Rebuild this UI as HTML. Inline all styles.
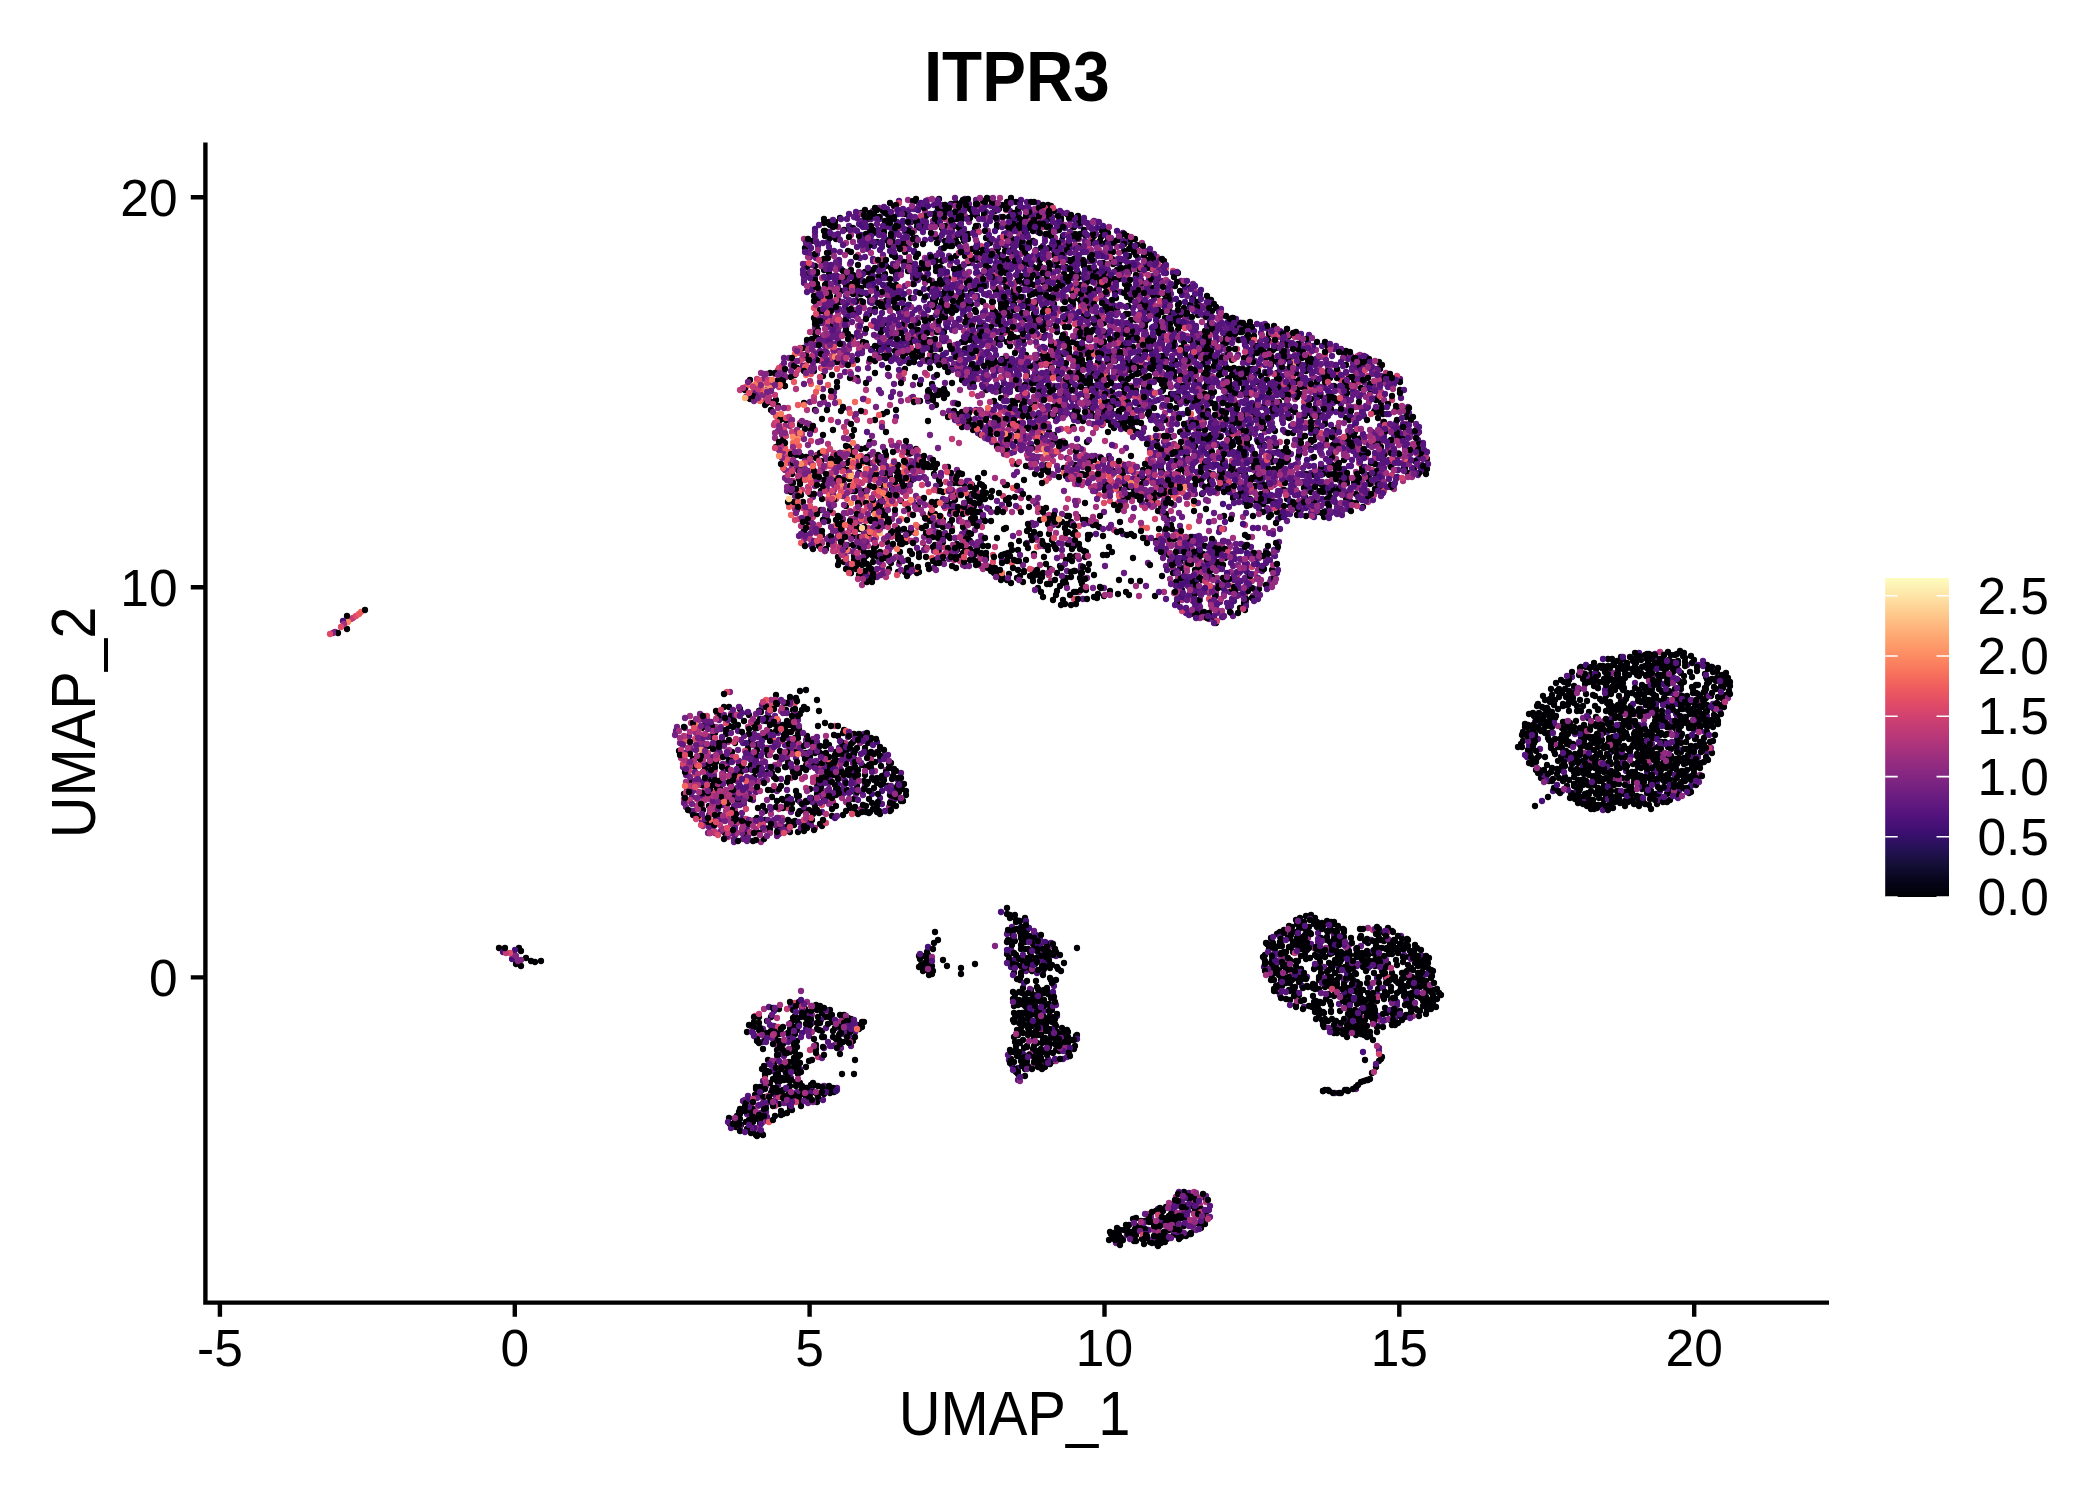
<!DOCTYPE html>
<html><head><meta charset="utf-8"><title>ITPR3</title>
<style>
html,body{margin:0;padding:0;background:#fff;width:2100px;height:1500px;overflow:hidden}
svg{display:block}
.t{font-family:"Liberation Sans",Arial,sans-serif;font-size:51.5px;fill:#000}
.ti{font-family:"Liberation Sans",Arial,sans-serif;font-size:70.9px;font-weight:bold;fill:#000}
.ax{font-family:"Liberation Sans",Arial,sans-serif;font-size:62.8px;fill:#000}
</style></head><body>
<svg width="2100" height="1500" viewBox="0 0 2100 1500">
<rect width="2100" height="1500" fill="#fff"/>
<g fill="none" stroke-linecap="round" stroke-width="6.3">
<path stroke="#a3307e" d="M1043 227h0m22-2h0m-46 12h0m-173 6h0m221 0h0m21 7h0m11 0h0m43-7h0m15 14h0m-109-3h0m-212 16h0m0-4h0m61-1h0m29 5h0m181 5h0m-145 5h0m-72 18h0m203-7h0m103 1h0m-36 13h0m-87 2h0m-40-5h0m-13-1h0m-168 2h0m140 18h0m225-3h0m1 1h0m-104 7h0m-110 7h0m-3-3h0m-69 3h0m-33-5h0m-41-2h0m-18 0h0m18 18h0m91-2h0m88 4h0m201-6h0m28-1h0m11 5h0m71 10h0m-173-1h0m-31-2h0m-19-2h0m-203 8h0m-6-3h0m-30-4h0m-41 6h0m-31-4h0m7 9h0m165 7h0m82 2h0m35-6h0m22-3h0m240 16h0m-22 3h0m-75-6h0m-151 1h0m-54 6h0m-67-1h0m-30-5h0m50 11h0m7 5h0m25-5h0m12 0h0m118-1h0m117 14h0m-240 2h0m-16-2h0m-5-2h0m-54 22h0m53-3h0m104-5h0m28 2h0m11 5h0m21 1h0m57-2h0m90-7h0m73 17h0m-10-3h0m-7 4h0m-61-5h0m-120 7h0m-217-9h0m-15 6h0m-12-7h0m19 12h0m9 5h0m6 5h0m15 1h0m39-2h0m238-6h0m39 4h0m25 3h0m8-8h0m8 7h0m15-3h0m3 7h0m-180 7h0m-104-6h0m-43 0h0m-75 1h0m35 20h0m120 0h0m184-8h0m54 6h0m11-9h0m6 3h0m-51 13h0m-17 1h0m-142 4h0m-6-1h0m-80-8h0m-94 22h0m248 0h0m10-10h0m85 4h0m43-3h0m-35 21h0m-8-4h0m-143-5h0m-55 2h0m-125 9h0m59 3h0m28 4h0m28-4h0m10 6h0m124-1h0m-87 9h0m-103 1h0m-51-6h0m-86 2h0m-28 13h0m9 5h0m206 2h0m38 1h0m49-1h0m19-1h0m-22 10h0m-8-1h0m-55-6h0m-244 3h0m139 13h0m110 5h0m31 2h0m63-3h0m-226 5h0m-48 3h0m-9 1h0m-2-3h0m-119 19h0m3-4h0m186 0h0m173 0h0m46 1h0m-25 12h0m-106 2h0m43 4h0m37 11h0m-448 89h0m10 11h0m-64 2h0m-18 7h0m17 7h0m57 10h0m-45 5h0m-38 5h0m130 19h0m-39-9h0m-1 3h0m-5 5h0m-12-4h0m-62 2h0m45 7h0m45 8h0m835 4h0m-800 9h0m-68-10h0m-5 9h0m-43 9h0m123 3h0m9-4h0m-71 16h0m-44-8h0m-1 5h0m22 14h0m34-7h0m33 10h0m-46 0h0m-13 1h0m558 119h0m-550 61h0m63 7h0m215 15h0m-266 67h0m-24 5h0m11 19h0m413 75h0m17 4h0m7 4h0m5 9h0m-28-1h0m-29 1h0"/>
<path stroke="#832681" d="M879 208h0m30 15h0m24-2h0m36 1h0m-16 14h0m83 34h0m50 0h0m1 3h0m1-5h0m52 18h0m-130-10h0m0 2h0m-78 3h0m207 13h0m3-5h0m44 3h0m-268 26h0m3-6h0m264 6h0m-47 10h0m-126 0h0m-188 13h0m169 6h0m258-9h0m-155 14h0m-291 6h0m145 10h0m378-1h0m14 9h0m-556 1h0m-2-5h0m-20 7h0m8 8h0m503 6h0m60-6h0m-47 12h0m-464 3h0m-67-6h0m186 17h0m155-3h0m105 4h0m45 0h0m-44 9h0m-357-1h0m-38 2h0m-3-1h0m-28 8h0m4 4h0m196-2h0m440 0h0m-20 20h0m-572 1h0m-1 1h0m-8 0h0m-34-3h0m43 7h0m31 8h0m54-6h0m290-5h0m38 5h0m59 2h0m-11 15h0m-126 0h0m-284 0h0m-21 0h0m-11-1h0m-7 1h0m-10-1h0m-21-3h0m-15-2h0m-1-2h0m-6 0h0m-1-1h0m32 12h0m28 6h0m0-3h0m410 5h0m118-6h0m-164 18h0m-50-5h0m-24 0h0m-211 4h0m-38 2h0m-6 1h0m-32 10h0m15-2h0m22-1h0m11 4h0m28 0h0m200-10h0m-187 18h0m-10-3h0m-48 3h0m-18-1h0m-5-3h0m-26 19h0m21-8h0m3 1h0m62 3h0m9 4h0m262 27h0m-287 0h0m310 29h0m-874 39h0m1278 41h0m-883 19h0m947 26h0m-73 3h0m90 7h0m-817 24h0m713 10h0m-750 3h0m-154-2h0m200 7h0m730 9h0m11 3h0m-765 29h0m-127 15h0m317 120h0m-267 125h0m38 22h0m-27 5h0m-49 24h0m409 111h0m13-9h0"/>
<path stroke="#932b80" d="M908 200h0m71 6h0m-14 1h0m-40 4h0m-87 16h0m111-3h0m16-8h0m64 4h0m23-1h0m27 20h0m-24-1h0m-40-9h0m-27 2h0m-87-3h0m-62 11h0m153 12h0m71-7h0m28 6h0m26-3h0m18 1h0m-80 13h0m-8-1h0m-149 2h0m52 3h0m19 7h0m85 0h0m95 11h0m-54 0h0m-79-1h0m-28-3h0m-20-1h0m-33 9h0m-10-4h0m-93 5h0m55 7h0m52-7h0m15 8h0m3 0h0m42-8h0m2 2h0m56 0h0m0 8h0m9-1h0m21-9h0m30 3h0m12 0h0m18 5h0m23-6h0m34 16h0m-38-4h0m-44 4h0m-29 5h0m-5-6h0m-28 6h0m-2-2h0m-18-8h0m-4 8h0m-180 1h0m-13 11h0m23-5h0m31 5h0m30-4h0m9 5h0m9-3h0m28 4h0m16-8h0m95 5h0m82 2h0m37-7h0m18 2h0m11 1h0m-31 16h0m-31 1h0m-105-1h0m-9-9h0m-35 0h0m-45 9h0m-71-9h0m-12 0h0m-34 5h0m18 7h0m139 6h0m74-6h0m13 0h0m1 7h0m57 1h0m47 1h0m61-5h0m9-4h0m26 9h0m19 11h0m-7-7h0m-21 5h0m-19 3h0m-192-4h0m-67-4h0m-35 2h0m-19-1h0m-64 1h0m-30 10h0m73 0h0m20 6h0m34-3h0m50 0h0m92-4h0m51 5h0m130 2h0m-4 10h0m-15-3h0m-19 5h0m-19 1h0m-13-1h0m-46-3h0m-53 3h0m-21-3h0m-55-4h0m-105 7h0m-208-7h0m199 17h0m46 5h0m104 0h0m21-9h0m102 9h0m6 0h0m11 0h0m61-3h0m39-7h0m5 2h0m-116 16h0m-218-3h0m153 14h0m30-4h0m161-2h0m18 14h0m-3 7h0m-32 2h0m-10-4h0m-142 2h0m-14 2h0m-13-7h0m-46-3h0m-26 3h0m-77-1h0m-39 0h0m-191 3h0m-5 0h0m-10 12h0m21-2h0m353 2h0m40 2h0m24 1h0m30-3h0m22-6h0m7 9h0m33-5h0m30-2h0m26 4h0m29 12h0m-32 1h0m-87 2h0m-44-9h0m-447 7h0m53 5h0m409 3h0m20 2h0m143-4h0m7 20h0m-14-7h0m-35 9h0m-73-10h0m-36 1h0m-19 1h0m-414-3h0m37 18h0m437 5h0m99-2h0m-32 4h0m-24-1h0m-39 9h0m-49-9h0m21 17h0m12 3h0m-40 5h0m-19 12h0m41-1h0m8 3h0m-54 14h0m-27 4h0m-15 1h0m-8-6h0m31 18h0m42-2h0m17-7h0m0 5h0m-1 12h0m-85-2h0m-3 11h0m38 0h0m9-1h0m36 18h0m-37-3h0m444 90h0m41 18h0m-66 13h0m-95 3h0m-809-3h0m129 29h0m-138-4h0m-26-6h0m24 20h0m47-5h0m817 5h0m77 2h0m-90 7h0m-815-3h0m74 20h0m45-8h0m825 4h0m-91 7h0m-842-2h0m-49 11h0m171 16h0m-28 2h0m-100 33h0m607 86h0m-81 5h0m21 5h0m-286 30h0m314-7h0m-44 11h0m73 35h0m-558-5h0m5 13h0m601 1h0m-33 4h0m-542 4h0m-46 12h0m43 9h0m-59-1h0m1 15h0m4 5h0m23 26h0m-42 7h0m387 133h0m5 0h0m37-6h0"/>
<path stroke="#56147d" d="M899 201h0m122-1h0m6 2h0m11 1h0m-6 7h0m-8-2h0m-5 5h0m-9-2h0m-19-5h0m-5 6h0m-1-6h0m-51-1h0m-15 1h0m-16 3h0m-54 17h0m14 1h0m17-10h0m0 2h0m3 8h0m3 0h0m16-3h0m7-7h0m29 1h0m22 7h0m25-6h0m16-2h0m15 3h0m27-1h0m2 1h0m25 0h0m10 6h0m14-5h0m11 8h0m-67 3h0m-25-1h0m-9 3h0m-4 4h0m-36-9h0m-12 2h0m-9 2h0m0-4h0m-11 9h0m-1 1h0m-21-10h0m-5 3h0m-12 5h0m0-5h0m-64 0h0m28 15h0m3-6h0m8 8h0m12 1h0m25-7h0m9 8h0m25-11h0m23 8h0m15-5h0m38-3h0m2 5h0m6-3h0m20 4h0m11 4h0m8-10h0m8 8h0m5-8h0m51 2h0m19 9h0m15 9h0m-6-6h0m-16 4h0m-4 5h0m-2 0h0m-5-1h0m-30-9h0m-3 8h0m-5 0h0m-8 1h0m-23-6h0m-55 5h0m-52 0h0m-56-6h0m-78-1h0m24 15h0m30 5h0m9-8h0m15 5h0m6 0h0m19-3h0m20 7h0m22-5h0m14 3h0m5 2h0m26-5h0m8-5h0m3 6h0m6-5h0m15 9h0m14-1h0m1-9h0m9 2h0m29 4h0m16-1h0m13 4h0m24-7h0m18 0h0m7 18h0m-8-4h0m-8-1h0m-1-4h0m-4 4h0m-8 0h0m-56 1h0m-10 5h0m-3-8h0m-46 3h0m-20 6h0m-36-7h0m-10 3h0m-3-6h0m-43 7h0m-17-6h0m-2 1h0m-10-1h0m-2 0h0m-10-2h0m-4 7h0m-19 2h0m-23-6h0m-12-2h0m-3 9h0m-8-6h0m0 3h0m3 9h0m60 2h0m7-5h0m19 6h0m3-4h0m62-2h0m7 0h0m2 7h0m8-8h0m26 7h0m16 0h0m6 2h0m1-7h0m7 1h0m45 3h0m4-6h0m17 1h0m24 3h0m26-1h0m21-3h0m53 21h0m-20 0h0m-2-4h0m-7 1h0m-21-6h0m-26 11h0m-3-10h0m-7 1h0m-2 6h0m-29-8h0m-2 0h0m-10 0h0m-11 4h0m-8 1h0m-37-4h0m-25 0h0m-2 0h0m-3 4h0m-6-5h0m-46 2h0m-10 5h0m-20-7h0m-9 10h0m-45-8h0m0-2h0m-14 2h0m-11 2h0m0 3h0m-6-6h0m-11 0h0m-2 14h0m32-3h0m41 0h0m64 2h0m7 7h0m23-6h0m3 3h0m11-3h0m7 2h0m6 1h0m30-5h0m15 3h0m10 3h0m21 1h0m17-7h0m11 3h0m17 0h0m1 6h0m12-7h0m18 0h0m18 2h0m21 1h0m98 17h0m-8-1h0m-35-6h0m-4-3h0m-1 8h0m-33 0h0m-9-8h0m-5 0h0m-18 8h0m0-5h0m-3 6h0m-40-1h0m-1-5h0m-11 1h0m-6 1h0m-13 1h0m-1 4h0m-22-7h0m-3-1h0m-8-3h0m-52 4h0m-10-2h0m-30-2h0m-40 0h0m-18 1h0m-7 4h0m-6 0h0m-10-5h0m-1 10h0m-1-4h0m-57 7h0m31 10h0m3-5h0m3-5h0m10 5h0m21 3h0m50 0h0m8 0h0m42-1h0m29 2h0m10-4h0m14 2h0m13-4h0m6 6h0m31 0h0m21 1h0m4-4h0m2-5h0m7 0h0m1 7h0m13 0h0m5-9h0m22 10h0m31-8h0m27 4h0m7 4h0m32-1h0m9-2h0m14 3h0m14 0h0m-20 13h0m-12-10h0m-11 8h0m-55-2h0m-21-1h0m-5-6h0m-13 6h0m-3-6h0m-19 4h0m-11 2h0m-2-5h0m-17 8h0m-19 0h0m-11-9h0m-13 7h0m-3-4h0m-3 6h0m-20 2h0m-41-4h0m-2 3h0m-12-8h0m-45-2h0m-10 5h0m0-5h0m-14 5h0m-3-4h0m0 10h0m-5-6h0m-37 6h0m-24-3h0m-8-3h0m-15-3h0m29 11h0m9 2h0m29-1h0m17-2h0m29 8h0m6-5h0m5 7h0m2-10h0m20 7h0m1-5h0m12 4h0m22-2h0m43 2h0m14-3h0m19 4h0m11-5h0m15 8h0m13-10h0m3 7h0m2-3h0m14 0h0m37 6h0m2-6h0m4-4h0m3 10h0m31-9h0m1 0h0m54 4h0m6 0h0m37 3h0m4 0h0m15 1h0m29 10h0m-25 4h0m-11-1h0m-54-1h0m-17 0h0m-20 1h0m-5-10h0m-7 11h0m-12-9h0m-25 7h0m-18-2h0m-17-6h0m-10 10h0m-24-10h0m-33 3h0m-15-2h0m-46 0h0m-17 6h0m-1 0h0m-7-7h0m-21 4h0m-31-4h0m-7 4h0m5 8h0m26 5h0m1 2h0m25-2h0m9-2h0m54 5h0m5-9h0m49 7h0m2 4h0m47-6h0m60-2h0m56 8h0m9-7h0m6 5h0m12-5h0m10 3h0m15 16h0m-20-5h0m-2-5h0m-3-1h0m-2 8h0m-3-4h0m-5 3h0m-5 1h0m-12 0h0m-29 0h0m-19-5h0m-16 7h0m0-3h0m-14 3h0m-32-7h0m-23 1h0m-58-1h0m-27-3h0m-11 3h0m-11 8h0m-4-1h0m-2 1h0m-4-2h0m-5-4h0m-14 6h0m-51-2h0m-20 5h0m97 7h0m47 1h0m22-8h0m30 9h0m7-5h0m12 5h0m8-8h0m10 6h0m12-4h0m11-3h0m12 0h0m5 9h0m14-3h0m19 0h0m35-6h0m1 1h0m4 4h0m6-4h0m0 5h0m8-4h0m7 0h0m7 4h0m17-8h0m8 2h0m14 4h0m20-1h0m0 3h0m-11 13h0m-2-6h0m-16 3h0m-49-1h0m-4 6h0m-2-11h0m-29 5h0m-5 1h0m-8 4h0m-37-10h0m-14 2h0m-4-1h0m-3 4h0m-15 2h0m-25-1h0m-62 2h0m-21-3h0m-9-1h0m-83-3h0m-21 4h0m22 10h0m11-3h0m127 11h0m39-10h0m26 6h0m7-3h0m14 5h0m9-7h0m41-2h0m12 8h0m33-5h0m64 0h0m7-1h0m10-1h0m8-1h0m4 11h0m1 7h0m-9-6h0m-59 11h0m-72 0h0m-10-2h0m-6 0h0m-6-1h0m-2-6h0m-16 0h0m-10 9h0m-17-11h0m-16 8h0m-14-5h0m-9 7h0m-1 1h0m-8-10h0m-5 3h0m-9 5h0m-4-5h0m-1 2h0m-119-6h0m-18 0h0m96 12h0m44 9h0m32-6h0m28 8h0m46-10h0m2 6h0m37-5h0m14 0h0m37 8h0m30-1h0m18-5h0m21-1h0m4 6h0m1 6h0m-5 4h0m-34-7h0m-2 11h0m0-2h0m-3-8h0m-30 9h0m-7-6h0m-15-1h0m-3-3h0m-13 5h0m-35 0h0m-12 4h0m-9 2h0m-5-10h0m-27 1h0m-1 9h0m-9-5h0m-10 4h0m-11-8h0m-22 4h0m-8 9h0m59 5h0m19-5h0m19-2h0m3-1h0m7 2h0m14 8h0m7 0h0m1-5h0m12-3h0m3 0h0m22 2h0m7 3h0m7 0h0m53-4h0m-22 17h0m-1-5h0m-6 6h0m-3-2h0m-1 1h0m-12 1h0m-22-8h0m-10 0h0m0 7h0m-20-7h0m-3 2h0m-7 3h0m-10-3h0m-10 4h0m-22-4h0m-4 1h0m-9-1h0m-4 12h0m30 2h0m9 2h0m19 3h0m14-10h0m11 6h0m14 1h0m5 2h0m5-2h0m4-4h0m1 2h0m1 6h0m-64 4h0m-69 3h0m-86 12h0m42-3h0m88-3h0m20 6h0m1 16h0m-8 1h0m-46 0h0m-6-9h0m-1-1h0m-12 1h0m-14 3h0m-7 6h0m-14-2h0m-9 0h0m12 5h0m22 2h0m4 1h0m52 0h0m10-1h0m0 2h0m9 5h0m8-8h0m1 1h0m2 17h0m-15-2h0m-23 2h0m-20-4h0m-2-5h0m-15 2h0m-4 2h0m-16 0h0m3 14h0m33 1h0m16-3h0m7 1h0m26 4h0m-9 14h0m-33-8h0m-26-2h0m-14 9h0m-102 1h0m110 2h0m1 8h0m5 1h0m0-5h0m18-1h0m14 0h0m0 2h0m15-4h0m-23 15h0m-1 0h0m-36-4h0m470 45h0m47 3h0m-16 4h0m-115 12h0m63 6h0m15-11h0m24 6h0m6 17h0m-74-7h0m-32 0h0m47 12h0m92 4h0m11-4h0m-4 11h0m-13 5h0m-11 3h0m-45-7h0m-10-3h0m-17 1h0m-13 9h0m-873 12h0m797-9h0m97 4h0m7-1h0m18-3h0m48 10h0m-98 0h0m-69 7h0m-674-5h0m-16 3h0m-80-3h0m-25 9h0m-54-7h0m14 12h0m47 6h0m21-6h0m14-3h0m19 10h0m35-7h0m701 1h0m39-5h0m128 8h0m0 7h0m-9-2h0m-56 7h0m-759-8h0m-35 3h0m-52-1h0m-40 3h0m-1-4h0m-27 6h0m-5 10h0m8 0h0m5 1h0m28 0h0m60-4h0m6 6h0m11-6h0m56 9h0m4-6h0m725-2h0m28 0h0m4 2h0m-765 17h0m-28-4h0m-13-6h0m-9 9h0m-80-8h0m-10 19h0m3-8h0m59 11h0m29-10h0m51 6h0m689 1h0m77-3h0m17 1h0m-796 6h0m-60 8h0m-78-8h0m-2 15h0m41 8h0m-36 3h0m587 105h0m-16-2h0m-284 1h0m-13-7h0m-9 0h0m28 12h0m0 6h0m11-2h0m260 1h0m7-2h0m83-6h0m21 20h0m-18-1h0m-48-6h0m-300 7h0m-44 6h0m14 9h0m16-11h0m1 11h0m314-5h0m25-4h0m45 12h0m-41 4h0m-40 2h0m-2 1h0m-37-4h0m-253 9h0m226 9h0m117 10h0m0-3h0m-58 2h0m-35 3h0m-248-2h0m-287 2h0m5 4h0m259 1h0m11-1h0m13 5h0m322 0h0m-32 5h0m-300 1h0m-195 2h0m-40-1h0m-38 3h0m-21 7h0m9 9h0m27-6h0m39 6h0m27-10h0m-4 14h0m-27 2h0m-40 8h0m225 4h0m39-1h0m-257 19h0m-18-7h0m-1 19h0m6-5h0m34 5h0m12-4h0m13 2h0m181-8h0m-195 20h0m-49-6h0m-7 9h0m-19-7h0m-5 5h0m4 13h0m14-1h0m7 8h0m-29-3h0m450 75h0m-31 16h0m14 2h0m1-7h0m0 3h0m3-5h0m4 4h0m2-6h0m-19 22h0m-15 8h0m28 5h0"/>
<path stroke="#f9785d" d="M780 426h0m374 12h0m-303 36h0m29 8h0m15 5h0m-8 11h0m-23 13h0m330-7h0m-278 29h0m-221 192h0"/>
<path stroke="#471078" d="M965 199h0m81 13h0m-97 0h0m-12 0h0m-39 2h0m88 11h0m88-6h0m3 16h0m-157-7h0m-46 5h0m-13 2h0m-33 7h0m46 4h0m28-1h0m39 4h0m161-5h0m43 18h0m-62-10h0m-74 11h0m2 6h0m14 1h0m94-6h0m66 23h0m-74 0h0m-131-4h0m-117-2h0m13 7h0m51 8h0m15-1h0m23-6h0m47 6h0m170 0h0m-69 10h0m-93 2h0m-90-3h0m-83-1h0m302 16h0m23 0h0m37-7h0m45 19h0m-101-4h0m-45 8h0m-10-5h0m-52 5h0m-146 6h0m32-1h0m111 7h0m166-9h0m93 2h0m11 6h0m53 11h0m-32-8h0m-34 5h0m-44-4h0m-83-1h0m-82 8h0m-118 7h0m92 2h0m86-3h0m10 0h0m36 3h0m23 4h0m68-1h0m-6 7h0m-28 1h0m-118-4h0m-64 3h0m-23 8h0m138 10h0m9-10h0m132 7h0m12-5h0m-117 12h0m-1 5h0m-10-7h0m-20 5h0m-43 0h0m-27 0h0m-117 7h0m97 5h0m55 3h0m26-2h0m53-1h0m29-5h0m11 6h0m79 4h0m-48 8h0m-63-6h0m-112 6h0m60 16h0m17 1h0m41-10h0m7 7h0m4-4h0m50-3h0m107 7h0m-5 8h0m-97-1h0m-78 5h0m-54-2h0m19 16h0m186-6h0m-161 31h0m67-9h0m27 17h0m-47 3h0m-31 0h0m-7-7h0m69 13h0m-131 50h0m8 0h0m2 0h0m29 1h0m3-4h0m29 12h0m-50 14h0m20 15h0m-19-6h0m37 11h0m421 53h0m16 39h0m15 6h0m8 31h0m-14 8h0m-828 12h0m714 9h0m-686 1h0m807 16h0m4 10h0m-12 5h0m-22-9h0m-95 9h0m-9 0h0m-654-9h0m-61 2h0m34 10h0m703-1h0m-539 142h0m245 8h0m39 11h0m-808 5h0m502 1h0m31 2h0m293 4h0m87 8h0m-48 4h0m-75 8h0m76 9h0m17 15h0m-17 16h0m-538 7h0m523 19h0m-340 2h0m-11 11h0m6 3h0m-229 36h0"/>
<path stroke="#d2426f" d="M899 203h0m146 15h0m-42 19h0m170 34h0m-77 28h0m13-9h0m51 11h0m50 29h0m-201 2h0m-183-7h0m27 15h0m63-3h0m442 19h0m-282-8h0m-243 12h0m564 16h0m-56 4h0m-288-3h0m-126-2h0m45 19h0m3 17h0m415 19h0m-598 2h0m19 9h0m247 11h0m-214 1h0m-31 12h0m12 2h0m36-11h0m287 4h0m54 1h0m-407 8h0m151 13h0m237 11h0m-180 3h0m-142 7h0m-33-4h0m-25 9h0m30 5h0m31-1h0m16-1h0m139-3h0m261-1h0m-125 12h0m-237 8h0m-52-6h0m10 17h0m283-2h0m22 0h0m-335 21h0m30 16h0m313 26h0m-354 127h0m-127 27h0m11 5h0m-6 2h0m-1 32h0m7 11h0m110-3h0m-42 8h0m600 169h0m-632 39h0m23 11h0m350 205h0"/>
<path stroke="#b2357b" d="M928 200h0m78 10h0m85 28h0m-286 26h0m79 22h0m-55 1h0m226 3h0m99 15h0m-334-2h0m18 11h0m240 5h0m-62 10h0m-172 17h0m465 8h0m-450-5h0m-51-1h0m13 20h0m5-1h0m4 0h0m556 6h0m-461 0h0m-22 6h0m-37 11h0m455 4h0m-182 3h0m-228 1h0m-47 1h0m-15 10h0m167 7h0m151 3h0m139 4h0m-64 8h0m-398-4h0m167 11h0m7 0h0m17-1h0m208 6h0m-72 6h0m-86 6h0m-2-5h0m-42-1h0m-22-1h0m-122 2h0m-22 5h0m-47-11h0m86 23h0m99-3h0m30-7h0m18 0h0m56 7h0m272 13h0m-170 2h0m-71-1h0m-14 0h0m-22-3h0m-7-3h0m-6-2h0m-50 8h0m-1-6h0m-246 3h0m273 9h0m8-2h0m23 1h0m34 2h0m234 10h0m-208 0h0m-19-1h0m-15 7h0m-54 0h0m-100-8h0m-149 9h0m-34 7h0m243 3h0m11 3h0m196 10h0m-381-6h0m-61 14h0m1 5h0m148-10h0m162 2h0m51 5h0m-3 10h0m-294 1h0m-7 4h0m-26 1h0m-13-8h0m-1-2h0m39 20h0m119-7h0m1 5h0m275 15h0m-223-4h0m146 8h0m32 13h0m-131 1h0m-728 27h0m1309 33h0m-969 71h0m57 4h0m46 2h0m51 14h0m-37-3h0m-111 4h0m952 17h0m-945-5h0m98 23h0m14-2h0m-56 14h0m-55-2h0m-21 10h0m4 2h0m19-4h0m119 17h0m-47-5h0m-44 1h0m-17-6h0m-16 1h0m35 18h0m40 195h0m-20 18h0m437 156h0"/>
<path stroke="#df4a68" d="M1166 268h0m-348 25h0m6 6h0m-10 9h0m-3 37h0m22 5h0m-54 18h0m480-2h0m-475 64h0m253 20h0m-119 1h0m128 30h0m67 2h0m54 6h0m8-5h0m-2 11h0m-55 8h0m-8-2h0m-6 2h0m-150-11h0m-56 0h0m-9 7h0m-95 5h0m167 6h0m118 16h0m-139 28h0m53 1h0m216 44h0m-135 0h0m-347 93h0m44 14h0m24-3h0m-5 39h0m-82-6h0m-24 19h0m94-11h0m44 61h0m-94 10h0m32 10h0m35 178h0"/>
<path stroke="#eb5760" d="M836 331h0m-20 11h0m278 12h0m-271 15h0m282 6h0m-359 12h0m82-2h0m273 17h0m-233-1h0m-92 15h0m262 13h0m295 25h0m-548-6h0m313 16h0m2 0h0m8 11h0m-39 4h0m-184-1h0m-8 11h0m136-1h0m-166 11h0m295 28h0m-260-10h0m-47 9h0m-25 1h0m65 6h0m-58 10h0m115 15h0m80 5h0m222-8h0m-539 219h0m24 42h0m-7 16h0"/>
<path stroke="#fc8a62" d="M1295 362h0m-456 40h0m-41 37h0m38 26h0m-4 12h0"/>
<path stroke="#c23b75" d="M1030 216h0m-146 20h0m97 10h0m108-1h0m-231 10h0m284 19h0m-79 49h0m38 12h0m136 14h0m-158 2h0m-13-1h0m-136 5h0m-128 4h0m-20 7h0m11-4h0m19-1h0m237 1h0m331 5h0m-12 9h0m-75 0h0m-518-2h0m-7 6h0m-11-1h0m-17 11h0m13 3h0m626-8h0m-23 22h0m-230-10h0m-90 7h0m-222-7h0m-48 3h0m235 10h0m201 12h0m-320 1h0m-67 7h0m-15-7h0m-25 0h0m177 16h0m88 4h0m240-1h0m-238 7h0m-42-4h0m-166 8h0m-8-1h0m-39 5h0m30-1h0m12 9h0m239 0h0m65 0h0m233-8h0m6 13h0m-235 4h0m-48 4h0m-181-10h0m-42 10h0m-44-9h0m-29 12h0m9 9h0m7-1h0m65-2h0m23-1h0m64 4h0m217 2h0m-342 7h0m74 15h0m35-6h0m19 1h0m178-4h0m-160 22h0m-131 0h0m-52-8h0m50 18h0m8 0h0m11-9h0m2 11h0m125 8h0m-19-2h0m-33 2h0m-110 4h0m-19-8h0m373 24h0m58 20h0m1-8h0m-410 188h0m-147 4h0m57 48h0m-22 13h0m649 98h0m-586 79h0m31 48h0"/>
<path stroke="#651a80" d="M1037 213h0m-68-9h0m128 18h0m5 6h0m-46 3h0m-11 6h0m15 13h0m6-4h0m19-5h0m6 2h0m19 12h0m-19 6h0m-26-8h0m-20 4h0m-6 4h0m-67 2h0m-23-7h0m-13 0h0m-126 1h0m-7 17h0m140-5h0m178 3h0m60 9h0m-23-2h0m-18-3h0m-3 4h0m-86 1h0m-29 2h0m-184 4h0m-34-10h0m19 15h0m34 3h0m42 0h0m2-5h0m88 3h0m64 2h0m34 2h0m84-3h0m16 2h0m-38 7h0m-58 2h0m-28-5h0m-20 6h0m-14-2h0m-5-3h0m-58 1h0m-127 7h0m-3-6h0m-6-3h0m0 16h0m16 1h0m6 5h0m37-1h0m4-5h0m11 6h0m4-5h0m75 6h0m11-1h0m7-9h0m1 5h0m47-2h0m220 14h0m-4-6h0m-39 4h0m-97 7h0m-125-9h0m-12 5h0m-26-6h0m-12 1h0m-11 5h0m-63 4h0m-15-2h0m-20 0h0m-17-6h0m-12 18h0m66-3h0m64-4h0m113 8h0m56-8h0m66 2h0m42 5h0m30 1h0m35-4h0m-26 12h0m-39 2h0m-90-5h0m-23 6h0m-38 2h0m-83-4h0m-9-4h0m-47 5h0m-71-3h0m-15 0h0m-8-2h0m87 10h0m53 10h0m19-2h0m21 1h0m16-6h0m20-2h0m124 9h0m30-1h0m72-10h0m2 0h0m38 4h0m55 5h0m5 7h0m-19-2h0m-6 0h0m-20-2h0m-35 3h0m-50 4h0m-40-3h0m-18 3h0m-5 4h0m-12-4h0m-51-6h0m-76 4h0m0 2h0m-14-6h0m-2 4h0m-4 5h0m-2 1h0m0-11h0m-8 9h0m-7-5h0m-40 7h0m-71-5h0m-12-2h0m-69 6h0m-39-8h0m-25 18h0m48-8h0m30 8h0m47 1h0m12-1h0m35 3h0m8-5h0m69 1h0m49-5h0m47 9h0m121-8h0m99 0h0m56 3h0m31 17h0m-42-1h0m-15-6h0m-171 4h0m-29 1h0m-105-8h0m-128 4h0m-5-4h0m-50 2h0m-35 6h0m142 5h0m11 1h0m13-1h0m31 4h0m17-1h0m180 3h0m5-6h0m10-1h0m29 6h0m38-7h0m22 2h0m37 3h0m53 11h0m-66 3h0m-45 1h0m-6-7h0m-17-1h0m-10 3h0m-29 2h0m-29-5h0m-42 4h0m-16-3h0m-78 0h0m-22 0h0m-74 6h0m-4 6h0m14 6h0m9 0h0m48 3h0m84-5h0m31 5h0m43-6h0m24-1h0m16-2h0m8 1h0m40 6h0m42 2h0m8 0h0m31-9h0m41 1h0m-7 20h0m-22-6h0m-21 4h0m-18-6h0m-1 4h0m-11-2h0m-16 0h0m-1 3h0m-20-6h0m-38 6h0m-11-4h0m-92 3h0m-2-6h0m-31 4h0m-60-2h0m-62 2h0m-3-3h0m-92 9h0m7 11h0m0-4h0m114 6h0m2-7h0m4 2h0m143-2h0m16 2h0m38 5h0m20-11h0m106 3h0m-3 20h0m-26-5h0m-39 3h0m-9-9h0m-93 10h0m-38-5h0m-18 6h0m-22-10h0m-33 4h0m-160-5h0m-8 9h0m18 7h0m166 6h0m10-9h0m83 0h0m19 6h0m19-7h0m53 11h0m81-9h0m22 14h0m-171-3h0m-46 8h0m-14-6h0m-13-3h0m-13 6h0m-4 2h0m-176 6h0m6 8h0m2-4h0m16-2h0m13-2h0m74 5h0m110-5h0m49 7h0m53-5h0m44 5h0m10-7h0m16 1h0m-50 14h0m-107 5h0m-10 0h0m-81-3h0m-38-2h0m-19 2h0m-53-1h0m-45 4h0m31 5h0m144-3h0m67 4h0m17 5h0m12 2h0m64-6h0m10 9h0m-43 7h0m-59-4h0m-15 1h0m-1-1h0m-117 1h0m-105 4h0m-128-5h0m191 15h0m146 3h0m15-5h0m2-5h0m5 8h0m83-8h0m-87 13h0m-99 5h0m-102-5h0m-31 2h0m212 18h0m34-6h0m91-1h0m-41 13h0m-6 2h0m-20-2h0m-5 1h0m-95-5h0m96 12h0m9 19h0m443 58h0m-890 28h0m4 0h0m15-5h0m-6 16h0m-14-6h0m-40 8h0m-14 2h0m12 0h0m98 17h0m-28 2h0m-10 1h0m-1-7h0m-20 4h0m-4-3h0m-3 5h0m-38-7h0m-30 6h0m22 6h0m7 2h0m6 6h0m40-8h0m5 8h0m25-6h0m65 17h0m-27 2h0m-81-7h0m-62 9h0m3 8h0m47-1h0m59-6h0m56 3h0m-19 12h0m-52 8h0m-40-3h0m-6-2h0m-8-6h0m-16 2h0m-23 21h0m8-6h0m5 2h0m38-6h0m8 10h0m148-2h0m-92 11h0m-29-5h0m-36-1h0m-11-1h0m-29 6h0m8 10h0m7 6h0m40-7h0m25 0h0m4-2h0m-1 18h0m-12-8h0m-30 7h0m-1 4h0m13 2h0m628 88h0m-105 14h0m79 2h0m-558 60h0m549 21h0m-577 3h0m-12-3h0m90 22h0m226 9h0m289 32h0m-21 4h0m-538-1h0m-8 0h0m-44 8h0m439 105h0m12-2h0m14 14h0m-12 6h0m-38-10h0m-9 4h0m-24 18h0m66-8h0m-77 16h0"/>
<path stroke="#000004" d="M913 201h0m2 0h0m1-2h0m47 1h0m5-1h0m16 2h0m6-2h0m4 4h0m13-1h0m4-4h0m5 4h0m15 0h0m3 0h0m33 12h0m-13-3h0m-6-6h0m-30 4h0m-10-3h0m-6-1h0m-30 6h0m-31 0h0m-3-3h0m-4 6h0m-10-6h0m-19 6h0m-17 1h0m-59 9h0m4 3h0m31-7h0m21 3h0m5-7h0m27 7h0m0 4h0m6-3h0m3-8h0m26 6h0m5-3h0m5 0h0m8-1h0m7-2h0m20 11h0m12-10h0m17-1h0m4 9h0m8-2h0m10-4h0m2 7h0m11-8h0m8 0h0m5 9h0m4-11h0m1 7h0m2-3h0m40 15h0m-13-2h0m-2-2h0m-4 0h0m-1 6h0m-7-1h0m-19-2h0m-23-4h0m-1 6h0m-39 3h0m-27-8h0m-17 3h0m-9-6h0m-1 7h0m-22 2h0m-60-5h0m-23-4h0m-23 10h0m-6-7h0m46 14h0m16-5h0m3 5h0m18 1h0m30-3h0m8-2h0m5 5h0m6-5h0m66 4h0m0-3h0m27 6h0m9-5h0m21 3h0m21-5h0m7 2h0m6 0h0m2-2h0m3-1h0m6 11h0m13-6h0m16 14h0m-2-3h0m-6-2h0m-61 9h0m-10-4h0m-2 1h0m-15 2h0m-55-2h0m-2-5h0m-23 5h0m-12-4h0m-14 2h0m-9 3h0m-20 2h0m-17-11h0m-13 3h0m-62-3h0m-9 9h0m-12 12h0m8-1h0m41-7h0m7 7h0m21-6h0m5 2h0m5 6h0m12-3h0m50-2h0m31-1h0m17 5h0m23-9h0m9 4h0m11 2h0m17-3h0m6 7h0m5-2h0m44-4h0m8 4h0m20-6h0m42 21h0m-16-1h0m-15-3h0m-35 1h0m-6-5h0m-9 5h0m-2-5h0m-15-3h0m-6 6h0m-7 3h0m-22-5h0m-11 1h0m-9-2h0m-4 6h0m-3-7h0m-4-1h0m-6-1h0m-73 2h0m-52 7h0m-4 1h0m-2-7h0m-21 0h0m-8 1h0m-4 4h0m-5 0h0m-2 0h0m-12-6h0m-13 7h0m3 11h0m2 0h0m23-2h0m8-6h0m0 6h0m7 1h0m8-6h0m35 9h0m22 1h0m12-8h0m16 8h0m35-8h0m11-3h0m6 4h0m8 5h0m12-3h0m7-1h0m10-4h0m6 0h0m18 10h0m16-10h0m6 2h0m20 7h0m8-5h0m3 4h0m8-2h0m3-5h0m31 9h0m24-1h0m23 9h0m-4 4h0m-15-9h0m-18 1h0m-1 2h0m-20 5h0m-41-2h0m-23-4h0m-6 5h0m-8-9h0m-7 4h0m-6 5h0m-4 0h0m-9-5h0m-19 0h0m-42-2h0m-12-1h0m-6 9h0m-4-6h0m-5 2h0m-10 4h0m-1-2h0m-4-1h0m-7-1h0m-10 1h0m-39 0h0m-11 0h0m-23-6h0m-44 13h0m6 6h0m12 3h0m34-9h0m55 4h0m15 3h0m2-9h0m11 1h0m58 1h0m16 5h0m8-3h0m0 6h0m0-8h0m5 4h0m55 5h0m32-9h0m20 7h0m11-7h0m13-2h0m6 10h0m4-7h0m6-1h0m12 1h0m42 8h0m1 0h0m33 3h0m-7 0h0m-30 0h0m-32 5h0m-25-6h0m-2 5h0m-1-6h0m-11 0h0m-3 9h0m-5-7h0m-32 1h0m-33 3h0m-11-2h0m-4 0h0m-9-1h0m-4 0h0m-32 5h0m-9-1h0m-13 3h0m-4-4h0m-6-5h0m-10 2h0m-12 0h0m-35 5h0m-7 0h0m-19-2h0m-2 0h0m-14-5h0m-20 3h0m-66 8h0m3 3h0m32-2h0m12 5h0m25 2h0m40 2h0m6-5h0m28 1h0m40-3h0m17-1h0m4 2h0m18-3h0m26 2h0m1 3h0m9 2h0m20-6h0m3 7h0m28-5h0m3-2h0m19 1h0m3 2h0m54 2h0m8 2h0m8-4h0m3 2h0m13-3h0m8-3h0m7-1h0m14 4h0m19 5h0m38-3h0m3 5h0m41 12h0m-23-8h0m-40 6h0m-3-5h0m-1 6h0m-26-10h0m-32 10h0m-9-9h0m-20 9h0m-4-7h0m-24 7h0m-2-5h0m-1-4h0m-3-1h0m-72 8h0m-21-5h0m-19-3h0m-6 6h0m-9-5h0m0 8h0m-5-2h0m-6 0h0m-17 0h0m-11-2h0m-21 6h0m-29-10h0m-30 7h0m-4-6h0m-10 7h0m-37-1h0m-5-7h0m-7 0h0m-46 3h0m-34 13h0m22 6h0m3-11h0m40 0h0m52 3h0m21 5h0m4-8h0m54 3h0m5 0h0m8 0h0m9 8h0m1-5h0m27-5h0m28 2h0m15 4h0m17-5h0m10 0h0m29 5h0m29-7h0m4 10h0m2-2h0m16-7h0m3 8h0m29 0h0m12 0h0m2-1h0m9 1h0m10-7h0m0 7h0m18-4h0m6-3h0m34 0h0m69 7h0m5 8h0m-4 3h0m-36 2h0m-8-4h0m-7 0h0m-3-2h0m-2 6h0m-26-2h0m-22-2h0m-21 4h0m-28-4h0m-6-4h0m-3 1h0m-22 7h0m-9-3h0m-14-3h0m-5-4h0m-31 11h0m-6-7h0m-4 3h0m-13-6h0m-3 6h0m-34-4h0m-19 1h0m-7-3h0m-79 0h0m-141 2h0m-9 1h0m-28-1h0m-4 2h0m-8 4h0m-13-8h0m-20 7h0m-5 10h0m40-4h0m52 1h0m103 4h0m1 3h0m45-4h0m13 1h0m2-3h0m49 4h0m16-4h0m2-3h0m8 2h0m20 1h0m34 0h0m4-1h0m10 0h0m18 4h0m1-1h0m4-4h0m4 8h0m5 0h0m3-7h0m4-1h0m11 2h0m11-1h0m2-3h0m4 1h0m15 4h0m5 2h0m12 1h0m1-5h0m40 7h0m5-9h0m13 2h0m46 0h0m13 1h0m39 2h0m-19 13h0m-44-2h0m-9-1h0m0-3h0m-17 2h0m-38 3h0m-26-6h0m-12 8h0m-64-5h0m-5-1h0m-108 7h0m-27-2h0m-6-1h0m-3 4h0m-10-5h0m-1 6h0m-67-9h0m-8 7h0m-113-8h0m-19 6h0m-28-3h0m-5 2h0m-4 1h0m-17-4h0m21 11h0m70 1h0m42 3h0m4-2h0m64 4h0m5 1h0m6-5h0m7 7h0m0-6h0m44-3h0m7 1h0m9 4h0m0 3h0m22-4h0m3 2h0m8-7h0m12 5h0m1-3h0m4 6h0m9-6h0m6 5h0m11-6h0m6 0h0m8 1h0m7-3h0m6 2h0m0 8h0m18-1h0m4-9h0m66 9h0m6-4h0m0 6h0m11-10h0m16 3h0m3 5h0m2 2h0m14-8h0m30 6h0m3-1h0m2-3h0m5 3h0m2-7h0m27 0h0m5 9h0m28-6h0m9 2h0m12-3h0m2-1h0m16 7h0m2 14h0m-4-11h0m-14 0h0m-48 0h0m-15 10h0m-17-1h0m-1-6h0m-41 8h0m-11-3h0m-1-5h0m-1 4h0m-29-3h0m-34 5h0m-34-9h0m-9 9h0m-23 1h0m-3-8h0m-6 1h0m-13 2h0m-82 4h0m0-2h0m-12 4h0m-27-1h0m-4-10h0m-1 11h0m-12-1h0m-4-6h0m-5 1h0m-89-5h0m-24 4h0m-46 5h0m-19-9h0m37 15h0m83 6h0m75-6h0m28 1h0m8 5h0m37 1h0m0-7h0m54-3h0m29 0h0m4 4h0m30 1h0m21 2h0m45-2h0m1 1h0m1 4h0m8 1h0m11-1h0m35-9h0m8 5h0m10 4h0m5-6h0m39-4h0m3 7h0m17 3h0m3 0h0m7-10h0m18 7h0m3-7h0m17 23h0m-3-1h0m-2-7h0m-37 0h0m-13 6h0m-9-8h0m-83 1h0m-12-1h0m-34 4h0m-9-2h0m-26-1h0m-15 2h0m-102-1h0m-162 2h0m-8-2h0m-1 5h0m-22-1h0m-7 4h0m-12-7h0m-5 1h0m-10 5h0m-2-7h0m-12 8h0m-37 12h0m1-11h0m9 1h0m33 10h0m5-4h0m7-5h0m25 5h0m17 4h0m26-7h0m4 4h0m10 0h0m11 3h0m69-3h0m9 2h0m49-1h0m112-9h0m45 9h0m21-3h0m1 5h0m17-9h0m1 4h0m9 3h0m40 2h0m11-10h0m5 8h0m7-5h0m60 7h0m23-8h0m-8 14h0m-5-4h0m-6 4h0m-14-3h0m-17 1h0m-8 4h0m-29 0h0m-5-7h0m-4 7h0m-8-1h0m-17 0h0m-38-6h0m-12 8h0m-4 2h0m-9-6h0m-23-1h0m-35 1h0m-4-3h0m-19 3h0m-13-4h0m-6 2h0m-3 7h0m-18-7h0m-33 3h0m-7 1h0m-18-6h0m-16 1h0m-5 1h0m-8 4h0m-51-1h0m-50 1h0m-33 2h0m-4 3h0m0-2h0m-1-6h0m-6 5h0m-18 2h0m-13-5h0m-12-3h0m-8 8h0m-47-4h0m32 6h0m11 1h0m15 5h0m31 4h0m11-1h0m3-7h0m7 0h0m5 4h0m4-5h0m29 3h0m14-1h0m4 0h0m2 0h0m16 5h0m8-1h0m21-2h0m12 1h0m86 1h0m5-2h0m11 3h0m10-1h0m13-3h0m11-1h0m11 5h0m31-3h0m6-4h0m9 4h0m13-1h0m7 4h0m15-3h0m10 1h0m12 1h0m17 3h0m20-2h0m15-5h0m3 2h0m2 2h0m6 4h0m2-3h0m25-5h0m12-3h0m1 4h0m5 5h0m4-2h0m3 0h0m-14 9h0m-41 3h0m-4-7h0m-9 10h0m-6-2h0m-3-3h0m-18 2h0m-16 2h0m-4-9h0m-6 2h0m-5 7h0m-18-5h0m-5 2h0m-31-4h0m-38-1h0m-4 1h0m-5 8h0m-1-3h0m-6 1h0m-119-2h0m-14-1h0m-24 0h0m-8-5h0m-2 8h0m-6-4h0m-3-2h0m-4 3h0m-13 3h0m-12-8h0m-121 7h0m-19 3h0m-2-7h0m20 15h0m25-4h0m13-1h0m17 2h0m9 8h0m28 0h0m5-10h0m17 0h0m16 6h0m12 3h0m14-2h0m21-3h0m31-2h0m17 1h0m68-3h0m6 1h0m38 5h0m8 3h0m111-2h0m13-6h0m28 6h0m11-6h0m-5 11h0m-18-1h0m-53 0h0m-82 9h0m-4-6h0m-81 1h0m-15 2h0m0 3h0m-2-9h0m-2 8h0m0-8h0m-9 9h0m-4-6h0m-6 5h0m-20 0h0m-45-7h0m-10 6h0m-10 4h0m-13-3h0m-7 3h0m0-7h0m-17 6h0m-55-5h0m-1-2h0m-18 3h0m-16-2h0m-25-1h0m-3 3h0m10 9h0m24 7h0m12-2h0m39-5h0m9 7h0m24-5h0m3 3h0m9 2h0m1-3h0m4 4h0m7-1h0m19-5h0m37-5h0m43 6h0m16-6h0m8 6h0m2-2h0m1 2h0m12 1h0m43-1h0m3 2h0m7-5h0m40 0h0m10 6h0m54-2h0m31 8h0m-61 5h0m-28 2h0m-40-7h0m-63 8h0m-4-2h0m-6-3h0m-19 1h0m-1-2h0m-8 1h0m-4-5h0m-24 9h0m-6 0h0m-1-5h0m-41-4h0m0 8h0m-5-1h0m-8 2h0m-14-8h0m-37 0h0m-6 2h0m-13-2h0m-11 4h0m-16 1h0m-5-1h0m-8-1h0m-15-3h0m-3 2h0m9 13h0m16 3h0m0-4h0m3 4h0m7-8h0m2 4h0m3-2h0m11-2h0m5 5h0m1 1h0m3-3h0m2 8h0m52-1h0m7-9h0m51 3h0m6 5h0m10 0h0m9-1h0m8-6h0m10 3h0m32-1h0m36-4h0m76 11h0m2-6h0m10-1h0m19 6h0m6-4h0m43-4h0m-4 15h0m-84-1h0m-92 2h0m-17 2h0m-21-3h0m-4-5h0m-7 11h0m-6-2h0m-9-1h0m-6-2h0m-19 3h0m-11-5h0m-36-2h0m-33 6h0m-2 1h0m-19-1h0m-33 3h0m-3-10h0m-3 10h0m-8-2h0m16 9h0m2-5h0m133-1h0m5 4h0m10-2h0m13-2h0m3 5h0m1-5h0m6 5h0m2-4h0m8 7h0m5-4h0m27 4h0m18 3h0m19-7h0m43-4h0m19 2h0m11 0h0m0 5h0m7-6h0m20 9h0m40 3h0m-13 10h0m-52-4h0m-65 0h0m-19-4h0m-13 7h0m-3-1h0m-7 2h0m-31-4h0m-13 2h0m-2-5h0m12 8h0m124 3h0m22-3h0m41 8h0m4-5h0m1 7h0m-29 13h0m-2-6h0m-10-5h0m-3 4h0m-10-2h0m-853 19h0m1270 26h0m4 0h0m18-2h0m17 2h0m8-4h0m5 4h0m23-3h0m24 9h0m-10 6h0m-3-11h0m-9 2h0m-7-1h0m0 9h0m0-6h0m-3 3h0m-2-5h0m-7 7h0m-2-8h0m-12 6h0m-3-2h0m-7 2h0m-16-1h0m-6-4h0m-2 8h0m-4-6h0m-4 4h0m-2-2h0m-3 4h0m-5-4h0m-3 2h0m-3-5h0m-3 4h0m-30 13h0m8-2h0m10-3h0m10 7h0m1-4h0m4 3h0m4-6h0m5 7h0m3-4h0m5 1h0m4 1h0m5 3h0m5-5h0m0-4h0m9-2h0m7 1h0m5 2h0m0 1h0m14-1h0m2 1h0m3-3h0m16 0h0m3 9h0m0-6h0m6-4h0m19 10h0m4-10h0m4 0h0m13 10h0m-1 9h0m-8-5h0m-7 1h0m-7-3h0m-2 8h0m-7-7h0m-2 0h0m-4 2h0m-11-2h0m-6 4h0m-6 2h0m-1-7h0m-9 5h0m-18 5h0m-2-4h0m-15-2h0m-2 0h0m-10-1h0m-1 7h0m-13-6h0m-4-2h0m-26-2h0m-6 9h0m-10 2h0m-752-4h0m-24 4h0m-47 12h0m48-3h0m13-3h0m27-1h0m725 7h0m8-8h0m4 4h0m9 3h0m24-5h0m15 0h0m19 1h0m18-2h0m13 5h0m5-5h0m5 1h0m5-1h0m0 5h0m8-7h0m2 5h0m2-5h0m3 6h0m6 1h0m8-5h0m7 0h0m4 5h0m8 0h0m3-8h0m3 9h0m1-8h0m2 9h0m-7 10h0m-3-2h0m0-6h0m-15 2h0m-8 0h0m-3-1h0m-7-1h0m-23 10h0m-3-3h0m-5-8h0m-8 4h0m-30-2h0m-14-1h0m-10 9h0m-30-9h0m-3 9h0m-1-1h0m-6-2h0m-3-1h0m-1-6h0m-11 5h0m-726-4h0m-5 1h0m-2 4h0m-14-4h0m-26 9h0m-20-10h0m-9 7h0m-11-1h0m-4-4h0m13 15h0m9-1h0m6-4h0m5 8h0m5-5h0m2-1h0m1 5h0m19-3h0m2 0h0m7 5h0m9-2h0m24-2h0m7-3h0m6 3h0m13 4h0m681-3h0m3 0h0m3-1h0m2-1h0m0 6h0m12-9h0m0 5h0m20-5h0m2 5h0m2 1h0m7-7h0m4 10h0m0-2h0m5-1h0m5 2h0m3-6h0m7 4h0m2-3h0m9-2h0m9 8h0m15-10h0m1 4h0m16 2h0m1 3h0m0-5h0m2-4h0m2 9h0m7-5h0m3 2h0m12-3h0m3-1h0m7 0h0m5 2h0m5-1h0m8-4h0m5 0h0m6 4h0m-3 11h0m-19 2h0m-1 2h0m-7-2h0m-6-3h0m-5 9h0m-1-9h0m-11 8h0m-1 1h0m-6-7h0m-6 3h0m-8 2h0m-6-4h0m-4-3h0m0 0h0m-11 4h0m-4 3h0m-5-1h0m-1-3h0m-4 1h0m-10-5h0m0 9h0m-2-8h0m-2 9h0m-4-4h0m-1-2h0m-9 1h0m-17-6h0m-4 7h0m-11-6h0m-1 5h0m-13-4h0m-12 7h0m0-9h0m-653 9h0m-3-8h0m-5 4h0m-8-3h0m-1 8h0m-15-6h0m-31 0h0m-9-2h0m0 4h0m0-3h0m-3 8h0m-8-11h0m-36 10h0m-16 1h0m-8-11h0m-3 11h0m-9-10h0m-3 4h0m-33 14h0m69-2h0m0-1h0m6-3h0m13 5h0m1 5h0m21-11h0m12 8h0m5 1h0m6-2h0m3 2h0m11 0h0m3-8h0m7 7h0m18 2h0m14-1h0m10-1h0m644-5h0m8 7h0m6-3h0m15-5h0m3 5h0m6-6h0m6 6h0m1 4h0m3-10h0m5 9h0m1 1h0m5-8h0m9 2h0m21-1h0m6 2h0m3 3h0m15-8h0m7 9h0m10-1h0m1-5h0m18 1h0m7 2h0m3 1h0m20-5h0m3-3h0m8 9h0m-6 4h0m-9 8h0m-1-2h0m-7-1h0m-5-4h0m0 6h0m-3-3h0m-4 3h0m0-1h0m-14 0h0m-1 3h0m-3-9h0m-5 3h0m-11 1h0m-3-3h0m-2 4h0m-5 2h0m-9-6h0m-7 9h0m-1-9h0m-5 6h0m-1-2h0m-15-5h0m-12 4h0m-5 0h0m0 2h0m-13 3h0m-1-4h0m-2 4h0m-1-9h0m-22-1h0m-3 6h0m-4 2h0m-3-1h0m-667 2h0m-16-1h0m-6-3h0m-6 2h0m-5-1h0m-7 1h0m-9 0h0m-8-4h0m-17 3h0m-2 5h0m-35-2h0m-25-9h0m-10 6h0m-21 5h0m-2-8h0m18 20h0m27-1h0m29-5h0m7 4h0m25-4h0m3-5h0m24 9h0m16-5h0m7 3h0m33 1h0m3-1h0m4-7h0m4 8h0m1-5h0m2 0h0m643-1h0m2 8h0m5 1h0m5-7h0m6 2h0m0-5h0m2 9h0m18-9h0m12 6h0m7 3h0m2-5h0m6 6h0m2-11h0m0 10h0m5-7h0m2 3h0m4 1h0m16 2h0m2 2h0m6-11h0m20 2h0m0 5h0m6 1h0m0-1h0m2 4h0m1-6h0m2-5h0m3 11h0m9-5h0m10-5h0m2 9h0m-17 8h0m-12-5h0m-2 7h0m-14 3h0m-3-4h0m-17 0h0m-6-2h0m-8 6h0m-13-5h0m-1 5h0m-1-10h0m-3 0h0m-5 4h0m-3 6h0m-9-11h0m-8 4h0m-5-4h0m-6 1h0m-5 10h0m-9-10h0m-643 10h0m-38-9h0m-11 4h0m-10 4h0m-11 0h0m-15-3h0m-4-3h0m-1-4h0m-6 9h0m-38 1h0m-8-7h0m-34 1h0m-20 5h0m-8-4h0m-11-4h0m92 19h0m15 0h0m1-4h0m22-4h0m3 7h0m12-4h0m3-2h0m10 7h0m23 3h0m27-11h0m2 9h0m5-6h0m666-1h0m3 5h0m3-4h0m0 8h0m1-3h0m1-3h0m4-1h0m1-2h0m3-1h0m1 1h0m8-2h0m7 8h0m2-4h0m22 4h0m4 0h0m5-2h0m6 2h0m8-4h0m5-2h0m11 0h0m5 0h0m19-2h0m-34 12h0m-12 0h0m-20 2h0m-14-2h0m-2 1h0m-7 0h0m-4 0h0m-1 3h0m-3 1h0m-701-5h0m-2 6h0m-1 1h0m-10 3h0m-3-2h0m-4-3h0m-7-3h0m-8 8h0m-3-2h0m-5-4h0m-50 3h0m-2 3h0m-15-6h0m-18 3h0m-2-5h0m-31 4h0m-12 5h0m-11-9h0m-6 4h0m7 12h0m24-1h0m0-4h0m2 2h0m8 4h0m21-3h0m23 6h0m4-4h0m3-1h0m25 3h0m12-8h0m-34 16h0m-20-3h0m-11 0h0m248 86h0m281 5h0m16-1h0m15 2h0m66 11h0m-1-1h0m-4-3h0m-4 5h0m-7-6h0m-14 2h0m-3 0h0m-17 0h0m-5-3h0m-16 3h0m-2-3h0m-11 1h0m-7-2h0m-10 2h0m-12 5h0m-1 1h0m-238 2h0m-21-3h0m-3-3h0m-5 2h0m0 3h0m-74 6h0m70 0h0m14 1h0m3-5h0m0 6h0m8 2h0m13-1h0m221 1h0m2 2h0m2-8h0m8 8h0m17-5h0m4-4h0m32 6h0m7-6h0m2 6h0m1-5h0m2-1h0m16 1h0m5 3h0m12 0h0m2-3h0m2 2h0m3 1h0m6 3h0m5-3h0m5 3h0m2-5h0m1 7h0m5 0h0m21 12h0m-3-2h0m-8 0h0m-1-8h0m-8 9h0m-5 1h0m0-9h0m-1 8h0m-5-4h0m0-2h0m-9 3h0m-3-5h0m-13 4h0m-5 2h0m-1-4h0m-10 0h0m-1 4h0m-12-1h0m-8-4h0m-6 4h0m-10-4h0m-4-1h0m-1 6h0m-5 3h0m-1-10h0m-7 1h0m-1 7h0m-20-3h0m-17 5h0m-1-1h0m-203-2h0m-12 0h0m-2-7h0m-15 8h0m-12 3h0m-11-5h0m-78 4h0m-3-6h0m-3 4h0m-4 3h0m-421-11h0m17 16h0m25-3h0m382 5h0m4 4h0m6 1h0m28-3h0m63 0h0m8 3h0m10-5h0m2 3h0m0-3h0m13 1h0m208-6h0m4 8h0m8 0h0m9-4h0m10 1h0m19 0h0m23-3h0m3-3h0m7 3h0m22-2h0m6 1h0m6 9h0m4-4h0m2-3h0m9 1h0m10 6h0m6-1h0m2-7h0m3 3h0m0-1h0m5 2h0m1-7h0m4 3h0m5 8h0m-2 7h0m-9-6h0m-16 5h0m-2 1h0m-6 5h0m-2-2h0m-1-4h0m-10-4h0m-6 4h0m-22 5h0m-20-2h0m-8 0h0m-1-3h0m-7 0h0m0-4h0m-16 5h0m-6 4h0m-3-4h0m-10 5h0m-2-6h0m-3 3h0m-7 0h0m-1-6h0m-2 1h0m-215 5h0m-4 3h0m-1-3h0m-31 0h0m-3-1h0m-56-5h0m-32 1h0m84 17h0m6 0h0m3 1h0m10 1h0m6 0h0m0-5h0m6 4h0m3-5h0m6 7h0m226-10h0m11 6h0m9 4h0m8-9h0m18 1h0m23 6h0m3-4h0m12 1h0m5 3h0m5 0h0m5-4h0m9 6h0m4-8h0m9 4h0m1-3h0m3-2h0m5 8h0m3-1h0m8-6h0m6 4h0m4-1h0m7 9h0m-1 8h0m-4-8h0m-3 3h0m-6 4h0m-11-5h0m-1-3h0m-6 7h0m-28-4h0m-1-3h0m-2 9h0m-2-5h0m-4 5h0m-4-5h0m-5-3h0m-2 5h0m-6-3h0m-8 0h0m-12 4h0m-35 0h0m-15-7h0m-237 8h0m0-6h0m-23 4h0m-3-2h0m-4 4h0m-1-7h0m-214 3h0m-3 4h0m-6-4h0m-36 15h0m5 0h0m12 0h0m24-1h0m9-3h0m1-4h0m1 9h0m4-6h0m30 3h0m4 0h0m4 3h0m3 1h0m164-1h0m7-5h0m5 2h0m2-6h0m7 6h0m1-3h0m7 5h0m5-6h0m254-2h0m20 3h0m2 7h0m6-7h0m1 7h0m18-3h0m0-4h0m6 6h0m10-6h0m5 5h0m4-5h0m17 7h0m13-2h0m1-2h0m2 0h0m3-3h0m-28 15h0m-18-7h0m-6 7h0m-10-1h0m-13-5h0m-9 0h0m-3 6h0m-1-2h0m0-1h0m-271-2h0m-7 4h0m-1-5h0m-8 10h0m-19-1h0m-3-8h0m-152 5h0m0-5h0m-3 3h0m-24 3h0m-13 3h0m-3-1h0m-2-1h0m-20 1h0m-2-3h0m0-7h0m-5 9h0m-7-2h0m-22 3h0m-2-7h0m-5-1h0m3 17h0m2 4h0m6-3h0m2-5h0m8-3h0m0 6h0m4 3h0m0-7h0m11 7h0m32-4h0m14 2h0m3 1h0m4 2h0m4-1h0m6 0h0m2-4h0m164 5h0m4-2h0m8-7h0m11 10h0m3-5h0m0 3h0m2 2h0m8-4h0m1-3h0m5-2h0m3-2h0m4 11h0m275-9h0m18 0h0m3 1h0m3 2h0m6 3h0m-298 6h0m-1 3h0m-9-4h0m-6 6h0m-9-7h0m-1 8h0m0-5h0m-5 5h0m-3-3h0m-6 2h0m-2-2h0m-6-3h0m-11 4h0m-6 0h0m-170 4h0m-17-7h0m-7-2h0m0 8h0m-3-4h0m-22 0h0m-1 3h0m-7-8h0m-6 6h0m-4-6h0m-10 5h0m5 11h0m20 7h0m10-10h0m8 10h0m3-6h0m3-1h0m199-1h0m10 2h0m3 1h0m1-5h0m13 0h0m7 10h0m1-5h0m4 2h0m20-8h0m306 11h0m-4 6h0m-347-4h0m-10 0h0m-226 4h0m-1-3h0m0 9h0m-3 0h0m-9-4h0m-7-3h0m-4 2h0m8 14h0m7-7h0m4-1h0m6 6h0m10-3h0m7 5h0m6-5h0m15 6h0m495 2h0m2-1h0m23 1h0m8-4h0m5-5h0m3-1h0m3-1h0m-28 13h0m-505-1h0m-4 1h0m-12 4h0m-1-3h0m-4-2h0m-19 3h0m-4 4h0m-26-2h0m-4-2h0m-14 8h0m-7 9h0m1 2h0m11-3h0m2-2h0m26-5h0m2 7h0m9-3h0m2 2h0m-31 8h0m-1 5h0m-5-4h0m-6 1h0m-9-1h0m-3-3h0m-2 5h0m-6-3h0m27 17h0m3-1h0m438 63h0m-9-1h0m-5-1h0m-17 12h0m25-1h0m4 3h0m1-9h0m11 11h0m-2 9h0m-2-4h0m-26 7h0m-5-3h0m-3-4h0m-2 4h0m-3 0h0m-15-3h0m-4 4h0m-9-3h0m-26 14h0m9-2h0m1 0h0m12 5h0m3-6h0m1-3h0m5 2h0m17 0h0m16 6h0m5 5h0m-12 0h0m0 0h0m-2 3h0m-4 1h0m-4 1h0m-1-7h0m-14 2h0m-21-1h0m-1 7h0m-2-6h0m-5-2h0"/>
<path stroke="#f4675c" d="M795 354h0m-43 32h0m8 15h0m17 14h0m71 36h0m-65-7h0m4 19h0m65 4h0m6-10h0m4 6h0m30 3h0m12 0h0m160 7h0m-210 9h0m-55 10h0m74 12h0m57 11h0m-45 23h0m22 0h0m130 9h0"/>
<path stroke="#752181" d="M873 211h0m267 86h0m-163 7h0m-162 24h0m9 17h0m28 11h0m-9 1h0m-9-6h0m-35 10h0m11 7h0m15 3h0m10-10h0m88 0h0m31 3h0m-131 25h0m173 3h0m23-7h0m11 3h0m337-1h0m-547 17h0m-66-3h0m-8-4h0m27 15h0m176-1h0m239 12h0m-148-1h0m-168 14h0m58-1h0m62 7h0m69 7h0m-34 0h0m-23 5h0m-100-7h0m-21 0h0m-72 6h0m71 10h0m38-6h0m113-1h0m24 10h0m10-8h0m4 5h0m29-6h0m51 2h0m-2 18h0m-21 1h0m-7-1h0m-48-5h0m-6 1h0m-13 2h0m-2-1h0m-95-4h0m-22 6h0m-15-5h0m-47 1h0m-76-3h0m-12 9h0m2 13h0m0-11h0m28 6h0m14-5h0m26 10h0m5-1h0m90-6h0m139-3h0m52 7h0m25-3h0m5 6h0m19-2h0m8 14h0m-226-7h0m-21 1h0m-108-1h0m-30 1h0m-5 14h0m15-1h0m127-4h0m229 7h0m-106 11h0m-114-3h0m-75 5h0m-41-7h0m-16-3h0m-2 0h0m-12 8h0m-2-4h0m-5 18h0m21 1h0m10-8h0m0 7h0m21 0h0m6-5h0m9-5h0m7 2h0m75 8h0m6 0h0m14-8h0m269 15h0m-172-1h0m-120 7h0m-148-7h0m50 8h0m9 5h0m160 8h0m-54 1h0m124 22h0m490 130h0m-846-3h0m-60 12h0m8 1h0m78-7h0m15 0h0m35 18h0m-125 0h0m13 8h0m23-1h0m118 3h0m-136 17h0m-16 11h0m24-2h0m48 38h0m-53 2h0m-23-8h0m28 19h0m2-7h0m-1 14h0m673 106h0m-192 291h0"/>
<path stroke="#f4675c" d="M978 358h0m-172 17h0m301 11h0m-252 16h0m187 29h0m-249 12h0m-13 13h0m62 15h0m-33 5h0m1 4h0m30 8h0m28 1h0m79 2h0m-118 3h0m60 10h0m-23 33h0m50 32h0m-555 43h0m416 107h0m-4 21h0m55 19h0m-127 58h0m9 3h0"/>
<path stroke="#000004" d="M890 203h0m49-4h0m17 4h0m6-1h0m21-1h0m2 1h0m7 0h0m59 4h0m-9 3h0m-36 0h0m-7 0h0m-4 2h0m-11 2h0m-11 1h0m-3-5h0m-12 1h0m-7-6h0m-5 8h0m-50-7h0m-2 1h0m-11 5h0m-9 3h0m-4-1h0m-9 0h0m-37 6h0m0 4h0m16-5h0m28 9h0m1-8h0m2 7h0m8-9h0m6 4h0m9-4h0m4 9h0m13-4h0m6-2h0m18-1h0m3 5h0m7 2h0m9 0h0m24 0h0m6-10h0m19 1h0m7 1h0m9 0h0m42 2h0m12 7h0m9-5h0m2 8h0m-4 4h0m-2 4h0m-15-2h0m-4-6h0m-19 3h0m-7-2h0m-5-3h0m-4 3h0m-17 6h0m-32-8h0m-12 9h0m-21-10h0m-26 10h0m-7-7h0m-3-1h0m-22 2h0m-14 0h0m-11 4h0m-15-6h0m-8 9h0m-11-8h0m-20 17h0m7-7h0m36 10h0m29-9h0m16 0h0m10 1h0m55 1h0m19 4h0m6 2h0m7-7h0m7 7h0m1-2h0m6-3h0m8 5h0m12 0h0m5-7h0m0 4h0m4-6h0m8 7h0m17-1h0m35-5h0m13 1h0m2-3h0m3 11h0m32-5h0m6 7h0m-2 7h0m-3-4h0m-8-1h0m-7 1h0m-9 5h0m-7-9h0m-1 7h0m-9 4h0m-11-3h0m-2-3h0m-22 3h0m-6-5h0m-8 0h0m-5 8h0m-26 0h0m-9-8h0m-6 4h0m-9-3h0m-9 1h0m-8-1h0m-3 0h0m-11 7h0m-12-7h0m-34 7h0m-13-2h0m-5 1h0m-80-3h0m-17 8h0m8-1h0m9 4h0m5 3h0m14-2h0m8-1h0m2 5h0m32-1h0m7-3h0m6-2h0m21 1h0m17 1h0m0-4h0m24 0h0m23-3h0m2 8h0m11-3h0m37-2h0m7-1h0m6 3h0m12-1h0m6 6h0m12 1h0m2-2h0m6-7h0m12 5h0m8 1h0m13-2h0m9-2h0m4-1h0m6 8h0m3-6h0m8-1h0m5 1h0m26 4h0m5 11h0m-6-2h0m-26-3h0m-9 4h0m-13 3h0m-15-6h0m-11-4h0m-3 10h0m-9-8h0m-13 0h0m-9-1h0m-9 8h0m-4 2h0m-13-5h0m-12 2h0m-3 1h0m-3-2h0m-7-5h0m-14 4h0m-35-1h0m-2 2h0m-22 0h0m-12 2h0m-4-5h0m-16 4h0m-34-8h0m-7 3h0m-17-3h0m-5 0h0m-4 10h0m-7-5h0m-24-1h0m-1 16h0m4-8h0m0 10h0m19-1h0m4-6h0m5-1h0m12-1h0m40 9h0m27-1h0m18-3h0m18-4h0m1 5h0m9-3h0m5 6h0m19-9h0m19 0h0m5 1h0m11 5h0m8-1h0m34-3h0m8 1h0m24 2h0m11-1h0m29 0h0m11 3h0m3-1h0m6-1h0m4 0h0m12-3h0m36 17h0m-5-8h0m-21 5h0m-6 3h0m-16-1h0m-3-7h0m-19 7h0m-5-3h0m-10-4h0m-3 6h0m-17 4h0m-1-2h0m-4 3h0m-35-11h0m-20 9h0m-6 0h0m-17 0h0m0-8h0m-4 4h0m-16 4h0m-3-1h0m-4-4h0m-8 6h0m-10-8h0m-41-1h0m-7 1h0m0 5h0m-26-2h0m-5 3h0m-1-8h0m-9 0h0m-8 1h0m-36 10h0m-1-1h0m-9-8h0m-26 16h0m32 2h0m8-6h0m31 9h0m33 0h0m10-2h0m4-3h0m13-1h0m20 5h0m2-5h0m28-5h0m15 7h0m12-6h0m62 2h0m16 1h0m4 7h0m2-3h0m25 0h0m5 0h0m14-7h0m7 9h0m1-6h0m4-4h0m3 6h0m11 0h0m16-1h0m14 0h0m20-1h0m70 16h0m-27 2h0m-17-7h0m-6-1h0m-4 6h0m-2 0h0m-28 0h0m-53 1h0m-1-4h0m-23 6h0m-31-3h0m-13 0h0m-28 3h0m-6-3h0m-18-6h0m-38 6h0m-17-6h0m-4 9h0m-69-9h0m-20 3h0m-10 3h0m-15-3h0m-33-5h0m-15 0h0m-3 0h0m0 9h0m24 10h0m40 3h0m11-10h0m20 9h0m23 2h0m17-1h0m18-8h0m2 2h0m1-4h0m26 3h0m10 3h0m3 4h0m74-8h0m20 4h0m9 1h0m3-6h0m6 8h0m6 1h0m5 1h0m5-7h0m9-3h0m18 1h0m9 3h0m10 2h0m14-1h0m28-6h0m23 5h0m7 5h0m27-3h0m0-2h0m6-5h0m9 8h0m19-2h0m-19 7h0m-10 10h0m-6-6h0m-16 5h0m-9-5h0m-5 3h0m-3 0h0m-27 2h0m-16-7h0m-3 0h0m-8 6h0m-2-4h0m-8-5h0m-35 1h0m-5 3h0m-6 4h0m-18 0h0m-3-2h0m-4 0h0m-13 0h0m-10-4h0m-2 9h0m-9-4h0m-31 4h0m-5-3h0m-37 2h0m-48-3h0m-3 2h0m-16 1h0m-24-1h0m-2-6h0m-1 6h0m-18-6h0m-14 6h0m-11 2h0m-64-4h0m-3-7h0m-18 21h0m12-1h0m78-7h0m13 7h0m64 1h0m12-7h0m7 5h0m1-3h0m19 3h0m4-5h0m31 4h0m25 1h0m8 1h0m18-7h0m2 0h0m3-1h0m1 5h0m2 0h0m45 5h0m0-4h0m3-3h0m9 4h0m12-2h0m12 2h0m37-3h0m2-3h0m3 7h0m6-2h0m16 3h0m2-9h0m17 9h0m23-8h0m27 3h0m6 2h0m1 5h0m22 0h0m32-5h0m19-4h0m21 20h0m-10-8h0m-35 9h0m-1-3h0m-5-3h0m-53-4h0m0 9h0m-19-9h0m-16 3h0m-15-3h0m-2 6h0m-5 0h0m-32-5h0m-3-1h0m-16 4h0m-7-1h0m-7-4h0m-18 7h0m-19-5h0m-14 7h0m-2-2h0m-12-1h0m-12 1h0m-3-6h0m-2 3h0m-6 7h0m-4-6h0m-2 3h0m-1-8h0m-8 10h0m-1-9h0m-4 6h0m-30 4h0m-4 0h0m-5-7h0m-65 4h0m-10 3h0m-51 0h0m-44-5h0m-20 4h0m-56-2h0m50 11h0m89-7h0m8 7h0m16-2h0m74 0h0m15 1h0m15-4h0m5 4h0m3-3h0m9 8h0m20-4h0m0 4h0m4-5h0m0-6h0m4 2h0m19 5h0m12 2h0m38-9h0m7 2h0m45 6h0m14-6h0m3-1h0m5 2h0m16 1h0m17 5h0m1-5h0m20-1h0m16 0h0m28-1h0m13 7h0m23-9h0m0 10h0m26 12h0m-64-9h0m-35 0h0m-13 0h0m-5 5h0m-2 4h0m-47-2h0m-2-7h0m0 8h0m-27 2h0m-24-6h0m-38 3h0m-11-2h0m-11-1h0m-8 1h0m-18 3h0m-38 2h0m-19-3h0m-9-6h0m-2 6h0m-6-4h0m-2 5h0m-21-4h0m-151 6h0m-65-1h0m-13-1h0m-12-9h0m28 23h0m41 0h0m5-9h0m16-2h0m111 3h0m3 3h0m20-1h0m9 6h0m4-5h0m47 2h0m11 0h0m43-4h0m10 4h0m16-2h0m11 5h0m1-7h0m50 6h0m27-1h0m2-6h0m28 8h0m54-9h0m29 6h0m12-7h0m47 3h0m4-4h0m23 3h0m1 6h0m1-5h0m-2 13h0m-21-3h0m-59 2h0m-14 5h0m0-7h0m-49 6h0m-21 2h0m-4-8h0m-45 1h0m-4 6h0m-29-1h0m-25-6h0m-3 2h0m-4 5h0m-19-9h0m-5 3h0m-20-2h0m-10 6h0m-48 1h0m-7-4h0m-8 2h0m-30 0h0m-18 1h0m-129 3h0m-22 0h0m-11-5h0m-17 15h0m2 3h0m205-8h0m50 1h0m9-4h0m11 10h0m27 0h0m70-3h0m52-1h0m2-3h0m18 2h0m3 5h0m17-4h0m38 4h0m27-2h0m12 0h0m22-4h0m42 5h0m7-8h0m1 5h0m21 6h0m-20 10h0m-28-10h0m-9 10h0m-29-9h0m-1 7h0m-30-1h0m-3 4h0m-27-9h0m-24 1h0m-8 1h0m-7-3h0m-4 2h0m-25 2h0m-18 6h0m-13-2h0m-1 1h0m-165-4h0m-114 2h0m-39-1h0m-14 2h0m-44 2h0m-20-8h0m30 10h0m10 1h0m5 3h0m19-2h0m0 4h0m9-2h0m21 2h0m28 2h0m20 0h0m129 0h0m40-7h0m3 4h0m20-3h0m21-3h0m44 5h0m48 3h0m65-4h0m26-3h0m25 6h0m23 4h0m21-6h0m8 6h0m24-6h0m12 8h0m-1 5h0m-21-6h0m-30 6h0m-16 4h0m-24-4h0m-6 1h0m-15 0h0m-36-6h0m-4 0h0m-14 9h0m-15-4h0m-7-2h0m-6-3h0m-1 1h0m-22 5h0m0-2h0m-14 6h0m-9-10h0m-8 3h0m-17-3h0m-17 10h0m-21-6h0m-7-2h0m-31 4h0m-19 1h0m-88 2h0m-16-4h0m-3-1h0m-110 6h0m-50 0h0m0-8h0m-8 15h0m5 3h0m4-7h0m21 9h0m30 0h0m4 0h0m19-4h0m10-1h0m20 3h0m35-9h0m25 4h0m8 1h0m8-1h0m2 1h0m25 0h0m98 6h0m20-7h0m9 5h0m24-3h0m22-1h0m30-5h0m19 6h0m32 0h0m3-1h0m42 2h0m29 4h0m4-2h0m8-6h0m7-1h0m24 2h0m13 3h0m-35 16h0m0-9h0m-4 9h0m-5-8h0m-1 3h0m-35-6h0m-44 9h0m-6 2h0m-67-2h0m-23-9h0m-38 2h0m-48 9h0m-76-5h0m-3 2h0m-21-1h0m-11-4h0m-16 0h0m-57 6h0m-11-6h0m-4-2h0m-52 7h0m-20-6h0m-4 0h0m-16 8h0m-3-10h0m39 18h0m44 1h0m6-6h0m2 6h0m0 4h0m13-5h0m36 3h0m0-9h0m4 10h0m17-10h0m5 7h0m7-4h0m9 7h0m1-8h0m6 6h0m9-3h0m8 3h0m24 0h0m20-3h0m2 3h0m11 3h0m107-9h0m33 5h0m12-2h0m41-3h0m3-1h0m13-1h0m0 8h0m21-6h0m13 9h0m66-8h0m-82 10h0m-12 0h0m-45-1h0m-125 11h0m-3-2h0m-3 0h0m-10-5h0m-5-3h0m-16 5h0m-13-3h0m0 6h0m-9-5h0m-49 1h0m-6 0h0m-14-2h0m-19 1h0m-10 5h0m-4 0h0m-31-5h0m-20 3h0m-30 4h0m-19-11h0m-10 5h0m-5-1h0m-19 11h0m18 0h0m0 4h0m9 1h0m29 1h0m0-8h0m10 4h0m27-5h0m36 9h0m31 0h0m4 2h0m61-10h0m61 6h0m31-4h0m6 4h0m16 3h0m16-9h0m11 10h0m2-10h0m16 10h0m24 0h0m36-2h0m20 9h0m-43 3h0m-6 0h0m-14-3h0m-7 5h0m-42-10h0m-77 3h0m-7 5h0m-4-5h0m-12 5h0m-4-9h0m-75 8h0m-20-4h0m-9 4h0m-10 2h0m-12-2h0m-16 3h0m-36-3h0m-55-2h0m20 16h0m5 0h0m2-2h0m18 1h0m5-8h0m4 9h0m0 0h0m5-5h0m1-3h0m21 7h0m0-9h0m8 8h0m4-6h0m7-1h0m7 4h0m7 4h0m3 2h0m0-3h0m19-3h0m2 0h0m4-1h0m2-3h0m23 6h0m16-4h0m0 8h0m3-9h0m5 2h0m9 5h0m47-1h0m4-4h0m2 5h0m13-4h0m1-5h0m17 3h0m66 0h0m7-3h0m0 11h0m4-1h0m11-2h0m9-8h0m3 2h0m4 6h0m10-7h0m37 0h0m9 3h0m9 14h0m-58-5h0m-15 4h0m-4 1h0m-4-6h0m-6 9h0m-35-8h0m-90 1h0m-3 7h0m-8 2h0m-6-2h0m-6-3h0m-28 4h0m-15-1h0m-2-7h0m-14-2h0m-49 5h0m-11-2h0m-7-2h0m-4 3h0m-2 4h0m-36-5h0m-8 7h0m-9-7h0m-3 1h0m152 12h0m10 3h0m9-7h0m3 6h0m42 0h0m1-4h0m0 6h0m5-7h0m10 4h0m59 0h0m36 1h0m26-2h0m0-1h0m10-2h0m11 1h0m2 2h0m41 5h0m8-7h0m-26 13h0m-16-2h0m-17 7h0m-33-6h0m-56 2h0m-8 2h0m-17-6h0m-3 6h0m-12-4h0m-5 0h0m-3 9h0m-4-7h0m-36-4h0m-673 22h0m698-10h0m8 5h0m5-1h0m127 9h0m-856 3h0m1274 41h0m2 2h0m29 0h0m12-4h0m11 0h0m5-4h0m5 7h0m6-2h0m27 12h0m-26-5h0m-20 5h0m-3-3h0m0-5h0m-3 4h0m-4 2h0m-4-3h0m-3 0h0m-7-2h0m-3 5h0m-4-6h0m-4 9h0m-4-8h0m-1 8h0m-5-3h0m0-3h0m-4 6h0m-2-4h0m-3 3h0m-5-3h0m-10 1h0m-1 2h0m-6 1h0m-10-2h0m-5 0h0m-1 1h0m-16 14h0m5-2h0m3-8h0m15 8h0m4-6h0m6 0h0m2 8h0m5-3h0m3 3h0m1-8h0m5 7h0m4-7h0m0 4h0m1-4h0m5 9h0m14-8h0m2 1h0m10 2h0m10-2h0m12 4h0m8 1h0m27-4h0m1 2h0m5 0h0m4 2h0m1-3h0m2 1h0m7-6h0m0 22h0m-3-7h0m-17 1h0m-1-1h0m-1 4h0m-8 1h0m-3 0h0m-12-4h0m-19 3h0m-9 2h0m-1-5h0m-3 3h0m-3-5h0m-11 1h0m-12 2h0m-8 0h0m-4-1h0m-13-1h0m-13-4h0m-6 5h0m-5 4h0m0-7h0m-5 5h0m-4-2h0m-6 0h0m-8 0h0m-827 18h0m42 0h0m38 0h0m734-3h0m12-2h0m1-3h0m4 1h0m8 4h0m3 1h0m3-9h0m0 6h0m1-5h0m3 1h0m7 2h0m15 6h0m5-7h0m5 1h0m1-4h0m1 7h0m2 3h0m10-10h0m7 3h0m5 7h0m7-5h0m3 1h0m5 3h0m8-6h0m2-3h0m24 9h0m2-9h0m5 0h0m6 6h0m2 4h0m5 0h0m2 1h0m2-6h0m2-3h0m5-2h0m9 9h0m3-9h0m-17 16h0m-3 5h0m-2-3h0m-6-2h0m-2-3h0m-3 5h0m-17-4h0m-3-1h0m-1 0h0m-13 2h0m0 4h0m0-7h0m-10 4h0m-7-3h0m-1 2h0m-8 4h0m-3-4h0m-7 5h0m-2-8h0m-3 8h0m-4-3h0m-22-1h0m-12-1h0m-8 0h0m-13 5h0m-4 3h0m0-7h0m-4-2h0m-1-2h0m-8 5h0m-1 6h0m-9-5h0m-736-4h0m-19-1h0m-5 9h0m-8-6h0m-2-1h0m-10 4h0m-1-2h0m-18 5h0m-37 5h0m9 5h0m1-2h0m9 0h0m54-5h0m10 10h0m10-5h0m1-5h0m3 4h0m3-4h0m6 8h0m39-3h0m687-2h0m11 3h0m3 2h0m2 2h0m0-8h0m6-1h0m5 5h0m10 1h0m9 3h0m13-1h0m7-6h0m12 5h0m8 1h0m3 0h0m2-3h0m3-2h0m4 0h0m0 1h0m5-6h0m3 1h0m7 6h0m3 3h0m17-4h0m4-6h0m6 5h0m2-1h0m0 3h0m5 1h0m1-4h0m10-1h0m3 5h0m4 0h0m7 0h0m4-8h0m1 5h0m2 2h0m11-6h0m-11 11h0m-26 4h0m-16-1h0m-5 0h0m-9 1h0m-3-4h0m-8 11h0m0-10h0m-11 6h0m-2-3h0m-8 1h0m-9 1h0m-7-5h0m-1 7h0m-8-3h0m-7 0h0m-3-2h0m-15 7h0m-16 0h0m-18-1h0m-1 2h0m-3-2h0m-3-8h0m-657 5h0m-3 5h0m-9-9h0m-16-1h0m-2 9h0m-29 1h0m-17-5h0m-25-6h0m-21 2h0m-23 0h0m-7 9h0m-2 0h0m-9 3h0m24 6h0m25 3h0m0-5h0m39 1h0m10-7h0m13 8h0m3 2h0m13 1h0m3-1h0m5 1h0m0-9h0m3 5h0m9 0h0m2-3h0m13 7h0m14-5h0m644 0h0m0 2h0m2-2h0m25 4h0m3-7h0m9-3h0m2 9h0m4-9h0m7 8h0m6-6h0m1 1h0m3-2h0m10 8h0m4-7h0m4-2h0m3 8h0m3-7h0m3 9h0m1-10h0m6 3h0m0-1h0m4 3h0m2 2h0m3-6h0m4 9h0m6-6h0m2-1h0m4 5h0m2-3h0m7-2h0m10 0h0m16 2h0m3 0h0m4 0h0m0 5h0m11-3h0m6 9h0m-4 2h0m-3 1h0m-3 4h0m-6-5h0m0 3h0m-13-7h0m-3 5h0m-1 2h0m0-6h0m-4-3h0m-4 8h0m-1-7h0m-13 1h0m-5-2h0m-10 11h0m-1-11h0m-10 10h0m-1-10h0m-4 7h0m-1-6h0m-2 10h0m-11-4h0m-5-5h0m-2 8h0m-6-6h0m0 4h0m-3-6h0m-6-1h0m-39 8h0m-2-8h0m-12 3h0m-653-4h0m-5 6h0m-9 5h0m-12-8h0m-24 8h0m-1-10h0m-3 0h0m-9 6h0m-4 3h0m-3-9h0m-4 8h0m-67-1h0m-10-4h0m-6-3h0m-1 8h0m-11-2h0m-26 9h0m20-3h0m30 7h0m6-4h0m7-3h0m6 8h0m5-6h0m13 2h0m16 5h0m5-6h0m29 5h0m5-5h0m11 3h0m9-1h0m1-4h0m3 3h0m4 3h0m1 2h0m2-3h0m0-5h0m7 5h0m6-7h0m6 10h0m5 1h0m4-7h0m6 7h0m9-1h0m637-5h0m15 6h0m12-2h0m9 0h0m0-5h0m14-1h0m5 6h0m1-1h0m1-8h0m4 2h0m1 8h0m4-6h0m6 6h0m6-6h0m4-4h0m2 10h0m4-10h0m1 10h0m2-5h0m2 1h0m10 5h0m0-3h0m11-1h0m5 4h0m2-11h0m18 3h0m10 6h0m13-9h0m2 8h0m-4 4h0m-2 5h0m-9 3h0m-2-7h0m0 8h0m-2-1h0m-1-6h0m-2 2h0m-8 6h0m-3-10h0m-11 7h0m-7-4h0m-4 7h0m-9-3h0m-4-5h0m-4 5h0m-2 4h0m-9-7h0m-5 0h0m-1 1h0m-3-3h0m-2 9h0m-15-10h0m-7 0h0m-2-1h0m0 1h0m-4 2h0m-1 8h0m-1-11h0m-4 6h0m-7 1h0m0-1h0m-13 2h0m-656-3h0m-10 1h0m-4-6h0m-1 4h0m-2 1h0m-7 3h0m-5 3h0m-5-10h0m-11 10h0m-15-2h0m-3-4h0m-3-3h0m-6 0h0m-30 9h0m-15-5h0m-2 3h0m-50-7h0m-9 5h0m-3 1h0m-4-3h0m-24 5h0m-5 4h0m44-1h0m5 5h0m5 3h0m5-8h0m29 4h0m5 4h0m5-2h0m6-2h0m9-2h0m20-1h0m15 4h0m22 1h0m15 0h0m21-4h0m3 1h0m667-3h0m10 5h0m23 2h0m6-2h0m16 4h0m5 1h0m4-9h0m1-2h0m0 9h0m3 1h0m9-6h0m2 7h0m8-10h0m3 6h0m8-5h0m9 7h0m3-1h0m7-6h0m12-1h0m-40 12h0m-10 1h0m-5-2h0m-9 0h0m-38 2h0m-52 0h0m-656 5h0m-16-6h0m-8 2h0m-12 8h0m-28-9h0m-11 4h0m-46-2h0m-22 6h0m-38 2h0m8 6h0m49-2h0m2-2h0m33 4h0m4 3h0m28 1h0m-8 4h0m-24 2h0m-20-3h0m-22 7h0m-3-1h0m-20-2h0m282 75h0m0 6h0m9 8h0m9-4h0m275 0h0m4 4h0m2-6h0m5-1h0m4 3h0m7 5h0m9-1h0m3 0h0m45 7h0m-42 5h0m-3-3h0m-6 1h0m-5-6h0m-6 1h0m-3-3h0m-3 10h0m-4-5h0m-2 6h0m-6-6h0m-1 5h0m-1-10h0m-1 8h0m-7-6h0m-12 8h0m-250-4h0m-1 1h0m-5 4h0m-7-5h0m-7 12h0m5-2h0m3 1h0m6-3h0m13 0h0m19 6h0m220-1h0m9 3h0m7 1h0m3-1h0m1-4h0m5 4h0m2-5h0m4 4h0m3-2h0m14-5h0m6-1h0m0 3h0m3 2h0m1 4h0m3-7h0m2 1h0m25-4h0m7 7h0m8 3h0m17-4h0m5-6h0m9 3h0m14 11h0m-4 9h0m-14-11h0m-1 1h0m-10 2h0m0 3h0m-5-6h0m-5 0h0m-3 11h0m0-11h0m-1 1h0m-16 4h0m-3 2h0m-2 2h0m-7-2h0m-1-4h0m0 6h0m-2-4h0m-5 2h0m-1-3h0m-3 3h0m-6-2h0m-9 1h0m-16-4h0m-1 9h0m-6-10h0m-7 3h0m-7 0h0m-11-3h0m-6 0h0m-4 6h0m-209-3h0m-1-3h0m-6 3h0m-21-3h0m-7 0h0m0 9h0m-5-3h0m-6-1h0m-1 5h0m-2-5h0m-79 1h0m-1 4h0m-401-1h0m-5-7h0m-2-3h0m400 19h0m2-2h0m4 3h0m0-5h0m4 2h0m3 1h0m15 0h0m28-2h0m42 1h0m4 1h0m2-5h0m5 4h0m2 3h0m2-6h0m3 2h0m14-4h0m1 8h0m0-3h0m2 0h0m6 4h0m3 2h0m210-8h0m1-3h0m1 7h0m4-4h0m11 3h0m2-6h0m6 1h0m2 0h0m3 8h0m13 0h0m15-6h0m2 3h0m1 2h0m3-8h0m15 7h0m3-6h0m0 7h0m9-8h0m4 1h0m4 5h0m5-6h0m21 0h0m7 2h0m8 6h0m11-7h0m1 3h0m1 3h0m4 1h0m4 8h0m-6 5h0m-3-1h0m-3-5h0m-8 2h0m-3 6h0m-8 0h0m-9-10h0m-3 8h0m-2 2h0m-1 0h0m-3-9h0m-4 9h0m-5-10h0m-18 1h0m-3 6h0m-2-2h0m-5 0h0m-11-5h0m0 10h0m-2-2h0m-2-4h0m-5 6h0m-7-4h0m0 1h0m-18 0h0m-2-4h0m-12 2h0m-13-5h0m-3 7h0m-250-4h0m-7-3h0m9 15h0m8 2h0m6-3h0m4 7h0m6-3h0m1 3h0m228-8h0m1 5h0m12-1h0m6 2h0m18-8h0m0 4h0m2 1h0m4 0h0m9 5h0m1 1h0m1-11h0m1 3h0m6-3h0m7 0h0m0 1h0m10 6h0m0-2h0m6-5h0m0 11h0m48-9h0m15-2h0m2 2h0m8 9h0m0 0h0m1-5h0m7 5h0m-15 10h0m-3-4h0m-6-5h0m-4 8h0m-3 3h0m-1-5h0m-14-4h0m-4 2h0m-25 0h0m-5 3h0m-11-6h0m-5-1h0m-11 0h0m-4 6h0m-4-3h0m-13-3h0m-1 11h0m-8-7h0m-8 7h0m-6-7h0m-4-1h0m-235-1h0m-2 6h0m0 1h0m-6-3h0m-1-1h0m-4 0h0m-5-2h0m-2 7h0m-2-2h0m-4 2h0m-1-6h0m-6 5h0m-1-5h0m-197 6h0m-47 2h0m6 1h0m32 10h0m8 0h0m3-10h0m0 4h0m3 4h0m4 0h0m1-7h0m1 5h0m13 4h0m170-6h0m5 0h0m2 3h0m5-4h0m2 7h0m3-4h0m19 1h0m2-6h0m263 2h0m2-4h0m2 2h0m5 3h0m16-2h0m4 8h0m11-9h0m15 4h0m5 3h0m10-9h0m2 5h0m11 0h0m2 3h0m15-8h0m11 6h0m-31 11h0m-5-5h0m-13 7h0m-4-6h0m-6 5h0m-2 5h0m-15-9h0m-3 9h0m0-6h0m-4 5h0m-6 0h0m-3 1h0m-12-11h0m-255 10h0m-11-4h0m-7 5h0m-1-11h0m-7 3h0m-3-3h0m-2 2h0m-1 2h0m-3 2h0m-3-1h0m-1 3h0m-6-2h0m-1-6h0m0 8h0m-2-5h0m-6-3h0m-149 2h0m-5 7h0m-27-7h0m-33 2h0m-2-3h0m-26 10h0m-4-10h0m-20 11h0m20 1h0m21 0h0m7 1h0m2 7h0m27-4h0m15-2h0m176 7h0m8-9h0m11 5h0m3 5h0m12-3h0m2-5h0m2 1h0m4-4h0m7 6h0m4-1h0m4 3h0m4-4h0m1-1h0m257-2h0m3 0h0m10 4h0m23-5h0m-303 19h0m-11-1h0m-1-6h0m-8 11h0m-7-1h0m-6-8h0m-7 1h0m-13 5h0m-198-3h0m-16 6h0m-5-3h0m-1-8h0m-17 11h0m-3 9h0m8 3h0m12 0h0m61-7h0m155 3h0m7-7h0m5 10h0m0-8h0m1 6h0m4-3h0m1 5h0m9-5h0m3 4h0m1-5h0m0-2h0m13 3h0m311-1h0m14 1h0m2-2h0m-11 20h0m-345-3h0m-7-2h0m0-2h0m-164 2h0m-12 0h0m-56-1h0m-8 1h0m-1 5h0m-4 0h0m-8-3h0m0-2h0m-9 13h0m0 2h0m6 1h0m2-4h0m13-5h0m6 9h0m6-3h0m2-7h0m42 8h0m520 1h0m15-9h0m-544 14h0m-7 8h0m-11-5h0m-5 5h0m-2-5h0m-5-2h0m-12-1h0m-3-1h0m-8 8h0m0-8h0m-16 2h0m-15 14h0m2 2h0m10 4h0m35-2h0m14-7h0m-26 10h0m-22 6h0m-12 3h0m-5 2h0m-3-1h0m-3-2h0m21 9h0m2-2h0m4 5h0m6-1h0m442 63h0m-13-1h0m-8-5h0m-28 19h0m4-3h0m15-8h0m3 1h0m23 8h0m-7 4h0m-9 5h0m-6-2h0m-8-2h0m-4 4h0m-8 5h0m-7-11h0m0 10h0m0 0h0m-4-2h0m-15-1h0m-19 14h0m1 1h0m13 0h0m1-9h0m2 7h0m5 3h0m0-5h0m1 0h0m8-1h0m24 1h0m15-4h0m7 7h0m0 1h0m14-10h0m-19 12h0m-20 0h0m-3 3h0m-5 7h0m-8-4h0m-3-4h0m-13 3h0m-13 0h0m-12-1h0"/>
<path stroke="#752181" d="M1092 310h0m-254 20h0m-11 23h0m-38 5h0m25 10h0m15-4h0m10-2h0m49 13h0m-30 6h0m-110 1h0m16 7h0m149-4h0m117 17h0m-154 5h0m-41-4h0m-25-1h0m-52-4h0m97 19h0m107 0h0m351-3h0m-475 8h0m-34 17h0m17 2h0m211-8h0m20 22h0m-247 6h0m103 3h0m22-6h0m98 0h0m9-1h0m2 0h0m39 10h0m2-4h0m3 4h0m11-9h0m43 9h0m-4 5h0m-31 1h0m-3 2h0m-22 0h0m-136 1h0m-36 1h0m-15-4h0m-3-4h0m-6 10h0m-12-3h0m-11-2h0m-22-2h0m-14-1h0m-3 8h0m-10-8h0m18 18h0m25 1h0m17-10h0m24 10h0m218 1h0m1-2h0m25 1h0m8 0h0m-20 11h0m-16-8h0m-193 3h0m-3 6h0m-10-10h0m-32 7h0m-5-4h0m-33-1h0m-13 0h0m-24 1h0m-1 1h0m16 13h0m16 5h0m2-10h0m162 8h0m71 2h0m14-9h0m98 0h0m58 10h0m-265 8h0m-155 6h0m31 4h0m93-1h0m45 4h0m88 4h0m-93 6h0m-42 5h0m-18-11h0m-25 7h0m-2 3h0m-1-2h0m-27-5h0m-7 3h0m-5 5h0m-5 4h0m235 4h0m-116 6h0m-19-1h0m-43 6h0m95 7h0m23 3h0m68-2h0m-292 135h0m-39 1h0m-56 0h0m21 13h0m78-1h0m-119 17h0m11 7h0m111 3h0m5 1h0m-20 3h0m-64 7h0m24 24h0m74 8h0m-46 29h0m-33 8h0m-21-2h0m-11 2h0m-2 0h0m707 170h0m-23 0h0m-579 99h0m327 129h0"/>
<path stroke="#932b80" d="M1035 209h0m-80-3h0m-37 4h0m-21 0h0m-37 4h0m117 13h0m60-9h0m6-1h0m-24 16h0m-69-5h0m-15 6h0m-21-3h0m-61 11h0m56 0h0m1 1h0m165 2h0m13-2h0m56 9h0m-123 2h0m-9 3h0m-19-4h0m-13 5h0m-55 0h0m-15 4h0m-89 4h0m143-2h0m63 10h0m16-3h0m85 3h0m6-5h0m6-3h0m0 16h0m-80-5h0m-6 1h0m-40 8h0m-35-9h0m-18 10h0m-80 8h0m28-3h0m98 3h0m77 0h0m54 5h0m-227 7h0m-30-5h0m-18 3h0m-2 17h0m21-2h0m22-7h0m47 6h0m9 1h0m10-5h0m52 8h0m5-9h0m42 7h0m33-7h0m169 19h0m-90 1h0m-37-1h0m-31-5h0m-3-2h0m-26 1h0m-38 1h0m-76 2h0m-69-1h0m-28-3h0m-26-1h0m66 14h0m42 6h0m68-9h0m97 4h0m14 0h0m5 6h0m38-9h0m10-1h0m33 3h0m111 8h0m29 8h0m-55 0h0m-102 0h0m-2 3h0m-2-9h0m-40 0h0m-33 4h0m-68 5h0m-5-3h0m-17 3h0m-1-3h0m-29 1h0m-26-2h0m-101 4h0m-30-9h0m184 19h0m30 1h0m37-1h0m7 2h0m59-8h0m167 3h0m42 6h0m-19 2h0m-10 0h0m-24 2h0m-10 0h0m-20-3h0m-40 5h0m-52 3h0m-4-5h0m-81 3h0m-61-6h0m-64 5h0m-8 17h0m4-10h0m52 10h0m64-1h0m35-7h0m33-2h0m32 8h0m87 1h0m97-9h0m-2 16h0m-15 2h0m-9 5h0m-126-7h0m-72 7h0m-77-5h0m-35-4h0m-9 8h0m-7-7h0m-81 4h0m-175 5h0m275 6h0m12 1h0m153-1h0m139 1h0m43-3h0m3-1h0m-49 9h0m-37 4h0m-59 1h0m-169-2h0m-68 4h0m-19 2h0m-205 1h0m-22 3h0m216 7h0m61-3h0m122-1h0m145 1h0m3 2h0m84-6h0m-20 20h0m-31-7h0m-11 7h0m-2-9h0m-17 1h0m-17-1h0m-3 9h0m-79-2h0m-3 4h0m-32-5h0m-5-3h0m-12-3h0m-331 20h0m2-7h0m372-1h0m158 3h0m29 3h0m-123 10h0m-43 5h0m-11-1h0m-10 0h0m-121 0h0m-296-5h0m34 19h0m51 0h0m389-5h0m83 3h0m10 3h0m17-9h0m-43 21h0m-68-7h0m-7-4h0m-9 6h0m-2-5h0m-360 3h0m26 14h0m265 27h0m44 8h0m-334 12h0m85-3h0m209 6h0m32-1h0m37-3h0m-28 16h0m-35 1h0m64 11h0m-48 24h0m-9 9h0m-3 1h0m449 63h0m27 13h0m40 15h0m-72 8h0m-19-3h0m-67 12h0m33-5h0m53-1h0m26 13h0m-820 2h0m-149 7h0m52 3h0m802-1h0m-714 18h0m-62 2h0m-69 9h0m87-5h0m45 10h0m23-7h0m754 8h0m-871 5h0m98 18h0m-17 2h0m-86 22h0m45 4h0m-24 0h0m582 117h0m-20 1h0m-45 11h0m-349-2h0m-419-3h0m519 15h0m377 6h0m-139-2h0m11 17h0m149-5h0m-584 31h0m516 2h0m-588 16h0m9 0h0m246 7h0m36 6h0m-35 7h0m-216-8h0m-25 3h0m-17 12h0m262 4h0m-268 21h0m-8 20h0m-23 12h0m22 10h0m439 65h0m-14 18h0m-10 14h0"/>
<path stroke="#f9785d" d="M756 384h0m130 101h0m-15 15h0m-5-4h0m31 53h0m-50 1h0m-22 1h0m177 22h0m229 13h0m-433 168h0"/>
<path stroke="#c23b75" d="M1110 257h0m-114 18h0m157-6h0m-146 12h0m-185-3h0m212 24h0m-172 1h0m-26-3h0m268 18h0m221 37h0m-54-1h0m-37 5h0m-85-1h0m-238-10h0m-79 8h0m-9 3h0m218 6h0m54 1h0m264 16h0m-606 5h0m639 13h0m-20-2h0m-250 0h0m-111 15h0m87 1h0m-2 14h0m-226-7h0m-96 4h0m385 11h0m257 17h0m-548 8h0m225 6h0m139-6h0m160 14h0m-179 0h0m-51 1h0m-59 0h0m-315-1h0m37 16h0m24 0h0m43-11h0m46 11h0m181-7h0m64-3h0m68 7h0m26-5h0m-89 14h0m-9 2h0m-273-3h0m-96 5h0m40 10h0m38 16h0m-69-2h0m-6-8h0m29 12h0m-8 14h0m7 10h0m45-1h0m163 23h0m-166-4h0m322 10h0m-26 13h0m-826 24h0m344 160h0m31 59h0m-13-5h0m580 121h0m-536 61h0m20 83h0"/>
<path stroke="#fe9d6c" d="M818 388h0m-117 362h0"/>
<path stroke="#d2426f" d="M1053 208h0m105 56h0m-204 15h0m127 28h0m-253 14h0m228-6h0m19 9h0m-36 12h0m-261 34h0m20 0h0m2-9h0m342 1h0m196 10h0m-34 30h0m-165-1h0m-104 6h0m-247 1h0m77 4h0m134 3h0m23 2h0m9-7h0m354 15h0m-426-2h0m-173 13h0m447-2h0m88-1h0m-272 14h0m-219 2h0m-10 15h0m572-5h0m-316 11h0m-233 1h0m-11 20h0m25-10h0m2 1h0m277 3h0m12-4h0m81 1h0m52 2h0m-123 19h0m-7 0h0m-52-8h0m-190 8h0m-53 6h0m419-1h0m-459 25h0m77 3h0m-56 11h0m391 5h0m-21 33h0m-500 131h0m27 26h0m-19-4h0m30 13h0m-62 13h0m80 60h0m63-1h0m332 392h0"/>
<path stroke="#eb5760" d="M1254 340h0m-448 25h0m47-1h0m200 14h0m-259 4h0m17 2h0m39 29h0m29 2h0m312-1h0m-214 15h0m61 8h0m-251 23h0m335 4h0m285-2h0m-500 17h0m-3-7h0m-91-3h0m-30-1h0m22 12h0m311 9h0m60 9h0m-283 3h0m-35-3h0m-60 4h0m391 25h0m-248-10h0m-80 2h0m15 16h0m271-7h0m-301 203h0m-161 10h0m12 58h0"/>
<path stroke="#471078" d="M921 203h0m99 1h0m-102 6h0m-20 0h0m30 17h0m86-7h0m32 2h0m15 3h0m42 1h0m14 5h0m-20-3h0m-33 7h0m-39-5h0m-30 1h0m-180-2h0m221 21h0m40-1h0m50 6h0m-109 2h0m-21 6h0m-66-8h0m-16-3h0m-29 12h0m102 9h0m89-5h0m9 2h0m81 3h0m7 0h0m-89 5h0m-102 5h0m-34 4h0m-2-8h0m-67 3h0m-6 2h0m-43-7h0m109 17h0m10 2h0m103 3h0m63-4h0m61 4h0m16 1h0m-233 5h0m-51 0h0m-59 11h0m18 0h0m187-2h0m25-2h0m33 9h0m62-8h0m36 8h0m52 7h0m-241 2h0m-79 3h0m-22 8h0m52 6h0m154-4h0m117-4h0m2 6h0m13 2h0m-102 8h0m-4-1h0m-188-1h0m97 7h0m65 9h0m46-5h0m22-3h0m25 6h0m34 3h0m26-5h0m31 4h0m-54 4h0m-10 10h0m-11-9h0m-133 7h0m-98 2h0m100 4h0m42-2h0m27 9h0m12-1h0m14-8h0m11 3h0m106 6h0m-53 2h0m-14 8h0m-5-1h0m-86-3h0m-23 2h0m-70-4h0m7 17h0m98-5h0m180 5h0m-139 8h0m-26 15h0m199-1h0m-138 17h0m-32 10h0m93-4h0m37 9h0m-25 3h0m-3 1h0m-70 4h0m64 10h0m2-1h0m16 2h0m36 0h0m-74 13h0m-25-5h0m40 8h0m-62 20h0m4 29h0m10 11h0m-10 8h0m-39-7h0m-26 20h0m-1 12h0m422 62h0m54 10h0m-62 5h0m10 16h0m28 14h0m38-1h0m40 4h0m-49 19h0m30 9h0m-35 4h0m-41-3h0m-870 7h0m783 2h0m60 8h0m20 2h0m69-6h0m-151 8h0m120 15h0m23 13h0m-3 4h0m-59-2h0m-51-2h0m-664 7h0m649 9h0m-707 17h0m166 94h0m-73 35h0m110-2h0m7-3h0m290 3h0m12 14h0m-16-7h0m-57 2h0m-759-4h0m-12 2h0m761 15h0m104 1h0m-21 5h0m-310 0h0m317 12h0m16 2h0m-340 21h0m365 11h0m-343 10h0m-246 0h0m-4 4h0m275 6h0m-277 30h0m-51 30h0m5 29h0"/>
<path stroke="#a3307e" d="M1000 198h0m-12 20h0m-137 17h0m-47 4h0m335 12h0m-20 2h0m-160 0h0m-50 4h0m-38-4h0m-63 4h0m139 17h0m237 7h0m-70 3h0m-30 2h0m-46 1h0m-61-7h0m-51-4h0m-89 13h0m2 6h0m177-5h0m85 5h0m-115 11h0m-122 2h0m-48-3h0m17 16h0m181 0h0m122-3h0m2 2h0m150 15h0m-8-4h0m-162-1h0m-42 1h0m-112 0h0m46 10h0m20 1h0m56 5h0m15-5h0m86 5h0m41-8h0m81 7h0m-284 12h0m-150-3h0m-80-6h0m162 19h0m147 3h0m20-1h0m76 0h0m88 7h0m-75 0h0m-68 4h0m-4-8h0m-129 7h0m-34-1h0m-124 0h0m-94 12h0m267 3h0m36-6h0m135 1h0m82 4h0m61-2h0m13-5h0m16 9h0m32 11h0m-47 1h0m-139-2h0m-71-1h0m-3-2h0m-162 1h0m0 7h0m7 3h0m16 6h0m2-7h0m40 2h0m42-2h0m228 4h0m-22 8h0m-72-1h0m-53 8h0m-94-2h0m-13 0h0m-17-1h0m-30 1h0m-6 1h0m-40-3h0m0-3h0m37 18h0m22-6h0m138 4h0m2-1h0m18 2h0m53-8h0m176 14h0m-1-3h0m-21 5h0m-32 0h0m-329 15h0m14-6h0m115 1h0m55 0h0m10 2h0m150-4h0m44 9h0m-7 8h0m-26-1h0m-21 4h0m-50-7h0m-28 2h0m-100-4h0m0 5h0m-16-5h0m-4 6h0m-15 5h0m-34-11h0m-123 10h0m-80-3h0m318 15h0m63 0h0m3-8h0m14 1h0m19-3h0m19 12h0m-66 0h0m-180 4h0m-146-1h0m12 12h0m105 7h0m17 3h0m-242 2h0m168 14h0m37 0h0m116 12h0m-132 1h0m-87-1h0m81 11h0m44 0h0m92-3h0m103 12h0m-67 10h0m-4-3h0m-150-2h0m-66-5h0m-117 7h0m267 14h0m101-10h0m-23 12h0m-35 2h0m-15 2h0m58 19h0m361 62h0m-870 58h0m46-4h0m8 3h0m820 1h0m-805 10h0m-75 3h0m7 3h0m15 3h0m41 5h0m26-9h0m43 4h0m771-5h0m-785 14h0m-17 5h0m-65 0h0m-5-3h0m-48 5h0m32 8h0m83 3h0m869 14h0m-916-8h0m-7 6h0m-14-8h0m-11 9h0m-8-6h0m5 11h0m3 4h0m25-2h0m73-3h0m-112 11h0m16 14h0m3 5h0m21-3h0m28 3h0m-38 5h0m-5 4h0m650 100h0m-90 68h0m-456 20h0m-29 11h0m244 29h0m-240 31h0m-48 4h0m-12 16h0m9-5h0m435 91h0m-31 5h0m29 13h0m-39 16h0"/>
<path stroke="#fec185" d="M880 533h0"/>
<path stroke="#651a80" d="M955 198h0m21 2h0m-12 7h0m-110 10h0m125 2h0m37 7h0m73 1h0m-19 5h0m-215-2h0m-21 5h0m-19 1h0m1 5h0m24-1h0m54 7h0m66 0h0m36-1h0m82 2h0m-3 5h0m-42 4h0m-88 3h0m-62-5h0m-80 9h0m7 8h0m2-7h0m14-1h0m0 5h0m13-5h0m125 1h0m16 0h0m25 1h0m53 5h0m6-3h0m50 4h0m23-8h0m13 0h0m43 20h0m-106-7h0m-76 7h0m-25 2h0m-38-4h0m-30-2h0m-5-2h0m-8 8h0m-58-6h0m-9-3h0m208 22h0m37 0h0m16-9h0m8 4h0m24 0h0m27-2h0m-40 14h0m-22 1h0m-111 4h0m-79-1h0m-18-4h0m-45-4h0m-11 1h0m-1 4h0m-2-3h0m-10 13h0m6 0h0m28-2h0m3 1h0m123 2h0m13-3h0m34 0h0m4 6h0m57 0h0m29-6h0m65-3h0m106 17h0m-47-1h0m-12-2h0m-42 1h0m-41 4h0m-9-4h0m-1 0h0m-13-2h0m-104 1h0m-21 6h0m-37-5h0m-41 8h0m-37-11h0m-43 10h0m-8-1h0m-12 7h0m6 0h0m6 3h0m3-6h0m4 2h0m104 2h0m76 5h0m18-4h0m53-2h0m11-4h0m11 6h0m33-6h0m12 9h0m96-2h0m10-4h0m20 6h0m13 0h0m46 4h0m-29 2h0m-25 0h0m-7-3h0m-73 7h0m-35 1h0m-88-6h0m-26 6h0m-97-1h0m-141-4h0m-4 3h0m-32 4h0m0 5h0m29 0h0m39-2h0m6 8h0m79-7h0m15 8h0m50 0h0m101-3h0m82-7h0m9 2h0m27 1h0m22 0h0m40-1h0m14-1h0m34 3h0m21 6h0m1-7h0m25 7h0m-31 10h0m-54 3h0m-52-9h0m-5-2h0m-11 1h0m-12 6h0m-43-1h0m-34 5h0m-16-11h0m-48 9h0m-13-2h0m-76-2h0m-9 3h0m-10-8h0m-119 0h0m49 12h0m181 7h0m6-6h0m11 4h0m23-2h0m104-1h0m74 9h0m42-4h0m18 4h0m23 12h0m-47 0h0m-5-9h0m-1 8h0m-14-8h0m-20 8h0m-104-8h0m-40 2h0m-38 5h0m-38-8h0m-27 3h0m-15-4h0m-35 20h0m48 3h0m4-9h0m4-1h0m52-1h0m41 6h0m12 2h0m138 1h0m19-7h0m83 16h0m-177-3h0m-2 2h0m-52 3h0m-125-7h0m-42 5h0m-32-5h0m-153 13h0m175-1h0m40 6h0m22-4h0m107 8h0m181-3h0m16-8h0m3 9h0m11-4h0m7-5h0m33 17h0m-26 6h0m-81-10h0m-75 7h0m-56 3h0m-12 0h0m-125-11h0m-2 8h0m-5-6h0m-2 4h0m-1-6h0m-6 8h0m-3 1h0m-98 12h0m4-9h0m125 9h0m34-7h0m4 0h0m15-2h0m3 11h0m5-3h0m8-5h0m58 6h0m2-3h0m72 3h0m3-6h0m5 1h0m25 1h0m45 3h0m96 0h0m-35 5h0m-18 4h0m-61-5h0m-11 9h0m-7-8h0m-1 4h0m-56 1h0m-74-2h0m-26-1h0m-19 0h0m-32-2h0m-9 10h0m-51-7h0m-65 6h0m-11-5h0m-22 5h0m-34 2h0m51 6h0m13 5h0m20-10h0m52 10h0m74 0h0m4-3h0m10-1h0m7-1h0m8-5h0m22 2h0m26-1h0m3 8h0m1-10h0m9 3h0m137-1h0m22 9h0m6-1h0m34-5h0m-39 18h0m-17 0h0m-133-9h0m-53 8h0m-32-6h0m-13 3h0m-300 11h0m157-4h0m29 9h0m4-7h0m15-3h0m14 1h0m118 2h0m14-3h0m15 6h0m1-5h0m92 0h0m72 9h0m22-10h0m-183 16h0m-83 3h0m-31 1h0m-17-1h0m-2 1h0m-210-3h0m-14 12h0m6-5h0m22 7h0m107-3h0m332 17h0m-49-8h0m-37 2h0m-129 6h0m0-6h0m-3-1h0m-32 0h0m-46 1h0m-169 3h0m360 10h0m75 7h0m-14 2h0m-28 4h0m-26-6h0m-55 9h0m-43-4h0m0-3h0m-169 5h0m0-1h0m-30-3h0m-1 8h0m-33-11h0m29 13h0m185-1h0m131 11h0m52-9h0m13 0h0m-14 21h0m-7-3h0m-25-8h0m-177 2h0m165 17h0m33 9h0m-16-3h0m492 83h0m-25 21h0m-914-6h0m-66 9h0m7 2h0m60-2h0m830 15h0m-73 6h0m-662-3h0m-11 1h0m-52-6h0m-33 2h0m-12 1h0m-5 3h0m-45-2h0m-25 8h0m2 8h0m11-8h0m23 6h0m8 3h0m11-4h0m93-1h0m742-2h0m-731 13h0m-31 1h0m-20 3h0m-26-2h0m-4 2h0m-6 2h0m-16-5h0m-26-4h0m-18 15h0m50-2h0m6 8h0m67-7h0m803 20h0m-730-5h0m-37-3h0m-10 2h0m-15 4h0m-1 2h0m-74-11h0m-6 2h0m-9 1h0m-44-2h0m18 20h0m87 1h0m12 0h0m44-8h0m7 1h0m-92 14h0m-31-4h0m-4 0h0m-26 5h0m-8 4h0m3 5h0m15 1h0m48 0h0m9-2h0m3 13h0m-1 3h0m-31 3h0m-16-4h0m-5 3h0m7 6h0m652 89h0m-25 15h0m50 13h0m-143 10h0m84-6h0m6 1h0m28-4h0m-46 17h0m-16 1h0m-294 11h0m296 5h0m-551 14h0m554 20h0m-520 1h0m-15 2h0m15 5h0m238 12h0m-217-2h0m-58 20h0m50-8h0m-65 40h0m-6 30h0m437 95h0m-28-3h0m-26 3h0m47 9h0m3 1h0m-15 4h0"/>
<path stroke="#df4a68" d="M809 263h0m262 25h0m207 46h0m-519 46h0m27 38h0m60 14h0m284 0h0m20 21h0m-248 2h0m-97 8h0m101-3h0m225 10h0m253 21h0m-574 15h0m77 1h0m8-3h0m10 0h0m27 6h0m-112 27h0m19-1h0m7 23h0m147 3h0m37 7h0m-133 6h0m313 11h0m-854 30h0m370 107h0m-31 16h0m2 26h0m34 48h0m-221 140h0m293 54h0m340 228h0"/>
<path stroke="#56147d" d="M938 200h0m124 13h0m-2-2h0m-62-1h0m-6 3h0m-10-4h0m-5 3h0m-2 0h0m-1-3h0m-10 2h0m-3 2h0m-11-8h0m-8 0h0m-12 9h0m-7-10h0m-14 6h0m-22-1h0m-31 3h0m-15 7h0m18 5h0m7 3h0m5-8h0m6 0h0m20 3h0m13 0h0m9 4h0m7-4h0m6 4h0m21-1h0m0-8h0m14 2h0m16 0h0m7 2h0m1-4h0m6 3h0m35-4h0m20 1h0m1 5h0m4 4h0m18-8h0m9 4h0m3 1h0m36 10h0m-116 0h0m-34 0h0m-15 1h0m-9 4h0m-5-7h0m-2 4h0m-26 4h0m-9-2h0m-3-8h0m-7 4h0m-6-5h0m-12 7h0m-1-5h0m-13 6h0m-15-6h0m-20 3h0m-21 12h0m14-2h0m20 2h0m23 3h0m0-4h0m16 0h0m8 7h0m19-2h0m16-9h0m23 2h0m4 0h0m22 7h0m3-4h0m21 1h0m8-1h0m1 5h0m5-6h0m2 5h0m21-6h0m0-1h0m10-1h0m7 3h0m2 1h0m29 6h0m12-7h0m13 0h0m2 4h0m13-7h0m33 22h0m-50-6h0m-6-3h0m-23 9h0m-20-11h0m-14 0h0m-9 3h0m-15 8h0m-3-10h0m-17 10h0m-3-6h0m-10 6h0m0-4h0m-11-1h0m-102 3h0m0-2h0m-8-2h0m-5 1h0m-21 2h0m0 1h0m74 13h0m31-1h0m47-2h0m23-7h0m2 11h0m10-1h0m46-8h0m27 8h0m3-6h0m3 0h0m2-1h0m48-2h0m9 5h0m0 3h0m-6 3h0m-2 6h0m-9 5h0m-11-3h0m-1-5h0m-19 7h0m-23-4h0m-23 3h0m-6-2h0m-1-4h0m-15 6h0m-47-3h0m-5-3h0m-1 3h0m-9 2h0m-23-8h0m-75 9h0m-4-8h0m-21 4h0m-19 1h0m-7-6h0m-2 4h0m-1-4h0m-24 2h0m2 12h0m34 6h0m12-5h0m4 1h0m11-2h0m2 8h0m16-7h0m55-3h0m1 11h0m25-5h0m5 5h0m10-4h0m15-2h0m3 5h0m3-6h0m20-2h0m18 1h0m17 5h0m5-7h0m45-1h0m20 1h0m21 10h0m14-9h0m23-1h0m20 14h0m-4-1h0m-42 0h0m-9 8h0m-5-8h0m-1 6h0m-9 2h0m-5-5h0m-29-3h0m-2 3h0m-35 2h0m-15 1h0m-8-5h0m-24 3h0m-54 3h0m-7 0h0m-43-1h0m-17-5h0m-5 2h0m-8-3h0m0-1h0m-30 7h0m-22 2h0m30 4h0m13 4h0m15 2h0m17-6h0m3 6h0m21-5h0m39 4h0m5 3h0m3-9h0m5 6h0m29-3h0m12 2h0m7-6h0m32 2h0m40 6h0m15-4h0m16-2h0m5-1h0m2 6h0m33 2h0m8 2h0m5 0h0m15-10h0m5 4h0m10 6h0m14-4h0m-4 10h0m-1-5h0m-8 9h0m-1-9h0m-2 5h0m-2 0h0m-2 3h0m-9-6h0m-16 1h0m0 2h0m-8 6h0m0-9h0m-9 7h0m-21 2h0m-38 0h0m-58-7h0m-13-4h0m-7 10h0m-7-2h0m-27-2h0m-15 4h0m-2-8h0m-4 4h0m-2 0h0m-28 0h0m-24-1h0m-5 3h0m-11 0h0m-7-1h0m-16-6h0m-1 10h0m-11-7h0m-20 5h0m23 9h0m8 0h0m8 2h0m1 2h0m5 1h0m5-5h0m29 3h0m8-4h0m20-4h0m18 4h0m19-3h0m57 4h0m102 0h0m2 1h0m2-7h0m6 4h0m23 4h0m6-6h0m17 3h0m28 0h0m2 6h0m18-1h0m2-6h0m64 4h0m29 14h0m-11 1h0m-16-3h0m-14 2h0m-22-2h0m-18 0h0m-27-4h0m-1 6h0m-1-8h0m-29 0h0m-3-2h0m-7 10h0m-18-10h0m-1 8h0m-4-7h0m-7 8h0m0-3h0m-12-4h0m-6 9h0m-17-4h0m-1 2h0m-7 1h0m-16 0h0m-3-7h0m-9 0h0m-2 8h0m-2-10h0m-29 5h0m-18-2h0m-15 7h0m-21-6h0m-1 4h0m-9 2h0m-27-5h0m-12 3h0m-66-9h0m-26 2h0m-10 0h0m11 15h0m22-4h0m60-1h0m1 3h0m4 7h0m10-7h0m26 5h0m5 3h0m3-9h0m2 6h0m42 3h0m20-4h0m12 3h0m46-10h0m11 5h0m36 0h0m26-3h0m40 1h0m17 2h0m15 5h0m6 0h0m4-7h0m6 6h0m7-4h0m13 6h0m45-1h0m3-2h0m8-1h0m24 13h0m-50-8h0m-13 2h0m-21-1h0m-47-1h0m-1 8h0m-22 3h0m-1-10h0m-2-1h0m-23 8h0m-3 3h0m-5-2h0m-22-4h0m-15-3h0m-58 3h0m-25-1h0m-26-3h0m-15-1h0m-6 11h0m-7-4h0m-100-2h0m49 10h0m8 0h0m6-2h0m7 5h0m6 2h0m2-7h0m30 10h0m16-9h0m7 0h0m10-1h0m6 9h0m16-9h0m4 2h0m5-2h0m1 7h0m8-6h0m1 9h0m7-11h0m20 8h0m5 1h0m0-3h0m12 2h0m17-6h0m2 6h0m8-5h0m52 7h0m42-4h0m5-1h0m10 3h0m10-8h0m25 2h0m13 5h0m35 3h0m12-7h0m13 3h0m-3 8h0m-42-1h0m-77 9h0m-9-1h0m-6-7h0m-6 9h0m-3-6h0m-16 1h0m-11-6h0m-6 3h0m-15 2h0m-10 2h0m-6-5h0m-8 5h0m-19 3h0m-4-1h0m-8-4h0m-50 2h0m-10 2h0m-3-4h0m-7 6h0m-7-11h0m-23 0h0m-127 5h0m-32 16h0m85-1h0m27-1h0m5 3h0m26-5h0m22 2h0m24 2h0m25 0h0m1-1h0m2-2h0m12 3h0m73-8h0m2 8h0m18-9h0m15 6h0m18-3h0m7 3h0m10-3h0m4 6h0m32-3h0m18 3h0m25-6h0m15 1h0m2 4h0m38 2h0m17 9h0m-10-2h0m-6-1h0m-9 5h0m-38-6h0m-34 3h0m-4-4h0m-2 9h0m-15-10h0m-2 9h0m-4 0h0m-12-7h0m-13 2h0m-3-5h0m-11 9h0m-5-6h0m-1 3h0m-11 0h0m-8 1h0m-16 3h0m-12-3h0m-5-1h0m-37-4h0m-40 7h0m-7-7h0m-16 0h0m-24-2h0m-16 10h0m-15 8h0m99 0h0m1-6h0m4 7h0m9-3h0m32 7h0m10-9h0m5 1h0m25-2h0m33 5h0m1 2h0m6-1h0m71-7h0m20 11h0m4-9h0m40 7h0m-15 4h0m-13 8h0m-6-8h0m-6 5h0m-10 1h0m-24 2h0m-4-8h0m-73 5h0m-6-1h0m-17 5h0m-3-7h0m-10-2h0m-5 4h0m0 5h0m-10-6h0m-8-2h0m-6 6h0m-6 1h0m-23-6h0m-33 18h0m46-4h0m37 2h0m17 0h0m38 4h0m2-4h0m1-2h0m43 5h0m5 0h0m12-7h0m21-2h0m5 3h0m13 7h0m14-9h0m16 5h0m9 2h0m24-1h0m-16 4h0m-23 11h0m-99 0h0m-17-2h0m-15-4h0m-61-1h0m-26 5h0m-2-9h0m-16 11h0m-11-3h0m-228 3h0m244 3h0m54-1h0m14 5h0m20-2h0m1-4h0m13 7h0m20 4h0m11-1h0m16-6h0m3-3h0m5 1h0m5 0h0m21 4h0m10 2h0m11 2h0m25-3h0m-4 6h0m-17 0h0m-31 9h0m-31-5h0m-6-2h0m-7-3h0m-12 3h0m-15 6h0m-25 1h0m-3-6h0m-7-4h0m-26 1h0m-260 6h0m315 8h0m15-3h0m17 10h0m11-4h0m13 3h0m23 1h0m1-1h0m10-4h0m14-1h0m-33 10h0m-233 16h0m123-2h0m1-4h0m60 1h0m-29 18h0m-10 4h0m0-7h0m-18-3h0m-14 7h0m-23 1h0m-8 13h0m30-8h0m4-2h0m23 7h0m15-3h0m18 4h0m2 0h0m-25 4h0m-4 7h0m-31-2h0m-16 6h0m-17-4h0m-115-5h0m-191 3h0m-5 7h0m310 10h0m12 0h0m21-10h0m19 9h0m21 1h0m18 3h0m-13 0h0m-15-1h0m-45 3h0m0 8h0m-11-6h0m-8 12h0m20-1h0m16-2h0m5 4h0m4-4h0m8 5h0m18-1h0m-15 7h0m-17 3h0m489 50h0m-24 5h0m-8 7h0m-20 7h0m16 16h0m15-2h0m-934 13h0m-41 14h0m847-3h0m90 2h0m28-4h0m-2 22h0m-23-2h0m-72-7h0m-712 7h0m-141-4h0m24 16h0m16-7h0m84 1h0m15 7h0m12-9h0m15 10h0m637 0h0m97-3h0m43-8h0m11 2h0m19 2h0m-3 8h0m-69 7h0m-16 4h0m-825-8h0m-14 8h0m-62 10h0m54-2h0m75-6h0m18 1h0m691 5h0m131 0h0m-128 5h0m-657 11h0m-3-3h0m-25 3h0m-37-8h0m-5 0h0m-74 4h0m-6-1h0m-38-4h0m0 14h0m41 2h0m6-4h0m109 6h0m750-1h0m51 1h0m14-4h0m14-4h0m-84 18h0m-718 1h0m-124 8h0m624 112h0m-378 3h0m7 2h0m259 1h0m7 0h0m60-1h0m4 9h0m27-5h0m2 11h0m-76 0h0m-19 3h0m-10-2h0m-245 3h0m-11-3h0m-1-3h0m-4 14h0m18 3h0m252-4h0m45 21h0m-22-11h0m-14 20h0m13 1h0m84-5h0m23 12h0m-52-1h0m-64 6h0m-237 1h0m-251 3h0m8 6h0m16-5h0m535 0h0m29 0h0m20 8h0m-25 2h0m-345 8h0m-186-8h0m-28 8h0m-5-8h0m-22 6h0m-29-1h0m-16 11h0m12 6h0m27-3h0m51-5h0m5 2h0m481-4h0m49 16h0m0 3h0m-316 0h0m-55 4h0m-176-9h0m-52 8h0m-11 10h0m607 0h0m-613 17h0m74 9h0m-27 3h0m-35 9h0m-26 5h0m17 5h0m25-6h0m-24 11h0m-39 5h0m3 6h0m448 64h0m-4 15h0m13 1h0m0 3h0m7-5h0m4-5h0m10 9h0m-24 13h0m-1-9h0m-38 20h0m31-2h0"/>
<path stroke="#36106b" d="M1249 426h0"/>
<path stroke="#b2357b" d="M904 249h0m152 10h0m-173 0h0m258 9h0m7 7h0m18 5h0m-40-3h0m13 38h0m-297 21h0m42 3h0m150-3h0m62 4h0m234 10h0m-488 15h0m532 16h0m-212-4h0m153 13h0m37-4h0m29 6h0m-567 9h0m-46 0h0m21 16h0m193-3h0m87 17h0m-21-7h0m-49 7h0m-142-11h0m42 23h0m60 0h0m61-4h0m85 2h0m266 0h0m-157 4h0m-48 6h0m-96 1h0m-32-4h0m-23 0h0m-18-4h0m-94 8h0m-122-6h0m164 21h0m98-8h0m10 2h0m16-2h0m16 6h0m68-4h0m273-4h0m-278 15h0m-68 4h0m-158-5h0m-15 0h0m-76 2h0m-33 3h0m161 15h0m123-6h0m9 2h0m20-6h0m26-1h0m55 14h0m-73 0h0m-166 3h0m-53 3h0m166 8h0m60-2h0m45 5h0m16-7h0m-131 19h0m-94-1h0m-67 4h0m-85 13h0m119-7h0m136 6h0m-28 2h0m-71 5h0m-40 5h0m-15-9h0m-44 3h0m-34 2h0m9 9h0m104-2h0m8 7h0m244 4h0m-315 1h0m3 12h0m200 10h0m-370 132h0m-17 10h0m94 10h0m-105 9h0m84 2h0m27-6h0m-74 23h0m-31-6h0m4 13h0m24 2h0m6 0h0m46 10h0m-54-3h0m-22 2h0m7 15h0m48-3h0m-38 12h0m35 23h0m-40 1h0m92 173h0m48 36h0m524 30h0m-599 34h0m431 96h0m-12 12h0"/>
<path stroke="#832681" d="M993 198h0m75 37h0m-58 0h0m-147 15h0m133-9h0m109 11h0m-69 5h0m-3 3h0m-174 12h0m106 2h0m79-6h0m118 15h0m-120-3h0m-49 7h0m147 20h0m-157 9h0m71 3h0m-162 9h0m94 11h0m135 0h0m76-3h0m115 2h0m-86 12h0m-112 7h0m-323 8h0m356 3h0m141 11h0m-126-6h0m-396 1h0m-2 0h0m-1 21h0m8-11h0m441 4h0m43 1h0m6 3h0m90 15h0m-2-1h0m-169-5h0m-83 16h0m188-7h0m59 13h0m-83 4h0m-469-7h0m-1 2h0m27 20h0m429-4h0m125 9h0m-50 8h0m-268-1h0m-2-9h0m-160 0h0m-22 10h0m-13-8h0m-49-2h0m-29 5h0m3 8h0m9 6h0m20-1h0m13 3h0m32-4h0m17 1h0m278 0h0m146 15h0m-29-1h0m-375-8h0m-59-1h0m-47 19h0m4 3h0m42-6h0m72 6h0m437 5h0m-25 2h0m-420-1h0m-5 5h0m-45-8h0m-3 12h0m7 7h0m19-4h0m18 2h0m27-3h0m376 1h0m-91 8h0m-260 6h0m-48-3h0m-34 38h0m416-5h0m-36 13h0m-9 14h0m444 104h0m-95 5h0m150 10h0m-80 18h0m30 15h0m-9 23h0m42-6h0m-48 9h0m-13 9h0m-106 16h0m-777 18h0m518 159h0m-769-3h0m5 4h0m825 48h0m43 11h0m-329 29h0m-40 33h0"/>
<path stroke="#fc8a62" d="M835 357h0m-69 34h0m280 63h0m-267 2h0m22 8h0m110 36h0m-60 3h0m24 11h0m60 3h0m-587 105h0"/>
<path stroke="#feae77" d="M763 385h0m-18 13h0"/>
<path stroke="#fc8a62" d="M770 388h0m23 49h0m212-3h0m39 15h0m-191 12h0m-12 23h0m290-1h0m54 4h0m-352 11h0"/>
<path stroke="#651a80" d="M1011 203h0m56 10h0m-125-7h0m-40 8h0m-42 7h0m17 3h0m38-7h0m181 17h0m-73 3h0m-124-2h0m-56-4h0m-37 12h0m278 3h0m16 17h0m-39-5h0m-58-3h0m-64-2h0m-12 6h0m-27-1h0m-60-6h0m-4 10h0m-20-4h0m-7-5h0m74 16h0m21-3h0m91 1h0m3 4h0m11-5h0m150 4h0m-62 6h0m-70 6h0m-18-3h0m-52 5h0m-43 14h0m32 1h0m46-2h0m4-2h0m29-6h0m33 6h0m36-1h0m109 14h0m-3-2h0m-65-4h0m-25 1h0m-58 0h0m-42 7h0m-84-3h0m-37 1h0m-19 2h0m-21-10h0m-23 7h0m-1-2h0m-3 18h0m22-11h0m41 8h0m19-3h0m41-4h0m10 10h0m48-2h0m7 1h0m86-10h0m21 10h0m5 0h0m11-9h0m115 18h0m-80-2h0m-22 5h0m-9-1h0m-53 1h0m-50-8h0m-6 3h0m-82-5h0m-19 0h0m-3 3h0m-50 8h0m-28-7h0m-10-3h0m-2 10h0m-27 8h0m23-5h0m7 5h0m6 1h0m7 1h0m0-5h0m10-4h0m75 4h0m7-2h0m208 9h0m43-9h0m98 7h0m60 11h0m-63 0h0m-224-4h0m-24-3h0m-48 9h0m-9-3h0m-46 2h0m-41-1h0m-71-5h0m-12 7h0m-10 8h0m21-2h0m3-4h0m17 2h0m2 2h0m22 4h0m30-8h0m49 5h0m71-5h0m18 7h0m58 1h0m7 2h0m183-1h0m42-9h0m63 22h0m-17-8h0m-12 5h0m-3 0h0m-38-7h0m-224 4h0m-22 1h0m-29-2h0m-18 4h0m-23 0h0m-15 0h0m-43 4h0m-76-4h0m10 11h0m91-3h0m23 4h0m29 4h0m22-6h0m22 3h0m4-1h0m211-7h0m34 1h0m42 8h0m17-4h0m6-2h0m-3 11h0m-158 1h0m-16 2h0m-41-3h0m-16-1h0m-16 8h0m-2 1h0m-68-8h0m-105 5h0m-23 4h0m-98-10h0m116 17h0m3 0h0m22 5h0m43-5h0m1 1h0m14-1h0m12 4h0m20-9h0m2 4h0m11-3h0m12 6h0m18-3h0m40-4h0m136 9h0m67-10h0m58 22h0m-19-6h0m-90 6h0m-49-1h0m-93-5h0m-14 4h0m-95-1h0m-5-7h0m-3 7h0m-7 2h0m-11-6h0m-25 2h0m-13 5h0m-27-9h0m-76 6h0m120 7h0m87 6h0m187 3h0m24-8h0m26-1h0m52 4h0m14 6h0m-61 5h0m-10 4h0m-22-2h0m-8 3h0m-210-5h0m-18-1h0m-153-1h0m-24 19h0m190-10h0m34 8h0m16 2h0m33-3h0m4-1h0m21 2h0m8-5h0m44 1h0m70 5h0m23-3h0m94-3h0m-19 12h0m-24 3h0m-74 2h0m-8-2h0m-24-1h0m-38 2h0m-5 1h0m-24-2h0m-25 4h0m-14 0h0m-26-5h0m-37-5h0m-33 2h0m-14 0h0m-21-1h0m-23 6h0m-90 2h0m28 13h0m8 1h0m7-10h0m111 3h0m10-1h0m33-2h0m3 9h0m38-9h0m17 0h0m11 5h0m12-1h0m10 5h0m27-8h0m35 0h0m11-1h0m55 0h0m8 15h0m-24 7h0m-8-7h0m-1-2h0m-4 5h0m-6-7h0m-117 3h0m-2 2h0m-11-5h0m-28 4h0m-150 5h0m-166 6h0m205-3h0m68 8h0m204-7h0m22 6h0m13-1h0m-161 7h0m-9 2h0m-6 7h0m-56-1h0m-309-7h0m-3 18h0m2-2h0m4 2h0m11-4h0m85-2h0m61 4h0m51 2h0m23 1h0m67-8h0m48 9h0m10 1h0m18 0h0m57 5h0m-12-3h0m-25 5h0m-17 2h0m-201-7h0m-9 2h0m-16 8h0m-13-11h0m-19 10h0m-7-2h0m-43-8h0m-8 2h0m-34-1h0m-18 0h0m65 21h0m1-7h0m23 6h0m35-3h0m11 1h0m71-4h0m37 3h0m155 4h0m28-3h0m-135 7h0m-40-2h0m-156 9h0m-25 0h0m-7-4h0m131 9h0m163 6h0m63-8h0m3 4h0m23 15h0m-4-2h0m-17 2h0m-27-3h0m-11 3h0m-14 5h0m27 0h0m10 16h0m-36-4h0m399 64h0m-848 31h0m51-3h0m1-5h0m900 1h0m-904 13h0m-4 0h0m-15 0h0m-9-1h0m-24 3h0m-2-5h0m-9 5h0m-48 16h0m45-2h0m7-9h0m70 0h0m51 12h0m-32 10h0m-11-2h0m-31 3h0m-11-6h0m-20-1h0m-3 4h0m-10-7h0m-18 10h0m-10-5h0m-21 6h0m14 6h0m31 2h0m51-7h0m13 5h0m2-5h0m7 3h0m10 4h0m7-1h0m0-3h0m835-4h0m-791 19h0m-8-5h0m-6-2h0m-26 1h0m-5 4h0m-7 6h0m-27-10h0m-8 10h0m-24-8h0m-47 5h0m-17 5h0m12 10h0m11-5h0m5 3h0m23-8h0m10 8h0m5-7h0m13 5h0m5-1h0m11 5h0m34-11h0m884 14h0m-912 8h0m-64-6h0m-30 7h0m-6 0h0m51 7h0m50 3h0m32 2h0m5-2h0m8-8h0m-29 14h0m-13 5h0m-49 1h0m-24-4h0m-27 2h0m65 10h0m43 1h0m9 0h0m3 3h0m26-9h0m-36 12h0m-17 2h0m-21-2h0m-20 11h0m-8-11h0m563 93h0m12-2h0m-276 12h0m288 10h0m23 1h0m-21 25h0m-3 26h0m-308 9h0m-209 2h0m-32 11h0m-4 6h0m4 17h0m36-6h0m38 0h0m208 1h0m7 5h0m-34 31h0m-219 34h0m-4-2h0m-20 2h0m-44 24h0m466 69h0m-61 18h0m-1 9h0m30 8h0m2-2h0m3-5h0m10 2h0m-18 12h0m-18 1h0m-23 0h0"/>
<path stroke="#36106b" d="M1011 967h0m-175 124h0"/>
<path stroke="#471078" d="M928 206h0m-67 19h0m42-4h0m37 1h0m84 4h0m35-5h0m27 14h0m-21-7h0m-38 6h0m-147 9h0m2 4h0m0-5h0m105 9h0m0-6h0m37 2h0m29-6h0m63 22h0m-14-7h0m-64-1h0m-48 6h0m-75 3h0m5 11h0m8-1h0m19-2h0m8 2h0m4 0h0m18-2h0m54-3h0m37 0h0m34 2h0m9 4h0m23-10h0m-96 17h0m-155 3h0m21 9h0m12-2h0m35 0h0m26 4h0m223-2h0m1-4h0m-11 18h0m-5-6h0m-20 5h0m-63 3h0m-81-4h0m-57 5h0m-36-1h0m31 9h0m83-3h0m34 1h0m80 3h0m27 2h0m45 0h0m53 10h0m-334-5h0m-63 20h0m250-7h0m136 17h0m-289 2h0m-38-4h0m54 16h0m93-8h0m110 3h0m-50 17h0m-65 7h0m163-2h0m6 3h0m115-3h0m-65 19h0m-43-10h0m-3 2h0m-122 4h0m1 15h0m106 0h0m4-9h0m140 5h0m-32 11h0m-130 5h0m-23 12h0m14-5h0m62 15h0m-71 2h0m-3-4h0m13 15h0m9 1h0m21-3h0m117-5h0m57 10h0m-24 9h0m-18 0h0m-51-9h0m-11 10h0m-82 2h0m9 12h0m-21 12h0m60 8h0m31 5h0m-30 0h0m-88 20h0m4 13h0m27 23h0m-46 13h0m6-5h0m56 12h0m-20-5h0m-18 0h0m-862 33h0m1280 36h0m16-4h0m59 12h0m-112 0h0m77 19h0m-7 20h0m19 0h0m1 10h0m-8-2h0m-88 22h0m-703 8h0m754 14h0m-48 11h0m-750 3h0m827 21h0m-778 0h0m-37-10h0m35 17h0m747-2h0m-601 125h0m3 7h0m10 26h0m-32-4h0m26 15h0m242-5h0m20 15h0m-271 8h0m29 9h0m291 0h0m10 6h0m-553 2h0m232 21h0m37 27h0m-15 11h0m8 0h0m-237 33h0"/>
<path stroke="#eb5760" d="M805 367h0m-44 22h0m55 3h0m99 8h0m-117 5h0m258 46h0m-257-5h0m-10 6h0m105 9h0m155 4h0m70 13h0m-266 8h0m266 10h0m-153-3h0m-37-1h0m-140 15h0m89 9h0m-77 27h0m51 21h0m-493 50h0m407 86h0m-67 66h0m41 11h0m6 4h0m23 341h0"/>
<path stroke="#b2357b" d="M945 219h0m23 42h0m-60 23h0m169 7h0m-242 27h0m4 1h0m371 16h0m-158-5h0m-242 2h0m44 12h0m10 1h0m227 2h0m76-7h0m106 3h0m-243 15h0m-190-5h0m-28 3h0m-4-6h0m571 30h0m-529-8h0m-40 9h0m-67 7h0m53 1h0m323 5h0m-17 12h0m-112-4h0m-82-2h0m-18 5h0m-121-8h0m38 13h0m186 3h0m50-4h0m39 20h0m-45-3h0m-142-5h0m-4 20h0m147-9h0m6 11h0m329-3h0m-37 12h0m-309 3h0m-25-5h0m-85 0h0m118 14h0m13-6h0m130 17h0m-3-1h0m-20 1h0m-82 4h0m-118 0h0m-39-8h0m-97 1h0m91 19h0m40-2h0m11-7h0m134 4h0m4-6h0m57 8h0m-6 9h0m-9-3h0m-120 4h0m-159 0h0m92 15h0m51-4h0m140-1h0m168 1h0m-182 11h0m-54-2h0m-276 8h0m78 4h0m81 7h0m90-8h0m12 9h0m-99 4h0m-36 6h0m-52-5h0m-35 5h0m248 8h0m-230 23h0m394 2h0m-31 18h0m-47-6h0m-399 107h0m950 2h0m-943 6h0m-31 14h0m43 0h0m-89 12h0m-6 0h0m-9-2h0m-6 4h0m108 18h0m79 5h0m-138-2h0m-30 3h0m-18 0h0m-4-2h0m22 14h0m12-2h0m98 8h0m0 4h0m-7 6h0m-86 3h0m-21 10h0m14-5h0m16-1h0m10-2h0m6 1h0m-18 14h0m-17 1h0m-12 0h0m-1-3h0m56 27h0m638 135h0m-13 29h0m-605 38h0m435 184h0"/>
<path stroke="#c23b75" d="M1045 208h0m-124 8h0m58 16h0m-103 29h0m-57-1h0m173 47h0m-164 39h0m226-3h0m64 0h0m24-3h0m25-4h0m107 0h0m21 1h0m-50 15h0m-201-1h0m-198 7h0m-46-10h0m522 23h0m-48 3h0m-94 6h0m-179-3h0m-99-3h0m-106 0h0m-38 15h0m17 6h0m4-8h0m472 6h0m42-2h0m17-4h0m-187 17h0m-63-3h0m-10-2h0m-219-2h0m-58 7h0m360 9h0m224 16h0m-254-5h0m-272-4h0m-29 14h0m605 17h0m-230-5h0m-170 9h0m-152-3h0m-45 7h0m65 2h0m11-4h0m34 3h0m99 2h0m61-6h0m279 7h0m-267 11h0m-21 3h0m-188-3h0m-75 13h0m29 0h0m25-4h0m109 1h0m300 3h0m15 8h0m-218 4h0m-149 0h0m-45-5h0m56 11h0m37 8h0m71-5h0m319-2h0m-502 17h0m-8 2h0m-4-1h0m5 9h0m14 4h0m29 0h0m289 6h0m-298 1h0m-40-3h0m-21 8h0m36 4h0m103 8h0m283 48h0m-480 93h0m-26 13h0m-1 24h0m-55 11h0m1028-2h0m-993 11h0m-26 27h0m-4 7h0m4 7h0m21 14h0m9 11h0m5-6h0m3 14h0m-222 120h0m304 97h0m-45 29h0m-12 20h0m448 113h0"/>
<path stroke="#000004" d="M987 198h0m84 17h0m-22-1h0m0-3h0m-6-6h0m-4 3h0m-10 4h0m-14 3h0m-1-2h0m-37-9h0m-1 0h0m-10 1h0m-7 1h0m-4 6h0m-6-4h0m-3 0h0m-1-3h0m-60 8h0m-8-3h0m-2-2h0m-10 2h0m-1 5h0m-35 7h0m1 3h0m5 1h0m0-4h0m35-5h0m19 3h0m1 3h0m4-4h0m2 7h0m12-4h0m36-5h0m7 3h0m8-3h0m2-1h0m15 10h0m20-8h0m1 7h0m11 2h0m5-3h0m6 1h0m3-5h0m10 3h0m2-3h0m5-4h0m4 8h0m4 3h0m11-11h0m5 11h0m72 12h0m-8-3h0m-3-2h0m-31 0h0m-8 1h0m-12 1h0m-23-3h0m-4 1h0m-8-6h0m-19 0h0m-8 0h0m-25 10h0m-18 1h0m-37-6h0m-18 6h0m-1-6h0m-17-5h0m-4 8h0m0-2h0m-18-4h0m-7 4h0m-17 3h0m-24-1h0m-17 3h0m91 6h0m1 4h0m16-4h0m7-1h0m21 4h0m2-2h0m6 0h0m12-5h0m8 8h0m33 2h0m17-3h0m45 2h0m2-6h0m55 0h0m5 5h0m2-9h0m0 6h0m33 15h0m-2-2h0m-28-7h0m-42 3h0m-9 5h0m-13 1h0m-30-1h0m-13-4h0m-2-4h0m-10 9h0m-23-7h0m-10-1h0m-6-1h0m-4 7h0m-11-7h0m-25 9h0m-5-4h0m-13-3h0m-2 3h0m-21 0h0m-9 3h0m-8 0h0m-22-3h0m-5-5h0m-23 6h0m-1-5h0m-12 1h0m2 19h0m51-1h0m5-2h0m2-2h0m7-3h0m28 1h0m14 2h0m4 0h0m12-1h0m14 2h0m32-3h0m14 1h0m1 6h0m1-2h0m31 4h0m10-2h0m7-8h0m20 4h0m20-1h0m23-4h0m61 13h0m-11 10h0m-7 0h0m-26-7h0m-15-1h0m-10 7h0m-4-3h0m-1-3h0m-4-3h0m-28 4h0m-2-3h0m-4 8h0m-15-10h0m-28 5h0m-15-1h0m-12-3h0m-8 9h0m-1-7h0m-4 8h0m-38-3h0m-1-4h0m-4 4h0m-12-6h0m-8 0h0m-21 9h0m-5-2h0m-24 0h0m-1-3h0m-10-2h0m-11-3h0m-18 7h0m-9 0h0m-1 3h0m13 6h0m53-1h0m5-3h0m33 4h0m10-4h0m6 9h0m15-5h0m25-4h0m28 8h0m11 1h0m4-9h0m17 3h0m10 3h0m2-7h0m1 9h0m4 1h0m28-4h0m7-2h0m18 0h0m21-3h0m8 4h0m18-5h0m0 7h0m54 1h0m7 8h0m-5 4h0m-12-1h0m-19 3h0m-8-4h0m-25-1h0m-33-5h0m-6 7h0m-4-4h0m-16-2h0m-21 1h0m-51 2h0m0 6h0m-8-7h0m-5 5h0m-9-6h0m-33 0h0m-6-1h0m-6 10h0m-6-6h0m-44 3h0m-3-6h0m-13 2h0m0 2h0m-3-3h0m-3 6h0m-12-7h0m-7-1h0m-5 8h0m-15-2h0m-5 4h0m-9 0h0m-2-1h0m-6-9h0m1 20h0m5 0h0m46-2h0m59 2h0m17-4h0m34-5h0m22 9h0m1-5h0m8-3h0m36-1h0m3 7h0m19 0h0m23-3h0m8 2h0m32-4h0m59-1h0m43 6h0m3-1h0m10 5h0m7-1h0m43 11h0m-6-4h0m-4 5h0m-35 1h0m-6-5h0m-7 4h0m-5 0h0m-18-6h0m-2-4h0m-3 8h0m-28-5h0m-8 2h0m-1-5h0m-25 2h0m-13 5h0m-6 3h0m-9 1h0m-30-5h0m0 4h0m-7-1h0m-24-7h0m-13-1h0m0 5h0m-11 1h0m-9 3h0m-10-7h0m-31 5h0m-10-6h0m-45 7h0m-26 0h0m-1 0h0m-52 1h0m-2-4h0m-28 0h0m-11 10h0m5-1h0m7 6h0m21-1h0m8-5h0m18 4h0m9 3h0m22-7h0m7-1h0m8 2h0m6 6h0m3-9h0m3 5h0m4-2h0m7-1h0m30 3h0m11-1h0m4-5h0m18 7h0m12-5h0m4-1h0m37 8h0m11-7h0m4 9h0m3-4h0m4-1h0m6-6h0m3 11h0m28-8h0m27-1h0m6 7h0m5-4h0m25 5h0m17-6h0m15-3h0m4 5h0m66-2h0m31-1h0m49 19h0m-1 1h0m-4-7h0m-6 2h0m-5-2h0m-14 0h0m-14 7h0m-18-10h0m-9 7h0m0-5h0m-11-1h0m-2 7h0m-1-6h0m-6 1h0m-3-2h0m-32-1h0m-1 6h0m-17 1h0m-4-8h0m-1 10h0m-44-2h0m-42-4h0m-22 1h0m-10 1h0m-8-6h0m-5 10h0m-5-2h0m-1-4h0m-25 6h0m-42 1h0m-26-8h0m-4 2h0m-20-4h0m-12 0h0m-18 5h0m-3-3h0m-7 3h0m-6-1h0m-3 3h0m-14-1h0m-3 3h0m-65-4h0m-29 4h0m2 8h0m10 5h0m5-11h0m28 2h0m11 3h0m57 4h0m9-7h0m14-2h0m11 5h0m6 2h0m32 1h0m7-2h0m20-3h0m26 3h0m85-5h0m10 2h0m25 5h0m2 1h0m1-9h0m3 6h0m19-5h0m19 9h0m1 1h0m12-3h0m8-7h0m11 6h0m13 2h0m19 2h0m24-4h0m8 0h0m18-6h0m29 8h0m9-4h0m14-3h0m4 0h0m18 3h0m10 13h0m-24 0h0m-5 2h0m-11-3h0m-29 1h0m-6 4h0m-38-3h0m-12 1h0m-1-7h0m-27 10h0m-3-5h0m-4-3h0m-3 5h0m-64 0h0m-5 0h0m-11-4h0m-3 1h0m-3 2h0m-4-6h0m-28 10h0m-10-7h0m-11 5h0m0-3h0m-5 3h0m-46-4h0m-23 3h0m-68-8h0m-11 3h0m-22 2h0m-40-4h0m-9 10h0m-16-5h0m-73 3h0m-2-8h0m154 17h0m1 4h0m2-10h0m6 11h0m7-3h0m2 2h0m26-10h0m52 1h0m15 6h0m32-1h0m9-3h0m24 7h0m2-9h0m16 2h0m3-2h0m10 6h0m13-4h0m56 7h0m6-1h0m24 0h0m36-5h0m7-1h0m10 8h0m9-6h0m3 5h0m11-10h0m89 9h0m-8 3h0m-4 8h0m-12-4h0m-17 2h0m-25-4h0m-14-2h0m-3 4h0m-8 5h0m-44-2h0m-9 3h0m-33-3h0m-8 1h0m-4-1h0m-3-6h0m-10 2h0m-1-1h0m-2 5h0m-8-2h0m-9-4h0m-8 9h0m-26-9h0m-30 8h0m-1-7h0m-8 3h0m-13-4h0m-48 3h0m-43-2h0m-43 6h0m-24-8h0m-1 4h0m-5-2h0m-8 3h0m-6 1h0m-99 8h0m46 1h0m35-1h0m52 7h0m19-3h0m28 4h0m11 1h0m4-11h0m13 8h0m6-7h0m29 2h0m19 1h0m8 0h0m34 1h0m3-4h0m26 5h0m1-2h0m27-4h0m12 5h0m0-3h0m15 5h0m12-7h0m0 7h0m7-4h0m20 4h0m26 3h0m4-9h0m17 9h0m4-8h0m2 2h0m29-3h0m27 2h0m27 7h0m31-10h0m-6 19h0m-36-7h0m-56 7h0m-49-5h0m-16 9h0m-7-8h0m-7 8h0m-9-2h0m-18 1h0m-9-7h0m-12 1h0m-43-1h0m-4-1h0m-12 5h0m-6-3h0m-5 4h0m-70-2h0m-9 1h0m-21-7h0m-16 0h0m-18 3h0m-6 2h0m-5-1h0m-41-3h0m-74 9h0m-41-4h0m-33-6h0m-1 22h0m73-6h0m18 6h0m16-10h0m111 2h0m10 6h0m30 2h0m28 1h0m99-7h0m3 0h0m13-4h0m1 10h0m20-3h0m6 0h0m13-2h0m68-4h0m13 10h0m4-7h0m6 4h0m21-3h0m16 2h0m3 4h0m3-7h0m37 4h0m25-2h0m2 12h0m-8 0h0m-19 3h0m-7 2h0m-20-6h0m-12-3h0m-2-2h0m-12 2h0m-27 3h0m-23 3h0m-2-4h0m-3 4h0m-28 2h0m-11 1h0m0-3h0m-20 2h0m-12-2h0m-37 0h0m-14-2h0m-4-4h0m-10-2h0m-71 7h0m-17-5h0m-27 2h0m-35-2h0m-86 7h0m-25 2h0m-40-9h0m-26 7h0m-29 1h0m-10 10h0m12-1h0m38-4h0m5 2h0m23 5h0m4-5h0m4-4h0m0 5h0m11-2h0m26 1h0m1 1h0m17 0h0m2-6h0m0 11h0m4 0h0m3 0h0m2-7h0m0 5h0m161-5h0m7-2h0m18 3h0m26 3h0m22-6h0m34 9h0m4-4h0m17-4h0m34 2h0m1 4h0m22 0h0m2-4h0m5 1h0m46 3h0m39-2h0m4 1h0m48 2h0m-61 5h0m-5 3h0m-10-1h0m-1 6h0m-7-11h0m-3 11h0m-2-5h0m-112-1h0m-1 5h0m-20-6h0m-103 2h0m-10-5h0m-29 8h0m-11-5h0m-7 3h0m-84 1h0m-1 3h0m-5-6h0m-16-5h0m-24 0h0m-5 10h0m-8-6h0m-13 1h0m-9 1h0m-50 0h0m-7 3h0m-4-1h0m-1-5h0m-21 12h0m7 1h0m17 1h0m6 1h0m20-6h0m22 11h0m5-5h0m33 0h0m37 5h0m30-4h0m5 2h0m17 2h0m32-11h0m18 3h0m37-3h0m89 0h0m3 5h0m9 3h0m16-7h0m9 6h0m13 1h0m10 1h0m6-3h0m7 5h0m10-11h0m34 3h0m30 4h0m5 4h0m22-9h0m49 3h0m-20 9h0m-41 3h0m-26 5h0m-11 0h0m-32-3h0m-11 0h0m-4 2h0m-22-9h0m-53 11h0m-3-4h0m-2 4h0m-12-10h0m-13 4h0m-1 3h0m-3-4h0m-9-1h0m0 2h0m-5-1h0m-100-2h0m-24-1h0m-13 0h0m-4 3h0m-3 7h0m-1-6h0m-4 6h0m-4-2h0m-5 2h0m-4-8h0m-14 6h0m-10 1h0m-5 0h0m-8-4h0m-28-3h0m-15 4h0m-8 1h0m-7 3h0m-8 0h0m-60-7h0m-10 6h0m10 5h0m19 7h0m40 0h0m51-5h0m48 5h0m2-7h0m10 5h0m3-2h0m3 1h0m29 1h0m6-8h0m109 6h0m153 5h0m24-10h0m3 4h0m24 4h0m2-1h0m4-8h0m23 7h0m-75 12h0m-45-4h0m-111 3h0m-20-6h0m-26 10h0m-19-4h0m-78 4h0m-2-8h0m-35-2h0m-10 5h0m-5-3h0m-36 4h0m-1-3h0m-10 7h0m-3-6h0m-11 7h0m-14-6h0m-8 2h0m-2-6h0m-2 7h0m-30-6h0m-5 4h0m3 6h0m35 1h0m4 8h0m46-4h0m7 6h0m0-4h0m0-5h0m6-1h0m5 4h0m2-3h0m11-2h0m17 5h0m9 3h0m4-5h0m19 3h0m14 4h0m12 0h0m7-9h0m23 2h0m4 5h0m3-4h0m6 2h0m25-6h0m1 5h0m2-1h0m20 7h0m15-3h0m14-4h0m49-3h0m8 10h0m104 8h0m-31-2h0m-2 2h0m-136 0h0m-34-7h0m-27 6h0m0 4h0m-5-6h0m-11-4h0m-4 8h0m-2-4h0m-7-3h0m-31 5h0m-5 0h0m-6 5h0m-16-5h0m-6 2h0m-20-3h0m-2 2h0m-20-4h0m-11 1h0m-9 0h0m-40 1h0m-8 2h0m-4-5h0m-15 7h0m-13 0h0m-8-3h0m68 10h0m1-4h0m8 7h0m37-2h0m20 6h0m4-6h0m8 0h0m5 2h0m8 3h0m6-2h0m3-8h0m1 3h0m1 6h0m6-8h0m5 4h0m0-4h0m8 4h0m14-4h0m0 4h0m6 3h0m93-5h0m26 3h0m28-6h0m23 0h0m10 0h0m72 1h0m11 11h0m-15 4h0m-39-3h0m-13 6h0m-37 2h0m-1-8h0m-78 10h0m-5-11h0m-6 3h0m-1 6h0m-1 0h0m-6-2h0m-1 0h0m-13-3h0m-37 3h0m-11-3h0m-13 2h0m-5-2h0m-4 3h0m-15-6h0m-20 3h0m-28-3h0m-39 4h0m-16 5h0m-2-5h0m-4-5h0m-2 7h0m-7-7h0m-2 5h0m-10 0h0m-8-4h0m34 17h0m1-4h0m34-2h0m140 8h0m13 2h0m3-4h0m17-4h0m5 1h0m46 2h0m65 4h0m33-6h0m5 8h0m16-11h0m2 12h0m0 10h0m-17-7h0m-17-3h0m-43 4h0m-20 4h0m-51 0h0m-28-4h0m-6 3h0m-13-4h0m4 14h0m4-1h0m173 9h0m-8-1h0m-21 1h0m-2 5h0m-11-4h0m-849 15h0m1288 24h0m1 4h0m3-1h0m6-1h0m2-1h0m2 0h0m2 1h0m13 0h0m4-3h0m3 3h0m6-1h0m7-1h0m28 14h0m-1 0h0m-3 2h0m-11-2h0m-12-1h0m-23 2h0m-13 3h0m-2-3h0m-11-7h0m0 2h0m-1 3h0m-9 3h0m-9-8h0m-27 7h0m-34 15h0m27-4h0m2-5h0m11 3h0m9-5h0m15 7h0m9-4h0m23-2h0m1 7h0m5-5h0m1 5h0m8 2h0m0-4h0m6-6h0m19 5h0m13-3h0m17 1h0m2 5h0m0-2h0m4 0h0m2 16h0m0-8h0m-4-2h0m-10 5h0m-4 4h0m-14 1h0m-5-5h0m-26 4h0m-4-2h0m-5-7h0m-4 1h0m-7 7h0m-2-3h0m-1 6h0m-2-10h0m-6 10h0m-4-2h0m-5 0h0m-9-7h0m-4-1h0m-5 8h0m-3-8h0m-13 10h0m-7-1h0m-29-3h0m-751-1h0m-82 4h0m52 9h0m9 0h0m2 0h0m3-6h0m6 1h0m1 3h0m740 5h0m6-10h0m2 4h0m9 5h0m5-8h0m7 0h0m1-1h0m1 9h0m6-2h0m3 3h0m6 0h0m12-10h0m15 6h0m2 4h0m6-1h0m6 2h0m0-5h0m3-6h0m10 0h0m8 5h0m0-2h0m4 4h0m0-3h0m4 4h0m11-6h0m8 9h0m13-5h0m11-1h0m4-5h0m17 7h0m4 11h0m-14-3h0m-7 8h0m-5-3h0m-9 1h0m-3-8h0m-3 7h0m-3-4h0m-9 5h0m-6-2h0m0-4h0m-22 5h0m-7-2h0m-1-4h0m-2-2h0m-9 3h0m-1 7h0m-4-8h0m-1 8h0m-9 1h0m0-8h0m-8-1h0m-2 7h0m-15-6h0m-38 7h0m-9-2h0m-715-5h0m-21 5h0m-3-7h0m-3 7h0m-26 2h0m-41 0h0m-22-2h0m-19 11h0m42 3h0m7-3h0m1-6h0m21 7h0m2-6h0m13 3h0m4-3h0m9 3h0m745 0h0m8-5h0m13 1h0m1 5h0m13-4h0m7 1h0m4 4h0m6 1h0m4-3h0m6 4h0m6-3h0m2-3h0m10 1h0m1 6h0m3-1h0m8-1h0m3 3h0m1-10h0m3 3h0m2 3h0m5-5h0m11 7h0m20-9h0m10 1h0m4 9h0m2-10h0m0 6h0m5-5h0m24 1h0m2 0h0m1 5h0m0 14h0m-3 1h0m-6-4h0m-4 4h0m-14 0h0m-5 1h0m-4-3h0m-1 2h0m-9-8h0m-6 8h0m0-9h0m-9 2h0m-6 0h0m-5 0h0m-1 4h0m-3 0h0m-2-7h0m-2 7h0m-7-6h0m-2 3h0m-15 3h0m-11-4h0m0 4h0m-3 0h0m-11 2h0m-4 2h0m-5-11h0m-7 2h0m-2 4h0m-2 3h0m-2-6h0m-7 4h0m-4 4h0m-2-3h0m-4-7h0m-10 3h0m-8 0h0m-5-1h0m-646 4h0m-18 1h0m-9-4h0m-15-1h0m-8 7h0m-18-2h0m-17-8h0m-5 3h0m-2 0h0m-1 4h0m-13 2h0m-5-4h0m-23-5h0m-13 8h0m-39 2h0m-10 13h0m10-1h0m23-5h0m6-2h0m61 4h0m7 1h0m17-6h0m16 0h0m5 0h0m25 2h0m1-4h0m14 4h0m6 4h0m3 2h0m6-7h0m638 0h0m3-3h0m12 2h0m18 2h0m11 0h0m18 7h0m14-5h0m3 5h0m1-8h0m6 1h0m3-1h0m0 7h0m15-5h0m8 2h0m2-4h0m6 1h0m4 0h0m1 4h0m7-8h0m7 10h0m4-5h0m15-2h0m1 5h0m11 3h0m3-9h0m3 6h0m2-6h0m4-2h0m1 8h0m5-4h0m-10 11h0m-9-1h0m-1 5h0m-16 1h0m0-4h0m-13 2h0m-1 3h0m-10 1h0m-1-10h0m-1 6h0m-19 2h0m-8-1h0m-8-6h0m-9 5h0m-3-6h0m-8 10h0m-3 1h0m-1-4h0m-11-4h0m-2 5h0m-14-3h0m-21-3h0m-6-1h0m-640 6h0m-2 0h0m-8 3h0m-10-2h0m-2 1h0m-2-7h0m-12 9h0m0-5h0m-6-6h0m-14 3h0m-38 3h0m-12 5h0m-9-10h0m-5 10h0m-29-1h0m-11-5h0m-9 6h0m-7 0h0m-6-3h0m-8-8h0m-1 3h0m5 19h0m6-8h0m17-1h0m27 2h0m4-3h0m17 11h0m2-9h0m17 7h0m11-7h0m24 4h0m4 1h0m4 4h0m6-4h0m6-6h0m7 2h0m15 7h0m22-9h0m4 9h0m638-8h0m4 3h0m4-3h0m4 4h0m4-6h0m9 2h0m10-1h0m3 3h0m4 1h0m4-2h0m1 2h0m1 1h0m6-6h0m14 0h0m5 5h0m9 2h0m14-3h0m3 0h0m3 3h0m7 2h0m2-8h0m1 0h0m1 9h0m2-3h0m1-7h0m0 9h0m14-9h0m10 1h0m1 9h0m2-3h0m3-4h0m2 7h0m3-8h0m5 6h0m0-8h0m1 11h0m1-6h0m-3 7h0m-17 4h0m0 3h0m-10 0h0m0-6h0m-1-1h0m-3 9h0m-7-6h0m-8 5h0m-1-6h0m-2 7h0m-1-6h0m-8 7h0m-19-5h0m-3 6h0m-10-1h0m-3-2h0m-8-3h0m-2 0h0m-5 0h0m-3 4h0m-4-2h0m-24-6h0m-648 3h0m-2 5h0m-5-2h0m-20-4h0m-3-3h0m-7 4h0m-3 5h0m-16 2h0m-2-8h0m-26-3h0m-33 2h0m-19 8h0m-11-3h0m-24 3h0m0-10h0m-14 1h0m-4-1h0m-30 18h0m4-6h0m13 1h0m6 0h0m13 4h0m7 6h0m22-4h0m42 4h0m5-7h0m9 5h0m1 1h0m4-4h0m18-2h0m28-4h0m21 10h0m0-8h0m12 9h0m6-6h0m7 4h0m645-4h0m23-4h0m18 6h0m7-5h0m4-1h0m1 0h0m10 3h0m1 5h0m4-1h0m1-4h0m2 3h0m0-3h0m13-2h0m9 8h0m0-5h0m14 3h0m8 2h0m4 0h0m-16 7h0m-38-1h0m-5 2h0m-2-4h0m-11-1h0m-4-1h0m0 5h0m-4-5h0m-4 0h0m-687 2h0m-19 0h0m-7 6h0m-1 1h0m-3-1h0m-4 0h0m-13-7h0m-3 6h0m-10-5h0m-4 3h0m-13 4h0m-2-3h0m-3 1h0m-1 3h0m-4-4h0m-7-6h0m-10 5h0m-5-5h0m-11 3h0m-57-1h0m-4 9h0m-14-11h0m-8 11h0m-5-5h0m20 8h0m6 7h0m28-4h0m7 3h0m22 0h0m17-4h0m16 6h0m5-8h0m3 2h0m11 0h0m-16 8h0m-3 3h0m-27 1h0m-13 7h0m-5-6h0m-5 0h0m-21-3h0m-9 9h0m14 2h0m15 0h0m3-1h0m254 78h0m0-3h0m6 5h0m3 1h0m1 0h0m290-1h0m7 2h0m61 12h0m-2 0h0m-32-4h0m0 2h0m-7-1h0m-3-7h0m-4 4h0m-3 3h0m-17 2h0m-5-4h0m-14 6h0m0-5h0m-7 0h0m0 3h0m-258-8h0m-4 2h0m-14 3h0m-73 2h0m-1 11h0m78 2h0m9 0h0m8-6h0m0-3h0m9 5h0m9 6h0m219-4h0m8 3h0m6-4h0m1-3h0m7-1h0m2 0h0m7 0h0m3 7h0m5-3h0m0-4h0m11 9h0m23-2h0m12-7h0m1 5h0m15-4h0m6 2h0m13-5h0m7 9h0m1-5h0m12 4h0m2-4h0m7 5h0m0 4h0m-1 3h0m-1 6h0m0-3h0m-3-4h0m-14-3h0m-7 1h0m-5 7h0m-9-2h0m-1-4h0m-10 5h0m-7-7h0m-25 2h0m-7 7h0m0-7h0m-5 7h0m-3 0h0m-12-3h0m-17 4h0m-3-5h0m-1-1h0m-3 2h0m-9 2h0m-195-8h0m-22 3h0m-2 4h0m-7 2h0m-1-3h0m-2-5h0m-2 7h0m-4-7h0m0 2h0m-1 7h0m-2-9h0m-4 3h0m-2 6h0m-3-9h0m-11 4h0m-81-4h0m-14 7h0m-414-8h0m16 18h0m10-5h0m4 1h0m388 9h0m6-8h0m14-3h0m70 4h0m14-1h0m10-1h0m1 8h0m26-7h0m201 8h0m0-7h0m14 7h0m3-9h0m1 4h0m3 5h0m4-2h0m5 2h0m25-9h0m0 6h0m9 2h0m4-6h0m6 6h0m1-8h0m1 6h0m4-1h0m4 3h0m4-9h0m10 0h0m0 6h0m3-3h0m0 7h0m9-5h0m5-4h0m28 3h0m3 3h0m15-3h0m5 5h0m3 13h0m-16-2h0m0-8h0m0 4h0m-2 6h0m-1-1h0m-5-1h0m-4-9h0m-4 1h0m0 6h0m-10 0h0m-24-1h0m-1 5h0m-12-10h0m-4 3h0m-12 1h0m-12-5h0m-2 10h0m-6-5h0m-13 2h0m-2-6h0m-1 4h0m-11 3h0m-2 3h0m-1-6h0m-10-2h0m-229 3h0m-7-3h0m-7 6h0m-9 0h0m-6-8h0m-89 1h0m83 21h0m10 0h0m3-2h0m11-3h0m5 0h0m230-1h0m0 2h0m6-4h0m2-1h0m11 2h0m2-1h0m8 1h0m5-1h0m7-2h0m20 6h0m2-3h0m1 7h0m4-6h0m6-1h0m4-4h0m6 9h0m1-6h0m2 4h0m24 1h0m6-1h0m6 2h0m6-4h0m1 2h0m7 4h0m3-8h0m2 3h0m8 4h0m7-2h0m6-3h0m2 4h0m-6 10h0m-2 1h0m-4-4h0m-1-3h0m-5 1h0m-14 6h0m-3-8h0m-11 2h0m-9 1h0m-1-3h0m-10 2h0m-3 7h0m-1-7h0m-7 1h0m-15 3h0m-1 3h0m-23-2h0m-3-1h0m-2 3h0m-2-4h0m-2 1h0m-5 4h0m-8-5h0m-7-5h0m-239 6h0m-1-5h0m-15 1h0m-4 8h0m-1-4h0m-5-2h0m-3 2h0m-7-2h0m-203 5h0m-23 5h0m0 8h0m8-1h0m1-4h0m7 6h0m2-8h0m6-1h0m1 7h0m6-9h0m8 7h0m184 1h0m23-6h0m16 7h0m0 2h0m2-5h0m259 5h0m3-4h0m12-4h0m17 3h0m1-6h0m4 5h0m6 4h0m2-5h0m4-2h0m2 6h0m2-6h0m6 0h0m8 4h0m10 0h0m1-5h0m6 2h0m17-1h0m2 6h0m1-5h0m7-1h0m4-1h0m-29 11h0m-4 3h0m-5-3h0m-1 5h0m-18-4h0m-10 0h0m-1 8h0m-2-4h0m-2-4h0m0 10h0m-4-5h0m-3 4h0m-11-7h0m-7 2h0m-6-4h0m-266 7h0m-7-4h0m-6 5h0m-3-4h0m0 6h0m-7-10h0m-1 7h0m-9 3h0m-4-6h0m-2-5h0m-176 1h0m-3 2h0m-4 4h0m-7 4h0m-5-7h0m-8-1h0m-3 0h0m-7 2h0m-4-1h0m-15-1h0m-10 6h0m-21-1h0m-1 2h0m-5-3h0m-5-2h0m8 16h0m24 2h0m14 0h0m19-4h0m19-2h0m8-4h0m6 4h0m2 6h0m1-11h0m164 5h0m4-2h0m1-3h0m1 11h0m8-8h0m5-1h0m5 1h0m3 0h0m2 4h0m16 0h0m6 3h0m3-10h0m6 8h0m281-8h0m1 3h0m14 1h0m7-4h0m-308 21h0m-9-9h0m-1 2h0m-6 7h0m-16-2h0m-8 4h0m-5-7h0m-5 4h0m-3-6h0m-5 6h0m-171-8h0m-3 4h0m-13 7h0m-27-8h0m-10 6h0m-2 0h0m-2-3h0m-3-4h0m-2 9h0m-14 11h0m25-4h0m4 0h0m1-4h0m2 2h0m2 5h0m2-2h0m214-1h0m20-5h0m0 5h0m4 5h0m22-8h0m322-2h0m-340 12h0m-10 0h0m-16 3h0m-215 0h0m-3-4h0m0 6h0m-5-3h0m-11 7h0m-1-9h0m-5-1h0m-9 3h0m-5-2h0m-2 18h0m5 2h0m5-6h0m6 5h0m4 3h0m8-11h0m8 2h0m0 4h0m6 0h0m0 3h0m4-1h0m5-3h0m3 0h0m4 1h0m4 1h0m7-1h0m494 5h0m5-1h0m1 1h0m16-1h0m2 0h0m11-5h0m-17 8h0m-8 0h0m-511-1h0m-10 8h0m-2-3h0m-7-3h0m-15 1h0m-5 3h0m-6-6h0m-8 5h0m-16 5h0m-8 9h0m0-5h0m14 9h0m5-6h0m2-1h0m7-2h0m8 9h0m2-1h0m-10 6h0m-9-4h0m-11 1h0m-7 5h0m-7 3h0m-6-1h0m7 7h0m7-2h0m15 5h0m441 60h0m-14 5h0m-11-5h0m-15 17h0m19-4h0m4 0h0m22-7h0m-10 14h0m-12 2h0m-5 2h0m-1-2h0m-5 3h0m-1-2h0m-12 0h0m-13 5h0m-8-1h0m-30 13h0m6-6h0m2 7h0m5-5h0m2-5h0m1 4h0m0-1h0m19 7h0m8-9h0m3-1h0m3 1h0m4 6h0m10-3h0m5 1h0m11 4h0m9-10h0m2 4h0m-20 9h0m-2 1h0m-19-2h0m-2 6h0m-4-6h0m-2 7h0m-5-7h0m-3 3h0m0 5h0m-8-3h0m-13-1h0m-8 0h0"/>
<path stroke="#d2426f" d="M970 255h0m132 27h0m-203 5h0m-47 0h0m233 24h0m-258 2h0m44 12h0m323 27h0m-14-2h0m-380 3h0m246 11h0m319 6h0m-37 12h0m-302-6h0m-122-3h0m-84 4h0m-53 6h0m258 10h0m61-2h0m198-7h0m96 12h0m-246 0h0m-183 20h0m420-2h0m-579 11h0m-15-3h0m205 13h0m12 5h0m350-3h0m-569 11h0m44 13h0m11 5h0m283-2h0m289 14h0m-275 0h0m-244-10h0m-15 1h0m-5 6h0m-71-4h0m47 10h0m26-1h0m10 0h0m47 5h0m12 5h0m286-7h0m-341 13h0m-47 3h0m-24-7h0m-2 21h0m9-4h0m52-2h0m-72 13h0m60 12h0m321 3h0m-209 17h0m285 15h0m-70 44h0m35 10h0m-496 89h0m23 53h0m-37 22h0m39 24h0m-50 10h0m94 8h0m14-7h0m7-2h0m521 171h0m47 65h0m-583 48h0"/>
<path stroke="#832681" d="M940 214h0m85 8h0m45 3h0m49 11h0m-8 2h0m-193 2h0m-68 24h0m60 6h0m138 4h0m79-2h0m41 10h0m-198 4h0m-37 3h0m237 17h0m-59 8h0m31 11h0m-39 6h0m-116 0h0m-95 2h0m101 10h0m116 3h0m94-4h0m140 16h0m-214-8h0m55 17h0m57 7h0m-201 3h0m-35-3h0m-225-1h0m-19 12h0m480 10h0m103 6h0m-443 0h0m-117 7h0m326 0h0m-308 13h0m-22 8h0m-1-3h0m6 7h0m59 5h0m4 1h0m26 4h0m111-5h0m406-6h0m19 5h0m-33 9h0m-169 1h0m-335 5h0m-26 2h0m-4 1h0m-3-2h0m-41-1h0m67 7h0m324 3h0m219 2h0m-168 6h0m-122 1h0m-206 0h0m-42 0h0m-22 1h0m-44-3h0m-15 12h0m77 10h0m12-8h0m19 6h0m233-3h0m177 15h0m-447-7h0m-50 20h0m23-9h0m10 8h0m14-6h0m12-1h0m9 6h0m25-1h0m21-6h0m367 5h0m25 1h0m-456 5h0m-10 23h0m33 0h0m55 5h0m-75-3h0m121 19h0m211 0h0m3 26h0m23-1h0m5-8h0m-894 56h0m1336 41h0m-85 15h0m68 24h0m-84 8h0m125-1h0m-63 40h0m-29 3h0m-712-2h0m-31 29h0m43 8h0m94 148h0m-477 15h0m772 3h0m-489 27h0m-39 44h0m25 65h0"/>
<path stroke="#56147d" d="M926 201h0m11 2h0m91 4h0m-8-1h0m-7 9h0m-17-7h0m-46 6h0m-36-5h0m-23 3h0m-7-5h0m-35 7h0m-30 11h0m14-5h0m14-1h0m10-1h0m8 5h0m18 3h0m27-10h0m13 5h0m3 6h0m35-3h0m41 3h0m7-5h0m26 5h0m40-2h0m9-7h0m8 5h0m7-1h0m6 13h0m-13-6h0m-5 6h0m-2-2h0m-16 4h0m-15-7h0m-26 7h0m-11 2h0m-2-8h0m-23 8h0m-3-4h0m-14 1h0m-10 0h0m-3-4h0m-13 1h0m-26-1h0m-20 6h0m-19-1h0m-1-2h0m-12 1h0m-14-5h0m-19 3h0m-23-2h0m-4 16h0m6-5h0m1 3h0m11 1h0m5 4h0m28-6h0m2-5h0m7 1h0m3 1h0m24 0h0m67-2h0m11 7h0m22-5h0m30 6h0m18 1h0m15-1h0m8-7h0m27 2h0m26 3h0m13 0h0m15 3h0m-26 11h0m-3-1h0m-3 0h0m-20-3h0m-12-4h0m-7 3h0m-1 3h0m-8-5h0m-5 6h0m-20-3h0m-2 2h0m-12 5h0m-2-6h0m-3 2h0m-7 1h0m-10-8h0m-24 4h0m-1 4h0m-17-8h0m-10 10h0m-15-7h0m-9 7h0m-39-10h0m-43 10h0m-46-10h0m-2 18h0m1 5h0m26-6h0m1-4h0m32 9h0m5-6h0m11 3h0m14-7h0m4 11h0m18-5h0m0-5h0m2 10h0m24-4h0m35-4h0m33 8h0m4-8h0m6 2h0m58 1h0m1-6h0m6 10h0m10-7h0m50 3h0m22-5h0m11 7h0m18 14h0m-8-5h0m-16 3h0m-14 3h0m-33-7h0m-8 3h0m-63 0h0m-5-1h0m-55 1h0m-3-6h0m-14 4h0m-2 4h0m-21 0h0m-75-4h0m-9 5h0m-18-9h0m-16 5h0m-11-5h0m-12 7h0m7 10h0m2 2h0m24-6h0m21 3h0m11 1h0m10-5h0m12 2h0m25-2h0m8 3h0m2 5h0m2-2h0m0-5h0m16-2h0m7 4h0m22-2h0m3 4h0m56 4h0m0-9h0m23 3h0m2-2h0m19 0h0m7 6h0m59-4h0m4 0h0m41 2h0m6 5h0m-5 12h0m-2 0h0m-49-11h0m-19 7h0m-6-2h0m-78-1h0m-9 4h0m-20-2h0m-43-5h0m-31 7h0m-67-5h0m-18-2h0m-31 8h0m36 3h0m15 9h0m1-9h0m2 11h0m5-10h0m8 5h0m10-1h0m8 3h0m3-2h0m13-4h0m24 9h0m92-1h0m7-4h0m11 3h0m5-4h0m10-4h0m1 1h0m6 9h0m1-4h0m6-5h0m6 5h0m1 1h0m15-5h0m2 0h0m7 8h0m9 0h0m26-11h0m16 6h0m32-4h0m18-2h0m15 11h0m38 8h0m-15-7h0m-22 7h0m-39-5h0m-31-2h0m-10 2h0m-24 0h0m-21 5h0m-12 1h0m-48-8h0m-21 2h0m-23-2h0m-11 7h0m-22-1h0m-6 4h0m-28-5h0m-40-4h0m-13 5h0m-26-4h0m-15-1h0m-12 5h0m-10 6h0m6 6h0m64 2h0m22-3h0m43 3h0m7-6h0m10 0h0m2 3h0m8-5h0m2 7h0m3-3h0m10 5h0m19-3h0m9-5h0m16 1h0m31-1h0m7 6h0m47 0h0m40 3h0m3-9h0m11 0h0m5 2h0m28-2h0m16 6h0m42 3h0m9-7h0m1-2h0m8 6h0m72 13h0m-56-8h0m-47 11h0m-46-3h0m-43 3h0m-14-3h0m-2-5h0m-17 0h0m-5 1h0m-3 1h0m-12 5h0m-20 0h0m-33-4h0m-21-6h0m-49 7h0m-1-5h0m-4-2h0m-4 4h0m-17-3h0m-1 10h0m-11-9h0m-22-1h0m-9-1h0m-4 2h0m-28 7h0m-6-7h0m-31 4h0m34 6h0m7 10h0m21-6h0m10-2h0m29 1h0m7 6h0m35-9h0m17 3h0m7 1h0m0 6h0m3-8h0m31 2h0m2-1h0m28 2h0m25 3h0m9-5h0m0 5h0m18-8h0m3 11h0m15 0h0m0-4h0m18-2h0m5-4h0m15 3h0m28-1h0m30 6h0m4-5h0m11 3h0m32 0h0m1 3h0m13-7h0m11 1h0m3 7h0m6-6h0m5-3h0m2 4h0m27-4h0m16 17h0m-9-4h0m-36 0h0m-8 0h0m-14 4h0m-13 1h0m-1-2h0m-2 1h0m-17 3h0m-16-10h0m-14 9h0m-38 2h0m-27-9h0m-6 6h0m-18-5h0m-13 7h0m-14-1h0m-4 0h0m-39-8h0m-55 0h0m-23 2h0m-2-3h0m-23 3h0m-10 4h0m-10-5h0m-3 3h0m-4 4h0m-2 2h0m-4-8h0m-3-3h0m-37 8h0m12 7h0m41 0h0m15 2h0m4-1h0m4-2h0m11-1h0m2 3h0m11 1h0m4-2h0m14-1h0m5 5h0m49 0h0m26-5h0m0 8h0m8-5h0m4 4h0m5 0h0m47-5h0m9 2h0m2-5h0m2 7h0m29 0h0m10-8h0m2 4h0m9 5h0m7-9h0m10 0h0m0 7h0m2-3h0m5-4h0m3 2h0m2 4h0m0-6h0m2 11h0m5 0h0m38-3h0m21-6h0m22 8h0m12-3h0m5-6h0m5 9h0m3-7h0m6-3h0m-7 23h0m-15-8h0m-48 3h0m-7-2h0m-10-1h0m-12 8h0m-23-9h0m-7 4h0m-19-2h0m-15 0h0m-24 5h0m-10 1h0m-5 1h0m-3-10h0m-12 1h0m-48-2h0m-11 8h0m-5-3h0m-9-4h0m-9 4h0m-17 1h0m-2-3h0m-4 1h0m-7 0h0m-17 6h0m-41-5h0m-3 0h0m-4 6h0m-109-10h0m76 19h0m26-6h0m22-1h0m10-1h0m33 11h0m2-8h0m33-3h0m11 9h0m14 0h0m9-4h0m10-3h0m26 7h0m45-3h0m24 5h0m24-6h0m1-4h0m10 2h0m8-2h0m6 2h0m7 3h0m11 3h0m7-7h0m24 3h0m11 2h0m18 3h0m26 11h0m-85-3h0m-27 2h0m-4 3h0m-13-11h0m-22 10h0m-11-5h0m-5 3h0m-7 0h0m-18-3h0m-2 2h0m-14-3h0m-6 6h0m-20-10h0m-34 5h0m-16-3h0m-68 1h0m-3-1h0m-75-2h0m-88 12h0m121 7h0m35-4h0m54 4h0m61-5h0m45 1h0m11 0h0m4 2h0m0 4h0m16-8h0m2 2h0m58 3h0m58-6h0m25 9h0m26-1h0m4 2h0m21-4h0m19 14h0m-4-7h0m-7 7h0m-9-8h0m-2 2h0m-11 3h0m0 5h0m-11-2h0m-40-4h0m-23-3h0m-9 5h0m-32 4h0m-14-8h0m-32 6h0m-10-8h0m-20 0h0m-8 8h0m-32 3h0m-51-10h0m-99 1h0m142 21h0m6-1h0m17-1h0m15-1h0m3-3h0m1-5h0m9 5h0m4 5h0m0-8h0m9 0h0m15 5h0m4 0h0m1-6h0m29 6h0m14-7h0m9 10h0m4-1h0m35-4h0m21 5h0m9-4h0m11-1h0m11-4h0m1 6h0m1-3h0m3 2h0m12 1h0m12-3h0m5 13h0m-18-3h0m-2 9h0m-20 0h0m-4-6h0m-28 5h0m-23-3h0m-12 1h0m-7-1h0m0-1h0m-20 5h0m-5-4h0m-8-2h0m-24-3h0m-1 6h0m-4-6h0m-20-1h0m-14 7h0m0-8h0m-14 0h0m-14 10h0m16 12h0m14 0h0m5-6h0m27 4h0m6 1h0m24-5h0m24 1h0m37 0h0m23 1h0m11-1h0m7-5h0m6 11h0m2-6h0m14 0h0m-36 12h0m-22-3h0m-2 5h0m-1 2h0m-53 0h0m-3-6h0m-6 0h0m-20 5h0m-5-1h0m-12 4h0m-20-11h0m32 21h0m32-7h0m21 1h0m2 8h0m12-9h0m33-2h0m-121 18h0m-58 13h0m32 1h0m1 2h0m58-10h0m-20 23h0m-27-7h0m-15-1h0m-11 0h0m-22-2h0m-2 5h0m18 12h0m33-2h0m10-1h0m3 1h0m6 7h0m2-9h0m45 16h0m-16-4h0m-8-2h0m-3 10h0m-14-2h0m-15-3h0m-46 4h0m-9-3h0m17 6h0m6 1h0m48 7h0m9-1h0m2 1h0m-17 15h0m-43-4h0m-12 4h0m-11 0h0m-7-7h0m21 15h0m6 1h0m41-5h0m27-2h0m-40 22h0m-6-7h0m-12 2h0m-7-3h0m487 48h0m-9-2h0m-100 15h0m110 3h0m29-4h0m14 6h0m1 11h0m-44-4h0m-11 1h0m-61 4h0m58 12h0m5 12h0m-81-1h0m-824 3h0m-21-6h0m-2 3h0m877 9h0m92 10h0m-33 0h0m-4 7h0m-12 1h0m-81-1h0m-26-9h0m-21 2h0m-692 6h0m-67-6h0m-11 6h0m12 6h0m90 5h0m699 1h0m40 11h0m-32-6h0m-687 1h0m-123-3h0m-6 6h0m-23 0h0m10 17h0m20-10h0m0 2h0m110 1h0m15 2h0m677-2h0m132 9h0m-44 4h0m-4 5h0m-9-3h0m-47-5h0m-24 8h0m-669-5h0m-47 5h0m-1-6h0m-35 5h0m-73 1h0m48 9h0m19-1h0m39-5h0m794 5h0m21-1h0m-335 128h0m-24 1h0m-7 7h0m-269 9h0m257-2h0m32-1h0m2 7h0m59 7h0m-347-2h0m-112 3h0m12 7h0m83 7h0m300-4h0m27 6h0m31-5h0m7 2h0m34 16h0m-132-1h0m-269-7h0m269 16h0m69 0h0m66 1h0m-67 13h0m-309 2h0m-3-11h0m-242 16h0m562 1h0m5-5h0m37 6h0m-17 7h0m-30 0h0m-498 3h0m-4 5h0m-4-3h0m-12-6h0m-83 12h0m15 6h0m21 4h0m13-5h0m-22 24h0m249-4h0m20 6h0m-28 14h0m-7-7h0m-222 2h0m-5 16h0m6 14h0m-29 1h0m-3-11h0m-1 13h0m2 19h0m-12 1h0m-4 7h0m16-2h0m424 68h0m4 6h0m16 6h0m5-4h0m-9 15h0m-14-6h0m12 14h0"/>
<path stroke="#a3307e" d="M1131 237h0m-164 12h0m35-6h0m61 19h0m-218-7h0m274 20h0m-14 5h0m-29 3h0m-234-6h0m-29 7h0m-6 2h0m17 3h0m2 4h0m9-2h0m140 6h0m98-1h0m89-3h0m-78 15h0m-137-3h0m-57 6h0m17 3h0m132 6h0m163 2h0m19-9h0m41 22h0m-135-5h0m-134 5h0m-55-5h0m-5-4h0m-108 3h0m-1 6h0m-6-3h0m100 14h0m12-4h0m9 3h0m49 1h0m76 0h0m150-3h0m4 4h0m80-10h0m-29 17h0m-4 1h0m-196 3h0m-18-7h0m-148 0h0m-65 7h0m-35-3h0m157 5h0m61 2h0m31 6h0m21-7h0m176-1h0m17 3h0m109-2h0m-88 13h0m-60 8h0m-123-2h0m-28-2h0m-68-3h0m-41-3h0m-68 4h0m324 8h0m77 0h0m5 8h0m15-3h0m44 1h0m29-1h0m-89 8h0m-97 0h0m-7-1h0m-113 0h0m-5 8h0m-2-1h0m-62-6h0m-100 4h0m48 9h0m89 0h0m74-1h0m13 7h0m252-4h0m-371 19h0m-19-7h0m-13-1h0m29 13h0m73-3h0m134 7h0m143-4h0m11-3h0m16 8h0m-70 4h0m-168 10h0m-37-4h0m-45-4h0m-26 4h0m-53-2h0m-85 3h0m175 11h0m16-3h0m25 4h0m45 2h0m173-10h0m61 21h0m-14-7h0m-42 8h0m-22-10h0m-33 0h0m-5 4h0m-12 3h0m-17-3h0m-260 10h0m150 1h0m191 2h0m6 11h0m-228-1h0m-110 17h0m340-7h0m-40 11h0m-98 5h0m-123 0h0m-123 4h0m-25-3h0m230 14h0m-202 18h0m235 2h0m39 3h0m7 0h0m-12 9h0m-53 3h0m-299 1h0m-25 7h0m327 11h0m-80 5h0m-5 0h0m106 10h0m4 5h0m-871 14h0m1328 76h0m-982 16h0m-11 15h0m1020 1h0m-873 4h0m-63-3h0m-83 5h0m36 17h0m38-3h0m31 0h0m28-5h0m-103 14h0m-3-5h0m-10 0h0m26 22h0m8-8h0m0 17h0m-37-2h0m-8-3h0m13 10h0m17 4h0m16 4h0m85-2h0m-11 16h0m-25-7h0m-78 19h0m20-10h0m20 11h0m10-1h0m53-8h0m-36 15h0m-10 2h0m-37-6h0m543 146h0m71 17h0m-526 14h0m-31-1h0m4 35h0m232-6h0m361 12h0m-592 16h0m13 17h0m-32 3h0m39 11h0m389 127h0m-4 0h0m-34 1h0m-15 1h0"/>
<path stroke="#fed395" d="M789 499h0m73 29h0"/>
<path stroke="#df4a68" d="M1048 311h0m-232 3h0m22 6h0m347 8h0m-351 19h0m3 22h0m-26 5h0m-62 19h0m406 0h0m185 5h0m-273 31h0m-51-3h0m-3-2h0m-160 39h0m159-2h0m254-5h0m1 4h0m-320 12h0m-136 11h0m299-3h0m-269 12h0m32 41h0m181 5h0m24-3h0m144-6h0m-405 12h0m119 11h0m28 5h0m-104 14h0m-11 2h0m-519 61h0m11-7h0m429 83h0m-76 18h0m87 1h0m-96 26h0m51 2h0m-41 30h0m157 27h0m-151 11h0m15-3h0m68 11h0m-57-5h0m-9 7h0"/>
<path stroke="#f4675c" d="M780 385h0m208 23h0m-191 33h0m220-5h0m-194 15h0m-10 15h0m63 3h0m-10 0h0m-17 7h0m30 15h0m61 12h0m-149 12h0m253 4h0m-128 6h0m-15-6h0m-56 6h0m25 7h0m-185 254h0m39 16h0m133 227h0"/>
<path stroke="#932b80" d="M932 199h0m48-1h0m18 5h0m44 9h0m-16 0h0m-114-6h0m19 21h0m4 0h0m7-1h0m61-3h0m90-1h0m16 5h0m0 11h0m-55-6h0m-186 6h0m-50 12h0m72-8h0m76 4h0m10-6h0m32 1h0m27 10h0m62-3h0m9 0h0m38 13h0m-30 1h0m-65-6h0m-215 0h0m-21 16h0m34 0h0m12 3h0m37-9h0m5 9h0m8-8h0m19-3h0m56 7h0m37-4h0m9 3h0m78-6h0m48 9h0m-10 10h0m-70-6h0m-31 10h0m-198 7h0m5-3h0m19 0h0m321 18h0m-25 2h0m-84-6h0m-66 4h0m-54-4h0m-31 0h0m-60-5h0m-14 19h0m55 1h0m24-8h0m67 1h0m22 0h0m23 10h0m22-7h0m29 6h0m50-6h0m12 6h0m50 1h0m65 6h0m-88-2h0m-26 0h0m-62-2h0m-146 6h0m-47 4h0m-12-2h0m-69 1h0m40 12h0m16-8h0m25 0h0m16-1h0m127 4h0m22-5h0m16 2h0m25 6h0m189-5h0m16 17h0m-82 1h0m-7-2h0m-4 3h0m-112-7h0m-206-1h0m-10 3h0m46 8h0m49 9h0m8 0h0m72-4h0m10 4h0m27-4h0m4-5h0m20 7h0m50-7h0m86 3h0m11-2h0m12 6h0m64-6h0m11 5h0m-183 5h0m-29 2h0m-42-2h0m-47 5h0m-80-2h0m-29-1h0m24 21h0m78-2h0m0-1h0m84-8h0m27 3h0m53 4h0m32 4h0m38-7h0m72 9h0m-47 6h0m-32-3h0m-10 2h0m-9 1h0m-10 2h0m-91-5h0m-23 5h0m-56-2h0m-14-5h0m-10 7h0m-86-9h0m-24 20h0m109 2h0m11-2h0m24-4h0m143 6h0m0-3h0m58 0h0m79 15h0m-8 0h0m-9-1h0m-158-4h0m-246-5h0m313 22h0m135 9h0m-26-2h0m-35 6h0m-5-6h0m-34-1h0m-11-3h0m-24 2h0m-263-2h0m-214 2h0m0 13h0m387 3h0m8-4h0m6-3h0m19 0h0m56 1h0m18 1h0m81 10h0m-109 6h0m-1-6h0m-393 6h0m376 8h0m9 3h0m48-2h0m2 0h0m27-1h0m-23 11h0m-271 8h0m-161-3h0m44 11h0m238-3h0m105 8h0m58-8h0m-97 11h0m-79 6h0m-8-6h0m76 14h0m-16 10h0m-22 5h0m37 12h0m22-1h0m43 16h0m-29-5h0m-28 3h0m-3-3h0m-165 5h0m158 4h0m7 3h0m44-1h0m4 1h0m11 7h0m3-5h0m1-3h0m-32 9h0m-10 6h0m-10 2h0m-32 14h0m388 62h0m-3 21h0m21 26h0m-845 0h0m-57 0h0m976 16h0m-7 18h0m1 8h0m-807-1h0m-38 12h0m15 0h0m701-4h0m100 21h0m0-6h0m-73 6h0m-705-8h0m-52 10h0m-55-8h0m-6 14h0m103 2h0m46-5h0m787 2h0m-394 133h0m-360 40h0m445 14h0m-90-10h0m140 20h0m-83 4h0m-528 9h0m229 10h0m303-8h0m29 16h0m-529 3h0m-8-3h0m-47 0h0m246 17h0m317-8h0m-561 59h0m-18 10h0m395 106h0m27 14h0m-29 4h0m4 2h0"/>
<path stroke="#f9785d" d="M772 380h0m32 25h0m-23 9h0m19 19h0m53 10h0m-22 21h0m52 29h0m-44 3h0"/>
<path stroke="#feae77" d="M851 476h0m208 43h0"/>
<path stroke="#752181" d="M1000 279h0m-169 5h0m287 29h0m-307 31h0m19 1h0m220-9h0m-206 14h0m-19 6h0m-13-7h0m-15 2h0m-6 20h0m6-10h0m15 10h0m20-7h0m204 15h0m-185-5h0m-11 2h0m-34-3h0m-28 2h0m-11 17h0m4-1h0m4-6h0m125 9h0m138 1h0m-111 2h0m-111 14h0m40 3h0m305 12h0m-167-3h0m-27 4h0m62 11h0m16 2h0m7-5h0m3 3h0m-8 11h0m-16 0h0m-2 4h0m-91-5h0m-41-2h0m-28-1h0m-74 7h0m1 11h0m43 4h0m42-10h0m3 4h0m10 1h0m190-3h0m3-3h0m5 0h0m44 11h0m25-7h0m253 14h0m-253-1h0m-47 0h0m-21 5h0m-26-10h0m-141 11h0m-44-6h0m-7-5h0m-44 11h0m-26-5h0m-13 15h0m36-5h0m62 1h0m20 0h0m55 4h0m99 2h0m29 0h0m7-6h0m18-4h0m33 9h0m10 0h0m45 10h0m-27 0h0m-54-7h0m-50 8h0m-37-3h0m-74 5h0m-18-3h0m-26 2h0m-38-1h0m-28-3h0m-58 15h0m9-6h0m63 7h0m296 4h0m-216 8h0m-15-8h0m-34 3h0m-18 1h0m-6 2h0m-44 3h0m2 4h0m55 5h0m18-1h0m5-7h0m245 15h0m-178-1h0m-39 5h0m-10-6h0m-65 6h0m-7-5h0m-11 3h0m-3 5h0m-18 1h0m64 10h0m4-2h0m8-1h0m70-4h0m218 0h0m-11 19h0m-242-3h0m131 18h0m-284 114h0m-98 16h0m16 8h0m7 3h0m9 1h0m-19 8h0m-23-3h0m30 16h0m102-6h0m-117 17h0m18 29h0m-11 7h0m21 4h0m26-1h0m-52 3h0m33 17h0m57 0h0m-15 15h0m416 360h0m19 20h0"/>
</g>
<path d="M205.4 142.6V1304.8M203.2 1302.6H1829" stroke="#000" stroke-width="4.4" fill="none" stroke-linecap="butt"/>
<path d="M190.8 197.2H205M190.8 587.3H205M190.8 977.4H205M219.9 1302V1316.7M514.8 1302V1316.7M809.6 1302V1316.7M1104.5 1302V1316.7M1399.3 1302V1316.7M1694.2 1302V1316.7" stroke="#000" stroke-width="4.4" fill="none"/>
<text x="177.6" y="215.5" text-anchor="end" class="t">20</text>
<text x="177.6" y="605.6" text-anchor="end" class="t">10</text>
<text x="177.6" y="995.7" text-anchor="end" class="t">0</text>
<text x="219.9" y="1365.7" text-anchor="middle" class="t">-5</text>
<text x="514.8" y="1365.7" text-anchor="middle" class="t">0</text>
<text x="809.6" y="1365.7" text-anchor="middle" class="t">5</text>
<text x="1104.5" y="1365.7" text-anchor="middle" class="t">10</text>
<text x="1399.3" y="1365.7" text-anchor="middle" class="t">15</text>
<text x="1694.2" y="1365.7" text-anchor="middle" class="t">20</text>
<text transform="translate(1016.8 100.9) scale(0.925 1)" text-anchor="middle" class="ti">ITPR3</text>
<text transform="translate(1014.5 1434.9) scale(0.922 1)" text-anchor="middle" class="ax">UMAP_1</text>
<text transform="translate(95.1 722.5) rotate(-90) scale(0.922 1)" text-anchor="middle" class="ax">UMAP_2</text>
<defs><linearGradient id="g" x1="0" y1="0" x2="0" y2="1"><stop offset="0.000" stop-color="#fcfdbf"/><stop offset="0.050" stop-color="#fde7a9"/><stop offset="0.100" stop-color="#fecf92"/><stop offset="0.150" stop-color="#feb77e"/><stop offset="0.200" stop-color="#fe9f6d"/><stop offset="0.250" stop-color="#fc8961"/><stop offset="0.300" stop-color="#f7705c"/><stop offset="0.350" stop-color="#ed5a5f"/><stop offset="0.400" stop-color="#de4968"/><stop offset="0.450" stop-color="#ca3e72"/><stop offset="0.500" stop-color="#b73779"/><stop offset="0.550" stop-color="#a1307e"/><stop offset="0.600" stop-color="#8c2981"/><stop offset="0.650" stop-color="#782281"/><stop offset="0.700" stop-color="#641a80"/><stop offset="0.750" stop-color="#51127c"/><stop offset="0.800" stop-color="#3b0f70"/><stop offset="0.850" stop-color="#251255"/><stop offset="0.900" stop-color="#140e36"/><stop offset="0.950" stop-color="#06051a"/><stop offset="1.000" stop-color="#000004"/></linearGradient></defs>
<rect x="1885.2" y="578" width="63.8" height="319" fill="url(#g)"/>
<path d="M1885.2 897.1h12.5M1936.5 897.1h12.5M1885.2 836.8h12.5M1936.5 836.8h12.5M1885.2 776.6h12.5M1936.5 776.6h12.5M1885.2 716.3h12.5M1936.5 716.3h12.5M1885.2 656.0h12.5M1936.5 656.0h12.5M1885.2 595.8h12.5M1936.5 595.8h12.5" stroke="#fff" stroke-width="1.6"/>
<text x="1977.4" y="915.1" class="t">0.0</text>
<text x="1977.4" y="854.8" class="t">0.5</text>
<text x="1977.4" y="794.6" class="t">1.0</text>
<text x="1977.4" y="734.3" class="t">1.5</text>
<text x="1977.4" y="674.0" class="t">2.0</text>
<text x="1977.4" y="613.8" class="t">2.5</text>
</svg></body></html>
